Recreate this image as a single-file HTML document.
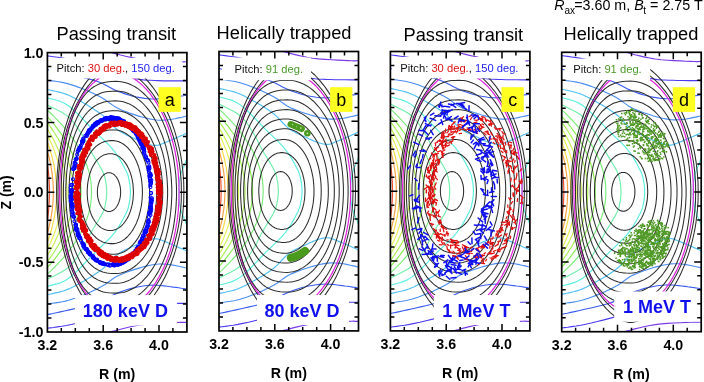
<!DOCTYPE html>
<html><head><meta charset="utf-8"><style>
html,body{margin:0;padding:0;background:#fff;width:704px;height:382px;overflow:hidden}
svg{display:block;font-family:"Liberation Sans",sans-serif;will-change:transform}
</style></head><body>
<svg width="704" height="382" viewBox="0 0 704 382">
<defs><g id="bg">
<g fill="none" stroke-width="1.15"><path d="M-0.7 171.7L-0.5 170.6L-0.3 169.6L-0.1 168.5L0.0 167.4L0.2 166.3L0.3 165.3L0.5 164.2L0.6 163.1L0.7 162.0L0.9 161.0L1.0 159.9L1.1 158.8L1.2 157.7L1.3 156.7L1.4 155.6L1.5 154.5L1.6 153.5L1.7 152.4L1.7 151.3L1.8 150.2L1.9 149.2L1.9 148.1L1.9 147.0L2.0 145.9L2.0 144.9L2.1 143.8L2.1 142.7L2.1 141.6L2.1 140.6L2.1 139.5L2.1 138.4L2.1 137.4L2.1 136.3L2.1 135.2L2.0 134.1L2.0 133.1L1.9 132.0L1.9 130.9L1.9 129.8L1.8 128.8L1.7 127.7L1.7 126.6L1.6 125.5L1.5 124.5L1.4 123.4L1.3 122.3L1.2 121.3L1.1 120.2L1.0 119.1L0.9 118.0L0.7 117.0L0.6 115.9L0.5 114.8L0.3 113.7L0.2 112.7L0.0 111.6L-0.1 110.5L-0.3 109.4L-0.5 108.4L-0.7 107.3" stroke="#f05030"/><path d="M-1.9 186.7L-1.4 185.1L-0.9 183.5L-0.4 181.9L0.0 180.4L0.5 178.8L0.9 177.2L1.3 175.6L1.7 174.1L2.1 172.5L2.4 170.9L2.8 169.4L3.1 167.8L3.4 166.2L3.7 164.6L3.9 163.1L4.2 161.5L4.4 159.9L4.7 158.4L4.9 156.8L5.0 155.2L5.2 153.6L5.3 152.1L5.5 150.5L5.6 148.9L5.7 147.4L5.8 145.8L5.8 144.2L5.9 142.6L5.9 141.1L5.9 139.5L5.9 137.9L5.9 136.4L5.8 134.8L5.8 133.2L5.7 131.6L5.6 130.1L5.5 128.5L5.3 126.9L5.2 125.4L5.0 123.8L4.9 122.2L4.7 120.6L4.4 119.1L4.2 117.5L3.9 115.9L3.7 114.4L3.4 112.8L3.1 111.2L2.8 109.6L2.4 108.1L2.1 106.5L1.7 104.9L1.3 103.4L0.9 101.8L0.5 100.2L0.0 98.6L-0.4 97.1L-0.9 95.5L-1.4 93.9L-1.9 92.3" stroke="#f5a040"/><path d="M-3.0 197.0L-2.2 195.1L-1.4 193.2L-0.7 191.2L0.1 189.3L0.8 187.4L1.4 185.5L2.0 183.6L2.7 181.7L3.2 179.8L3.8 177.8L4.3 175.9L4.8 174.0L5.3 172.1L5.7 170.2L6.2 168.2L6.6 166.3L6.9 164.4L7.3 162.5L7.6 160.6L7.8 158.7L8.1 156.8L8.3 154.8L8.5 152.9L8.7 151.0L8.9 149.1L9.0 147.2L9.1 145.2L9.1 143.3L9.2 141.4L9.2 139.5L9.2 137.6L9.1 135.7L9.1 133.8L9.0 131.8L8.9 129.9L8.7 128.0L8.5 126.1L8.3 124.2L8.1 122.2L7.8 120.3L7.6 118.4L7.3 116.5L6.9 114.6L6.6 112.7L6.2 110.8L5.7 108.8L5.3 106.9L4.8 105.0L4.3 103.1L3.8 101.2L3.2 99.2L2.7 97.3L2.0 95.4L1.4 93.5L0.8 91.6L0.1 89.7L-0.7 87.8L-1.4 85.8L-2.2 83.9L-3.0 82.0" stroke="#f5d840"/><path d="M-4.7 205.1L-3.4 202.9L-2.2 200.7L-1.0 198.5L0.1 196.3L1.2 194.1L2.2 191.9L3.3 189.8L4.2 187.6L5.1 185.4L6.0 183.2L6.9 181.0L7.6 178.8L8.4 176.6L9.1 174.5L9.8 172.3L10.4 170.1L11.0 167.9L11.5 165.7L12.0 163.5L12.5 161.3L12.9 159.2L13.2 157.0L13.5 154.8L13.8 152.6L14.1 150.4L14.3 148.2L14.4 146.1L14.5 143.9L14.6 141.7L14.6 139.5L14.6 137.3L14.5 135.1L14.4 132.9L14.3 130.8L14.1 128.6L13.8 126.4L13.5 124.2L13.2 122.0L12.9 119.8L12.5 117.7L12.0 115.5L11.5 113.3L11.0 111.1L10.4 108.9L9.8 106.7L9.1 104.5L8.4 102.4L7.6 100.2L6.9 98.0L6.0 95.8L5.1 93.6L4.2 91.4L3.3 89.2L2.2 87.1L1.2 84.9L0.1 82.7L-1.0 80.5L-2.2 78.3L-3.4 76.1L-4.7 74.0" stroke="#e8f050"/><path d="M-6.3 212.2L-4.6 209.8L-3.0 207.3L-1.4 204.9L0.1 202.5L1.6 200.1L3.0 197.6L4.4 195.2L5.7 192.8L6.9 190.4L8.1 188.0L9.2 185.5L10.3 183.1L11.3 180.7L12.2 178.3L13.1 175.8L14.0 173.4L14.7 171.0L15.5 168.6L16.1 166.1L16.7 163.7L17.3 161.3L17.8 158.9L18.2 156.5L18.6 154.0L18.9 151.6L19.1 149.2L19.3 146.8L19.5 144.3L19.6 141.9L19.6 139.5L19.6 137.1L19.5 134.7L19.3 132.2L19.1 129.8L18.9 127.4L18.6 125.0L18.2 122.5L17.8 120.1L17.3 117.7L16.7 115.3L16.1 112.9L15.5 110.4L14.7 108.0L14.0 105.6L13.1 103.2L12.2 100.7L11.3 98.3L10.3 95.9L9.2 93.5L8.1 91.0L6.9 88.6L5.7 86.2L4.4 83.8L3.0 81.4L1.6 78.9L0.1 76.5L-1.4 74.1L-3.0 71.7L-4.6 69.2L-6.3 66.8" stroke="#c8f050"/><path d="M-8.4 219.4L-6.2 216.8L-4.0 214.1L-1.9 211.4L0.2 208.8L2.1 206.1L4.0 203.4L5.8 200.8L7.5 198.1L9.2 195.4L10.8 192.8L12.3 190.1L13.7 187.5L15.0 184.8L16.3 182.1L17.5 179.5L18.6 176.8L19.6 174.1L20.6 171.5L21.5 168.8L22.3 166.1L23.0 163.5L23.6 160.8L24.2 158.1L24.7 155.5L25.1 152.8L25.5 150.2L25.8 147.5L25.9 144.8L26.1 142.2L26.1 139.5L26.1 136.8L25.9 134.2L25.8 131.5L25.5 128.8L25.1 126.2L24.7 123.5L24.2 120.9L23.6 118.2L23.0 115.5L22.3 112.9L21.5 110.2L20.6 107.5L19.6 104.9L18.6 102.2L17.5 99.5L16.3 96.9L15.0 94.2L13.7 91.5L12.3 88.9L10.8 86.2L9.2 83.6L7.5 80.9L5.8 78.2L4.0 75.6L2.1 72.9L0.2 70.2L-1.9 67.6L-4.0 64.9L-6.2 62.2L-8.4 59.6" stroke="#a8f050"/><path d="M-10.8 226.4L-7.9 223.5L-5.1 220.6L-2.4 217.7L0.2 214.8L2.7 211.9L5.2 209.1L7.5 206.2L9.7 203.3L11.8 200.4L13.9 197.5L15.8 194.6L17.6 191.7L19.3 188.8L21.0 185.9L22.5 183.0L23.9 180.1L25.3 177.2L26.5 174.3L27.6 171.4L28.7 168.5L29.6 165.6L30.4 162.7L31.2 159.8L31.8 156.9L32.4 154.0L32.8 151.1L33.2 148.2L33.4 145.3L33.6 142.4L33.6 139.5L33.6 136.6L33.4 133.7L33.2 130.8L32.8 127.9L32.4 125.0L31.8 122.1L31.2 119.2L30.4 116.3L29.6 113.4L28.7 110.5L27.6 107.6L26.5 104.7L25.3 101.8L23.9 98.9L22.5 96.0L21.0 93.1L19.3 90.2L17.6 87.3L15.8 84.4L13.9 81.5L11.8 78.6L9.7 75.7L7.5 72.8L5.2 69.9L2.7 67.1L0.2 64.2L-2.4 61.3L-5.1 58.4L-7.9 55.5L-10.8 52.6" stroke="#88ec50"/><path d="M-14.3 233.8L-10.4 230.7L-6.7 227.5L-3.1 224.4L0.3 221.2L3.6 218.1L6.8 214.9L9.8 211.8L12.8 208.7L15.6 205.5L18.2 202.4L20.8 199.2L23.2 196.1L25.4 192.9L27.6 189.8L29.6 186.7L31.5 183.5L33.2 180.4L34.8 177.2L36.3 174.1L37.7 170.9L38.9 167.8L40.0 164.6L41.0 161.5L41.9 158.4L42.6 155.2L43.2 152.1L43.6 148.9L43.9 145.8L44.1 142.6L44.2 139.5L44.1 136.4L43.9 133.2L43.6 130.1L43.2 126.9L42.6 123.8L41.9 120.6L41.0 117.5L40.0 114.4L38.9 111.2L37.7 108.1L36.3 104.9L34.8 101.8L33.2 98.6L31.5 95.5L29.6 92.3L27.6 89.2L25.4 86.1L23.2 82.9L20.8 79.8L18.2 76.6L15.6 73.5L12.8 70.3L9.8 67.2L6.8 64.1L3.6 60.9L0.3 57.8L-3.1 54.6L-6.7 51.5L-10.4 48.3L-14.3 45.2" stroke="#78ec78"/><path d="M-5.0 51.0L-4.6 51.0L-4.3 51.0L-3.8 51.0L-3.0 51.2L-1.8 51.6L0.0 52.5L2.7 53.8L6.1 55.4L10.0 57.4L14.0 59.5L17.8 61.8L21.0 64.2L23.7 66.7L26.1 69.5L28.3 72.3L30.3 75.3L32.2 78.3L34.1 81.2L35.8 84.0L37.4 86.8L38.8 89.7L40.2 92.5L41.7 95.5L43.3 98.5L45.2 101.8L47.4 105.3L49.6 108.9L51.7 112.4L53.6 115.7L55.1 118.5L56.2 120.9L56.9 122.9L57.4 124.6L57.8 126.2L58.0 127.8L58.4 129.5L58.7 131.2L58.9 132.9L59.1 134.6L59.2 136.2L59.3 137.8L59.3 139.5L59.3 141.2L59.2 142.8L59.1 144.4L58.9 146.1L58.7 147.8L58.4 149.5L58.0 151.2L57.8 152.8L57.4 154.4L56.9 156.1L56.2 158.1L55.1 160.5L53.6 163.3L51.7 166.6L49.6 170.1L47.4 173.7L45.2 177.2L43.3 180.5L41.7 183.5L40.2 186.5L38.8 189.3L37.4 192.2L35.8 195.0L34.1 197.8L32.2 200.7L30.3 203.7L28.3 206.7L26.1 209.5L23.7 212.3L21.0 214.8L17.8 217.2L14.0 219.5L10.0 221.6L6.1 223.6L2.7 225.2L0.0 226.5L-1.8 227.4L-3.0 227.8L-3.8 228.0L-4.3 228.0L-4.6 228.0L-5.0 228.0" stroke="#70eeaa"/><path d="M-5.0 43.5L-4.6 43.6L-4.3 43.7L-3.8 43.9L-3.0 44.1L-1.8 44.5L0.0 45.2L2.5 46.0L5.6 46.7L9.2 47.7L13.0 48.9L17.0 50.7L21.0 53.1L25.1 56.4L29.6 60.5L34.2 65.1L38.8 69.9L43.2 74.5L47.2 78.6L50.9 82.2L54.5 85.6L57.9 88.9L61.1 92.1L64.1 95.2L66.8 98.5L69.3 101.9L71.7 105.5L73.8 109.1L75.7 112.5L77.3 115.7L78.8 118.5L79.8 120.9L80.6 122.9L81.1 124.6L81.4 126.2L81.7 127.8L82.0 129.5L82.4 131.2L82.6 132.9L82.8 134.6L82.9 136.2L83.0 137.8L83.0 139.5L83.0 141.2L82.9 142.8L82.8 144.4L82.6 146.1L82.4 147.8L82.0 149.5L81.7 151.2L81.4 152.8L81.1 154.4L80.6 156.1L79.8 158.1L78.8 160.5L77.3 163.3L75.7 166.5L73.8 169.9L71.7 173.5L69.3 177.1L66.8 180.5L64.1 183.8L61.1 186.9L57.9 190.1L54.5 193.4L50.9 196.8L47.2 200.4L43.2 204.5L38.8 209.1L34.2 213.9L29.6 218.5L25.1 222.6L21.0 225.9L17.0 228.3L13.0 230.1L9.2 231.3L5.6 232.3L2.5 233.0L0.0 233.8L-1.8 234.5L-3.0 234.9L-3.8 235.1L-4.3 235.3L-4.6 235.4L-5.0 235.5" stroke="#58eee0"/><path d="M-5.0 36.0L-4.6 36.1L-4.2 36.1L-3.6 36.2L-2.8 36.3L-1.7 36.5L0.0 36.9L2.3 37.4L5.1 38.0L8.3 38.7L11.7 39.5L15.1 40.4L18.3 41.5L21.4 42.7L24.4 44.1L27.5 45.7L30.6 47.3L33.6 49.0L36.7 50.7L39.8 52.5L42.9 54.3L46.1 56.3L49.1 58.3L52.1 60.3L55.0 62.5L57.7 64.8L60.1 67.4L62.5 70.0L64.9 72.5L67.4 74.9L70.0 77.1L72.9 79.0L76.0 80.7L79.2 82.3L82.4 83.8L85.4 85.1L88.0 86.3L90.2 87.4L92.2 88.3L94.0 89.1L95.7 89.8L97.3 90.4L99.0 91.0L100.7 91.5L102.4 92.0L104.1 92.4L105.8 92.7L107.4 92.8L109.0 92.8L110.6 92.6L112.1 92.2L113.7 91.6L115.2 91.0L116.7 90.3L118.3 89.7L119.9 89.1L121.5 88.4L123.2 87.7L124.8 87.0L126.5 86.3L128.3 85.5L130.2 84.7L132.3 83.7L134.5 82.8L136.5 81.9L138.4 81.0L140.0 80.3L141.3 79.7L142.3 79.2L143.2 78.8L144.0 78.5L144.5 78.2L145.0 78.0" stroke="#50c0f4"/><path d="M-5.0 243.0L-4.6 242.9L-4.2 242.9L-3.6 242.8L-2.8 242.7L-1.7 242.5L0.0 242.1L2.3 241.6L5.1 241.0L8.3 240.3L11.7 239.5L15.1 238.6L18.3 237.5L21.4 236.3L24.4 234.9L27.5 233.3L30.6 231.7L33.6 230.0L36.7 228.3L39.8 226.5L42.9 224.7L46.1 222.7L49.1 220.7L52.1 218.7L55.0 216.5L57.7 214.2L60.1 211.6L62.5 209.0L64.9 206.5L67.4 204.1L70.0 201.9L72.9 200.0L76.0 198.3L79.2 196.7L82.4 195.2L85.4 193.9L88.0 192.7L90.2 191.6L92.2 190.7L94.0 189.9L95.7 189.2L97.3 188.6L99.0 188.0L100.7 187.5L102.4 187.0L104.1 186.6L105.8 186.3L107.4 186.2L109.0 186.2L110.6 186.4L112.1 186.8L113.7 187.4L115.2 188.0L116.7 188.7L118.3 189.3L119.9 189.9L121.5 190.6L123.2 191.3L124.8 192.0L126.5 192.7L128.3 193.5L130.2 194.3L132.3 195.3L134.5 196.2L136.5 197.1L138.4 198.0L140.0 198.7L141.3 199.3L142.3 199.8L143.2 200.2L144.0 200.5L144.5 200.8L145.0 201.0" stroke="#50c0f4"/><path d="M-5.0 27.0L-4.6 27.1L-4.2 27.1L-3.6 27.2L-2.8 27.3L-1.6 27.5L0.0 27.7L2.2 28.0L5.0 28.3L8.1 28.7L11.4 29.2L14.8 29.8L18.0 30.5L21.1 31.3L24.3 32.3L27.5 33.3L30.7 34.5L33.9 35.7L37.0 36.9L40.1 38.2L43.2 39.6L46.2 41.0L49.3 42.4L52.2 44.0L55.0 45.5L57.6 47.1L60.1 48.8L62.5 50.6L64.9 52.3L67.3 54.0L70.0 55.5L72.9 56.9L75.9 58.1L78.9 59.3L82.1 60.5L85.2 61.5L88.3 62.5L91.4 63.5L94.6 64.4L97.7 65.2L100.8 66.0L103.9 66.6L106.7 67.1L109.3 67.4L111.7 67.6L114.0 67.6L116.3 67.5L118.7 67.4L121.3 67.1L124.3 66.7L127.7 66.1L131.2 65.3L134.6 64.6L137.6 63.9L140.0 63.4L141.7 63.0L142.9 62.7L143.7 62.5L144.2 62.3L144.6 62.1L145.0 62.0" stroke="#4a8cf0"/><path d="M-5.0 252.0L-4.6 251.9L-4.2 251.9L-3.6 251.8L-2.8 251.7L-1.6 251.5L0.0 251.3L2.2 251.0L5.0 250.7L8.1 250.3L11.4 249.8L14.8 249.2L18.0 248.5L21.1 247.7L24.3 246.7L27.5 245.7L30.7 244.5L33.9 243.3L37.0 242.1L40.1 240.8L43.2 239.4L46.2 238.0L49.3 236.6L52.2 235.0L55.0 233.5L57.6 231.9L60.1 230.2L62.5 228.4L64.9 226.7L67.3 225.0L70.0 223.5L72.9 222.1L75.9 220.9L78.9 219.7L82.1 218.5L85.2 217.5L88.3 216.5L91.4 215.5L94.6 214.6L97.7 213.8L100.8 213.0L103.9 212.4L106.7 211.9L109.3 211.6L111.7 211.4L114.0 211.4L116.3 211.5L118.7 211.6L121.3 211.9L124.3 212.3L127.7 212.9L131.2 213.7L134.6 214.4L137.6 215.1L140.0 215.6L141.7 216.0L142.9 216.3L143.7 216.5L144.2 216.7L144.6 216.9L145.0 217.0" stroke="#4a8cf0"/><path d="M-5.0 16.0L-4.6 16.1L-4.3 16.1L-3.8 16.2L-3.0 16.4L-1.8 16.6L0.0 17.0L2.5 17.5L5.5 18.1L9.0 18.9L12.9 19.7L16.9 20.6L21.0 21.5L25.4 22.5L30.2 23.6L35.3 24.8L40.3 26.0L45.1 27.3L49.5 28.7L53.4 30.2L57.0 31.9L60.4 33.7L63.6 35.4L66.8 37.1L70.0 38.5L73.2 39.7L76.3 40.8L79.3 41.8L82.3 42.7L85.3 43.5L88.3 44.2L91.4 44.8L94.4 45.3L97.4 45.8L100.5 46.1L103.6 46.3L106.7 46.4L109.9 46.3L113.3 46.1L116.6 45.7L119.9 45.3L123.1 44.9L126.0 44.5L128.7 44.2L131.4 43.8L133.9 43.4L136.2 43.1L138.2 42.7L140.0 42.5L141.4 42.3L142.5 42.2L143.4 42.1L144.0 42.1L144.6 42.0L145.0 42.0" stroke="#3a5cf0"/><path d="M-5.0 263.0L-4.6 262.9L-4.3 262.9L-3.8 262.8L-3.0 262.6L-1.8 262.4L0.0 262.0L2.5 261.5L5.5 260.9L9.0 260.1L12.9 259.3L16.9 258.4L21.0 257.5L25.4 256.5L30.2 255.4L35.3 254.2L40.3 253.0L45.1 251.7L49.5 250.3L53.4 248.8L57.0 247.1L60.4 245.3L63.6 243.6L66.8 241.9L70.0 240.5L73.2 239.3L76.3 238.2L79.3 237.2L82.3 236.3L85.3 235.5L88.3 234.8L91.4 234.2L94.4 233.7L97.4 233.2L100.5 232.9L103.6 232.7L106.7 232.6L109.9 232.7L113.3 232.9L116.6 233.3L119.9 233.7L123.1 234.1L126.0 234.5L128.7 234.8L131.4 235.2L133.9 235.6L136.2 235.9L138.2 236.3L140.0 236.5L141.4 236.7L142.5 236.8L143.4 236.9L144.0 236.9L144.6 237.0L145.0 237.0" stroke="#3a5cf0"/><path d="M-5.0 2.5L-4.7 2.6L-4.4 2.6L-4.0 2.7L-3.3 2.8L-2.0 3.0L0.0 3.3L2.8 3.7L6.1 4.1L10.0 4.7L14.3 5.3L19.0 6.1L24.0 7.1L29.5 8.3L35.7 9.8L42.3 11.4L48.9 13.2L55.2 14.9L61.0 16.5L66.2 18.2L71.0 19.9L75.5 21.7L79.9 23.4L84.1 24.8L88.3 26.0L92.3 26.8L96.0 27.3L99.5 27.6L103.1 27.7L106.9 27.9L111.0 28.0L115.7 28.2L121.1 28.2L126.6 28.3L131.9 28.3L136.5 28.3L140.0 28.3L142.3 28.3L143.6 28.3L144.3 28.3L144.6 28.3L144.7 28.3L145.0 28.3" stroke="#4a3af0"/><path d="M-5.0 276.5L-4.7 276.4L-4.4 276.4L-4.0 276.3L-3.3 276.2L-2.0 276.0L0.0 275.7L2.8 275.3L6.1 274.9L10.0 274.3L14.3 273.7L19.0 272.9L24.0 271.9L29.5 270.7L35.7 269.2L42.3 267.6L48.9 265.8L55.2 264.1L61.0 262.5L66.2 260.8L71.0 259.1L75.5 257.3L79.9 255.6L84.1 254.2L88.3 253.0L92.3 252.2L96.0 251.7L99.5 251.4L103.1 251.3L106.9 251.1L111.0 251.0L115.7 250.8L121.1 250.8L126.6 250.7L131.9 250.7L136.5 250.7L140.0 250.7L142.3 250.7L143.6 250.7L144.3 250.7L144.6 250.7L144.7 250.7L145.0 250.7" stroke="#4a3af0"/><path d="M31.0 -9.5L34.5 -8.5L39.3 -7.0L45.1 -5.3L51.3 -3.5L57.4 -1.8L63.0 -0.3L68.1 1.0L73.1 2.4L78.1 3.6L83.1 4.8L88.2 5.8L93.6 6.7L99.5 7.4L105.9 7.9L112.5 8.3L118.8 8.6L124.4 8.9L129.0 9.1L132.4 9.2L134.8 9.3L136.6 9.3L137.9 9.2L139.1 9.1L140.3 9.1L141.5 9.1L142.5 9.1L143.4 9.1L144.0 9.1L144.6 9.1L145.0 9.1" stroke="#7a3ae8"/><path d="M31.0 288.5L34.5 287.5L39.3 286.0L45.1 284.3L51.3 282.5L57.4 280.8L63.0 279.3L68.1 278.0L73.1 276.6L78.1 275.4L83.1 274.2L88.2 273.2L93.6 272.3L99.5 271.6L105.9 271.1L112.5 270.7L118.8 270.4L124.4 270.1L129.0 269.9L132.4 269.8L134.8 269.7L136.6 269.8L137.9 269.8L139.1 269.9L140.3 269.9L141.5 269.9L142.5 269.9L143.4 269.9L144.0 269.9L144.6 269.9L145.0 269.9" stroke="#7a3ae8"/><path d="M143.0 98.5L142.5 99.7L141.7 101.4L140.8 103.4L139.9 105.6L138.9 107.7L138.1 109.7L137.3 111.5L136.5 113.4L135.8 115.2L135.0 117.0L134.4 118.7L133.8 120.5L133.3 122.2L132.9 124.0L132.6 125.7L132.3 127.3L132.1 129.0L131.9 130.6L131.7 132.2L131.6 133.7L131.6 135.1L131.5 136.6L131.5 138.0L131.5 139.5L131.5 141.0L131.5 142.4L131.6 143.9L131.6 145.3L131.7 146.8L131.9 148.4L132.1 150.0L132.3 151.7L132.6 153.3L132.9 155.0L133.3 156.8L133.8 158.5L134.4 160.3L135.0 162.0L135.8 163.8L136.5 165.6L137.3 167.5L138.1 169.3L138.9 171.3L139.9 173.4L140.8 175.6L141.7 177.6L142.5 179.3L143.0 180.5" stroke="#58eee0"/></g>
<g fill="none" stroke="#2c2c2c" stroke-width="1.05">
<path d="M134.0 139.5L133.9 134.6L133.8 129.7L133.5 124.9L133.0 120.0L132.5 115.2L131.9 110.4L131.1 105.7L130.2 101.0L129.2 96.4L128.1 91.9L126.9 87.4L125.6 83.0L124.2 78.7L122.7 74.4L121.1 70.3L119.4 66.3L117.6 62.4L115.8 58.6L113.9 55.0L111.9 51.5L109.8 48.1L107.7 44.8L105.6 41.7L103.4 38.8L101.1 36.0L98.8 33.3L96.5 30.9L94.2 28.6L91.9 26.4L89.5 24.5L87.2 22.7L84.9 21.1L82.6 19.7L80.3 18.4L78.1 17.4L76.0 16.5L74.0 15.9L72.1 15.4L70.3 15.1L69.0 15.0L67.4 15.1L65.6 15.4L63.7 15.9L61.7 16.5L59.6 17.4L57.6 18.4L55.4 19.7L53.3 21.1L51.2 22.7L49.1 24.5L47.0 26.4L44.9 28.6L42.8 30.9L40.8 33.3L38.8 36.0L36.8 38.8L34.9 41.7L33.0 44.8L31.2 48.1L29.4 51.5L27.7 55.0L26.0 58.6L24.4 62.4L22.9 66.3L21.5 70.3L20.1 74.4L18.9 78.7L17.7 83.0L16.6 87.4L15.6 91.9L14.6 96.4L13.8 101.0L13.1 105.7L12.4 110.4L11.9 115.2L11.4 120.0L11.1 124.9L10.8 129.7L10.7 134.6L10.6 139.5L10.7 144.4L10.8 149.3L11.1 154.1L11.4 159.0L11.9 163.8L12.4 168.6L13.1 173.3L13.8 178.0L14.6 182.6L15.6 187.1L16.6 191.6L17.7 196.0L18.9 200.3L20.1 204.6L21.5 208.7L22.9 212.7L24.4 216.6L26.0 220.4L27.7 224.0L29.4 227.5L31.2 230.9L33.0 234.2L34.9 237.3L36.8 240.2L38.8 243.0L40.8 245.7L42.8 248.1L44.9 250.4L47.0 252.6L49.1 254.5L51.2 256.3L53.3 257.9L55.4 259.3L57.6 260.6L59.6 261.6L61.7 262.5L63.7 263.1L65.6 263.6L67.4 263.9L69.0 264.0L70.3 263.9L72.1 263.6L74.0 263.1L76.0 262.5L78.1 261.6L80.3 260.6L82.6 259.3L84.9 257.9L87.2 256.3L89.5 254.5L91.9 252.6L94.2 250.4L96.5 248.1L98.8 245.7L101.1 243.0L103.4 240.2L105.6 237.3L107.7 234.2L109.8 230.9L111.9 227.5L113.9 224.0L115.8 220.4L117.6 216.6L119.4 212.7L121.1 208.7L122.7 204.6L124.2 200.3L125.6 196.0L126.9 191.6L128.1 187.1L129.2 182.6L130.2 178.0L131.1 173.3L131.9 168.6L132.5 163.8L133.0 159.0L133.5 154.1L133.8 149.3L133.9 144.4L134.0 139.5Z"/>
<path d="M136.5 139.5L136.4 134.4L136.3 129.2L135.9 124.1L135.5 119.1L134.9 114.0L134.3 109.0L133.5 104.0L132.6 99.1L131.5 94.3L130.4 89.5L129.1 84.8L127.8 80.2L126.3 75.6L124.7 71.2L123.1 66.9L121.3 62.7L119.5 58.6L117.6 54.6L115.6 50.8L113.5 47.1L111.4 43.5L109.2 40.1L107.0 36.9L104.7 33.8L102.3 30.8L100.0 28.1L97.6 25.5L95.2 23.0L92.7 20.8L90.3 18.7L87.9 16.9L85.5 15.2L83.1 13.7L80.8 12.4L78.5 11.3L76.3 10.4L74.2 9.7L72.2 9.2L70.4 8.9L69.0 8.8L67.4 8.9L65.5 9.2L63.6 9.7L61.5 10.4L59.4 11.3L57.3 12.4L55.1 13.7L52.9 15.2L50.8 16.9L48.6 18.7L46.4 20.8L44.3 23.0L42.2 25.5L40.1 28.1L38.0 30.8L36.0 33.8L34.0 36.9L32.1 40.1L30.3 43.5L28.4 47.1L26.7 50.8L25.0 54.6L23.4 58.6L21.8 62.7L20.4 66.9L19.0 71.2L17.7 75.6L16.5 80.2L15.3 84.8L14.3 89.5L13.3 94.3L12.5 99.1L11.7 104.0L11.0 109.0L10.5 114.0L10.0 119.1L9.7 124.1L9.4 129.2L9.3 134.4L9.2 139.5L9.3 144.6L9.4 149.8L9.7 154.9L10.0 159.9L10.5 165.0L11.0 170.0L11.7 175.0L12.5 179.9L13.3 184.7L14.3 189.5L15.3 194.2L16.5 198.8L17.7 203.4L19.0 207.8L20.4 212.1L21.8 216.3L23.4 220.4L25.0 224.4L26.7 228.2L28.4 231.9L30.3 235.5L32.1 238.9L34.0 242.1L36.0 245.2L38.0 248.2L40.1 250.9L42.2 253.5L44.3 256.0L46.4 258.2L48.6 260.3L50.8 262.1L52.9 263.8L55.1 265.3L57.3 266.6L59.4 267.7L61.5 268.6L63.6 269.3L65.5 269.8L67.4 270.1L69.0 270.2L70.4 270.1L72.2 269.8L74.2 269.3L76.3 268.6L78.5 267.7L80.8 266.6L83.1 265.3L85.5 263.8L87.9 262.1L90.3 260.3L92.7 258.2L95.2 256.0L97.6 253.5L100.0 250.9L102.3 248.2L104.7 245.2L107.0 242.1L109.2 238.9L111.4 235.5L113.5 231.9L115.6 228.2L117.6 224.4L119.5 220.4L121.3 216.3L123.1 212.1L124.7 207.8L126.3 203.4L127.8 198.8L129.1 194.2L130.4 189.5L131.5 184.7L132.6 179.9L133.5 175.0L134.3 170.0L134.9 165.0L135.5 159.9L135.9 154.9L136.3 149.8L136.4 144.6L136.5 139.5Z"/>
</g>
<path d="M131.7 139.5L131.6 134.8L131.5 130.1L131.2 125.5L130.9 120.8L130.4 116.2L129.8 111.6L129.1 107.1L128.3 102.6L127.5 98.1L126.5 93.8L125.4 89.5L124.2 85.2L123.0 81.1L121.6 77.1L120.2 73.1L118.7 69.3L117.1 65.5L115.4 61.9L113.6 58.4L111.8 55.0L109.9 51.7L108.0 48.6L106.0 45.7L103.9 42.8L101.8 40.1L99.7 37.6L97.5 35.2L95.3 33.0L93.1 31.0L90.8 29.1L88.5 27.4L86.2 25.8L83.9 24.5L81.7 23.3L79.4 22.3L77.1 21.5L74.9 20.8L72.8 20.4L70.8 20.1L69.0 20.0L66.8 20.1L64.5 20.4L62.3 20.8L60.1 21.5L57.9 22.3L55.7 23.3L53.6 24.5L51.4 25.8L49.3 27.4L47.3 29.1L45.2 31.0L43.2 33.0L41.2 35.2L39.3 37.6L37.4 40.1L35.6 42.8L33.8 45.7L32.1 48.6L30.4 51.7L28.8 55.0L27.3 58.4L25.8 61.9L24.4 65.5L23.0 69.3L21.8 73.1L20.6 77.1L19.4 81.1L18.4 85.2L17.4 89.5L16.5 93.8L15.7 98.1L15.0 102.6L14.3 107.1L13.8 111.6L13.3 116.2L12.9 120.8L12.6 125.5L12.4 130.1L12.2 134.8L12.2 139.5L12.2 144.2L12.4 148.9L12.6 153.5L12.9 158.2L13.3 162.8L13.8 167.4L14.3 171.9L15.0 176.4L15.7 180.9L16.5 185.2L17.4 189.5L18.4 193.8L19.4 197.9L20.6 201.9L21.8 205.9L23.0 209.7L24.4 213.5L25.8 217.1L27.3 220.6L28.8 224.0L30.4 227.3L32.1 230.4L33.8 233.3L35.6 236.2L37.4 238.9L39.3 241.4L41.2 243.8L43.2 246.0L45.2 248.0L47.3 249.9L49.3 251.6L51.4 253.2L53.6 254.5L55.7 255.7L57.9 256.7L60.1 257.5L62.3 258.2L64.5 258.6L66.8 258.9L69.0 259.0L70.8 258.9L72.8 258.6L74.9 258.2L77.1 257.5L79.4 256.7L81.7 255.7L83.9 254.5L86.2 253.2L88.5 251.6L90.8 249.9L93.1 248.0L95.3 246.0L97.5 243.8L99.7 241.4L101.8 238.9L103.9 236.2L106.0 233.3L108.0 230.4L109.9 227.3L111.8 224.0L113.6 220.6L115.4 217.1L117.1 213.5L118.7 209.7L120.2 205.9L121.6 201.9L123.0 197.9L124.2 193.8L125.4 189.5L126.5 185.2L127.5 180.9L128.3 176.4L129.1 171.9L129.8 167.4L130.4 162.8L130.9 158.2L131.2 153.5L131.5 148.9L131.6 144.2L131.7 139.5Z" fill="none" stroke="#e020e0" stroke-width="1.2"/>
<g fill="none" stroke="#2c2c2c" stroke-width="1.05">
<path d="M73.2 139.5L73.2 138.7L73.2 138.0L73.1 137.2L73.1 136.5L73.0 135.7L72.9 135.0L72.8 134.2L72.6 133.5L72.5 132.8L72.3 132.1L72.1 131.4L71.9 130.7L71.7 130.0L71.5 129.4L71.2 128.7L71.0 128.1L70.7 127.5L70.4 126.9L70.1 126.3L69.8 125.8L69.5 125.3L69.1 124.7L68.8 124.3L68.4 123.8L68.0 123.4L67.7 123.0L67.3 122.6L66.9 122.2L66.5 121.9L66.0 121.6L65.6 121.3L65.2 121.0L64.7 120.8L64.3 120.6L63.9 120.5L63.4 120.3L63.0 120.2L62.5 120.2L62.1 120.1L61.6 120.1L61.1 120.1L60.7 120.2L60.2 120.2L59.8 120.3L59.3 120.5L58.9 120.6L58.5 120.8L58.0 121.0L57.6 121.3L57.2 121.6L56.7 121.9L56.3 122.2L55.9 122.6L55.5 123.0L55.2 123.4L54.8 123.8L54.4 124.3L54.1 124.7L53.7 125.3L53.4 125.8L53.1 126.3L52.8 126.9L52.5 127.5L52.2 128.1L52.0 128.7L51.7 129.4L51.5 130.0L51.3 130.7L51.1 131.4L50.9 132.1L50.7 132.8L50.6 133.5L50.4 134.2L50.3 135.0L50.2 135.7L50.1 136.5L50.1 137.2L50.0 138.0L50.0 138.7L50.0 139.5L50.0 140.3L50.0 141.0L50.1 141.8L50.1 142.5L50.2 143.3L50.3 144.0L50.4 144.8L50.6 145.5L50.7 146.2L50.9 146.9L51.1 147.6L51.3 148.3L51.5 149.0L51.7 149.6L52.0 150.3L52.2 150.9L52.5 151.5L52.8 152.1L53.1 152.7L53.4 153.2L53.7 153.7L54.1 154.3L54.4 154.7L54.8 155.2L55.2 155.6L55.5 156.0L55.9 156.4L56.3 156.8L56.7 157.1L57.2 157.4L57.6 157.7L58.0 158.0L58.5 158.2L58.9 158.4L59.3 158.5L59.8 158.7L60.2 158.8L60.7 158.8L61.1 158.9L61.6 158.9L62.1 158.9L62.5 158.8L63.0 158.8L63.4 158.7L63.9 158.5L64.3 158.4L64.7 158.2L65.2 158.0L65.6 157.7L66.0 157.4L66.5 157.1L66.9 156.8L67.3 156.4L67.7 156.0L68.0 155.6L68.4 155.2L68.8 154.7L69.1 154.3L69.5 153.7L69.8 153.2L70.1 152.7L70.4 152.1L70.7 151.5L71.0 150.9L71.2 150.3L71.5 149.6L71.7 149.0L71.9 148.3L72.1 147.6L72.3 146.9L72.5 146.2L72.6 145.5L72.8 144.8L72.9 144.0L73.0 143.3L73.1 142.5L73.1 141.8L73.2 141.0L73.2 140.3L73.2 139.5Z"/>
<path d="M86.0 139.5L86.0 138.0L85.9 136.5L85.8 135.0L85.7 133.5L85.6 132.0L85.4 130.5L85.1 129.1L84.9 127.6L84.6 126.2L84.2 124.8L83.9 123.4L83.5 122.1L83.1 120.7L82.6 119.4L82.1 118.2L81.6 116.9L81.1 115.7L80.5 114.6L79.9 113.4L79.3 112.3L78.6 111.3L77.9 110.3L77.2 109.3L76.5 108.4L75.8 107.6L75.0 106.8L74.2 106.0L73.4 105.3L72.6 104.6L71.8 104.0L71.0 103.5L70.1 103.0L69.2 102.5L68.4 102.2L67.5 101.8L66.6 101.6L65.7 101.4L64.8 101.2L63.9 101.1L63.0 101.1L61.9 101.1L60.9 101.2L59.9 101.4L58.9 101.6L58.0 101.8L57.1 102.2L56.2 102.5L55.3 103.0L54.4 103.5L53.6 104.0L52.8 104.6L52.0 105.3L51.2 106.0L50.4 106.8L49.6 107.6L48.9 108.4L48.2 109.3L47.5 110.3L46.9 111.3L46.3 112.3L45.6 113.4L45.1 114.6L44.5 115.7L44.0 116.9L43.5 118.2L43.0 119.4L42.6 120.7L42.2 122.1L41.8 123.4L41.5 124.8L41.2 126.2L40.9 127.6L40.6 129.1L40.4 130.5L40.2 132.0L40.1 133.5L40.0 135.0L39.9 136.5L39.8 138.0L39.8 139.5L39.8 141.0L39.9 142.5L40.0 144.0L40.1 145.5L40.2 147.0L40.4 148.5L40.6 149.9L40.9 151.4L41.2 152.8L41.5 154.2L41.8 155.6L42.2 156.9L42.6 158.3L43.0 159.6L43.5 160.8L44.0 162.1L44.5 163.3L45.1 164.4L45.6 165.6L46.3 166.7L46.9 167.7L47.5 168.7L48.2 169.7L48.9 170.6L49.6 171.4L50.4 172.2L51.2 173.0L52.0 173.7L52.8 174.4L53.6 175.0L54.4 175.5L55.3 176.0L56.2 176.5L57.1 176.8L58.0 177.2L58.9 177.4L59.9 177.6L60.9 177.8L61.9 177.9L63.0 177.9L63.9 177.9L64.8 177.8L65.7 177.6L66.6 177.4L67.5 177.2L68.4 176.8L69.2 176.5L70.1 176.0L71.0 175.5L71.8 175.0L72.6 174.4L73.4 173.7L74.2 173.0L75.0 172.2L75.8 171.4L76.5 170.6L77.2 169.7L77.9 168.7L78.6 167.7L79.3 166.7L79.9 165.6L80.5 164.4L81.1 163.3L81.6 162.1L82.1 160.8L82.6 159.6L83.1 158.3L83.5 156.9L83.9 155.6L84.2 154.2L84.6 152.8L84.9 151.4L85.1 149.9L85.4 148.5L85.6 147.0L85.7 145.5L85.8 144.0L85.9 142.5L86.0 141.0L86.0 139.5Z"/>
<path d="M95.0 139.5L95.0 137.5L94.9 135.5L94.8 133.4L94.6 131.4L94.4 129.5L94.2 127.5L93.9 125.5L93.5 123.6L93.1 121.7L92.7 119.8L92.2 117.9L91.7 116.1L91.2 114.3L90.6 112.6L89.9 110.9L89.3 109.2L88.6 107.6L87.8 106.1L87.0 104.5L86.2 103.1L85.4 101.7L84.5 100.3L83.6 99.1L82.6 97.8L81.7 96.7L80.7 95.6L79.7 94.6L78.6 93.6L77.6 92.7L76.5 91.9L75.4 91.2L74.3 90.5L73.1 89.9L72.0 89.4L70.9 89.0L69.7 88.6L68.5 88.4L67.4 88.2L66.2 88.0L65.0 88.0L63.1 88.0L61.6 88.2L60.1 88.4L58.7 88.6L57.4 89.0L56.0 89.4L54.8 89.9L53.5 90.5L52.3 91.2L51.2 91.9L50.0 92.7L48.9 93.6L47.9 94.6L46.8 95.6L45.8 96.7L44.8 97.8L43.9 99.1L43.0 100.3L42.1 101.7L41.3 103.1L40.5 104.5L39.7 106.1L39.0 107.6L38.3 109.2L37.6 110.9L37.0 112.6L36.4 114.3L35.9 116.1L35.4 117.9L35.0 119.8L34.6 121.7L34.2 123.6L33.9 125.5L33.6 127.5L33.3 129.5L33.1 131.4L33.0 133.4L32.9 135.5L32.8 137.5L32.8 139.5L32.8 141.5L32.9 143.5L33.0 145.6L33.1 147.6L33.3 149.5L33.6 151.5L33.9 153.5L34.2 155.4L34.6 157.3L35.0 159.2L35.4 161.1L35.9 162.9L36.4 164.7L37.0 166.4L37.6 168.1L38.3 169.8L39.0 171.4L39.7 172.9L40.5 174.5L41.3 175.9L42.1 177.3L43.0 178.7L43.9 179.9L44.8 181.2L45.8 182.3L46.8 183.4L47.9 184.4L48.9 185.4L50.0 186.3L51.2 187.1L52.3 187.8L53.5 188.5L54.8 189.1L56.0 189.6L57.4 190.0L58.7 190.4L60.1 190.6L61.6 190.8L63.1 191.0L65.0 191.0L66.2 191.0L67.4 190.8L68.5 190.6L69.7 190.4L70.9 190.0L72.0 189.6L73.1 189.1L74.3 188.5L75.4 187.8L76.5 187.1L77.6 186.3L78.6 185.4L79.7 184.4L80.7 183.4L81.7 182.3L82.6 181.2L83.6 179.9L84.5 178.7L85.4 177.3L86.2 175.9L87.0 174.5L87.8 172.9L88.6 171.4L89.3 169.8L89.9 168.1L90.6 166.4L91.2 164.7L91.7 162.9L92.2 161.1L92.7 159.2L93.1 157.3L93.5 155.4L93.9 153.5L94.2 151.5L94.4 149.5L94.6 147.6L94.8 145.6L94.9 143.5L95.0 141.5L95.0 139.5Z"/>
<path d="M102.2 139.5L102.2 137.1L102.1 134.6L102.0 132.2L101.8 129.8L101.5 127.4L101.2 125.0L100.9 122.6L100.5 120.3L100.0 118.0L99.5 115.7L98.9 113.5L98.3 111.3L97.6 109.1L96.9 107.0L96.2 104.9L95.4 102.9L94.5 101.0L93.6 99.1L92.7 97.3L91.7 95.5L90.7 93.8L89.7 92.2L88.6 90.7L87.5 89.2L86.3 87.8L85.2 86.5L83.9 85.2L82.7 84.1L81.4 83.0L80.2 82.0L78.9 81.1L77.5 80.3L76.2 79.6L74.8 79.0L73.5 78.5L72.1 78.1L70.7 77.7L69.3 77.5L67.9 77.3L66.5 77.3L64.0 77.3L62.0 77.5L60.2 77.7L58.5 78.1L56.9 78.5L55.3 79.0L53.8 79.6L52.4 80.3L51.0 81.1L49.6 82.0L48.3 83.0L47.0 84.1L45.7 85.2L44.5 86.5L43.4 87.8L42.2 89.2L41.2 90.7L40.1 92.2L39.1 93.8L38.2 95.5L37.3 97.3L36.4 99.1L35.6 101.0L34.8 102.9L34.0 104.9L33.4 107.0L32.7 109.1L32.1 111.3L31.5 113.5L31.0 115.7L30.6 118.0L30.2 120.3L29.8 122.6L29.5 125.0L29.2 127.4L29.0 129.8L28.8 132.2L28.7 134.6L28.6 137.1L28.6 139.5L28.6 141.9L28.7 144.4L28.8 146.8L29.0 149.2L29.2 151.6L29.5 154.0L29.8 156.4L30.2 158.7L30.6 161.0L31.0 163.3L31.5 165.5L32.1 167.7L32.7 169.9L33.4 172.0L34.0 174.1L34.8 176.1L35.6 178.0L36.4 179.9L37.3 181.7L38.2 183.5L39.1 185.2L40.1 186.8L41.2 188.3L42.2 189.8L43.4 191.2L44.5 192.5L45.7 193.8L47.0 194.9L48.3 196.0L49.6 197.0L51.0 197.9L52.4 198.7L53.8 199.4L55.3 200.0L56.9 200.5L58.5 200.9L60.2 201.3L62.0 201.5L64.0 201.7L66.5 201.7L67.9 201.7L69.3 201.5L70.7 201.3L72.1 200.9L73.5 200.5L74.8 200.0L76.2 199.4L77.5 198.7L78.9 197.9L80.2 197.0L81.4 196.0L82.7 194.9L83.9 193.8L85.2 192.5L86.3 191.2L87.5 189.8L88.6 188.3L89.7 186.8L90.7 185.2L91.7 183.5L92.7 181.7L93.6 179.9L94.5 178.0L95.4 176.1L96.2 174.1L96.9 172.0L97.6 169.9L98.3 167.7L98.9 165.5L99.5 163.3L100.0 161.0L100.5 158.7L100.9 156.4L101.2 154.0L101.5 151.6L101.8 149.2L102.0 146.8L102.1 144.4L102.2 141.9L102.2 139.5Z"/>
<path d="M109.3 139.5L109.3 136.7L109.2 133.9L109.0 131.0L108.8 128.2L108.5 125.5L108.1 122.7L107.7 120.0L107.3 117.3L106.7 114.6L106.1 111.9L105.5 109.4L104.7 106.8L104.0 104.3L103.1 101.9L102.3 99.5L101.3 97.2L100.3 94.9L99.3 92.7L98.2 90.6L97.1 88.6L95.9 86.6L94.6 84.8L93.4 83.0L92.1 81.3L90.7 79.6L89.3 78.1L87.9 76.7L86.5 75.3L85.0 74.1L83.5 73.0L82.0 72.0L80.4 71.0L78.8 70.2L77.3 69.5L75.7 68.9L74.0 68.4L72.4 68.0L70.8 67.7L69.1 67.6L67.5 67.5L64.3 67.6L61.9 67.7L59.8 68.0L57.8 68.4L55.9 68.9L54.1 69.5L52.4 70.2L50.8 71.0L49.2 72.0L47.7 73.0L46.2 74.1L44.7 75.3L43.4 76.7L42.0 78.1L40.8 79.6L39.5 81.3L38.3 83.0L37.2 84.8L36.1 86.6L35.1 88.6L34.1 90.6L33.1 92.7L32.2 94.9L31.4 97.2L30.6 99.5L29.8 101.9L29.1 104.3L28.5 106.8L27.9 109.4L27.3 111.9L26.8 114.6L26.4 117.3L26.0 120.0L25.6 122.7L25.4 125.5L25.1 128.2L24.9 131.0L24.8 133.9L24.7 136.7L24.7 139.5L24.7 142.3L24.8 145.1L24.9 148.0L25.1 150.8L25.4 153.5L25.6 156.3L26.0 159.0L26.4 161.7L26.8 164.4L27.3 167.1L27.9 169.6L28.5 172.2L29.1 174.7L29.8 177.1L30.6 179.5L31.4 181.8L32.2 184.1L33.1 186.3L34.1 188.4L35.1 190.4L36.1 192.4L37.2 194.2L38.3 196.0L39.5 197.7L40.8 199.4L42.0 200.9L43.4 202.3L44.7 203.7L46.2 204.9L47.7 206.0L49.2 207.0L50.8 208.0L52.4 208.8L54.1 209.5L55.9 210.1L57.8 210.6L59.8 211.0L61.9 211.3L64.3 211.4L67.5 211.5L69.1 211.4L70.8 211.3L72.4 211.0L74.0 210.6L75.7 210.1L77.3 209.5L78.8 208.8L80.4 208.0L82.0 207.0L83.5 206.0L85.0 204.9L86.5 203.7L87.9 202.3L89.3 200.9L90.7 199.4L92.1 197.7L93.4 196.0L94.6 194.2L95.9 192.4L97.1 190.4L98.2 188.4L99.3 186.3L100.3 184.1L101.3 181.8L102.3 179.5L103.1 177.1L104.0 174.7L104.7 172.2L105.5 169.6L106.1 167.1L106.7 164.4L107.3 161.7L107.7 159.0L108.1 156.3L108.5 153.5L108.8 150.8L109.0 148.0L109.2 145.1L109.3 142.3L109.3 139.5Z"/>
<path d="M115.3 139.5L115.3 136.3L115.2 133.1L115.0 129.9L114.7 126.8L114.4 123.6L114.0 120.5L113.5 117.4L113.0 114.3L112.4 111.3L111.7 108.3L111.0 105.4L110.1 102.5L109.3 99.7L108.3 97.0L107.3 94.3L106.3 91.7L105.1 89.1L104.0 86.6L102.7 84.2L101.4 81.9L100.1 79.7L98.7 77.6L97.3 75.6L95.8 73.6L94.3 71.8L92.7 70.1L91.1 68.5L89.5 67.0L87.8 65.6L86.1 64.3L84.4 63.1L82.6 62.1L80.8 61.2L79.0 60.3L77.2 59.7L75.4 59.1L73.6 58.7L71.7 58.4L69.9 58.2L68.0 58.1L64.5 58.2L61.9 58.4L59.6 58.7L57.5 59.1L55.4 59.7L53.5 60.3L51.7 61.2L49.9 62.1L48.1 63.1L46.5 64.3L44.9 65.6L43.3 67.0L41.8 68.5L40.4 70.1L39.0 71.8L37.7 73.6L36.4 75.6L35.1 77.6L34.0 79.7L32.8 81.9L31.8 84.2L30.7 86.6L29.8 89.1L28.8 91.7L28.0 94.3L27.2 97.0L26.4 99.7L25.7 102.5L25.0 105.4L24.4 108.3L23.9 111.3L23.4 114.3L23.0 117.4L22.6 120.5L22.3 123.6L22.1 126.8L21.9 129.9L21.7 133.1L21.6 136.3L21.6 139.5L21.6 142.7L21.7 145.9L21.9 149.1L22.1 152.2L22.3 155.4L22.6 158.5L23.0 161.6L23.4 164.7L23.9 167.7L24.4 170.7L25.0 173.6L25.7 176.5L26.4 179.3L27.2 182.0L28.0 184.7L28.8 187.3L29.8 189.9L30.7 192.4L31.8 194.8L32.8 197.1L34.0 199.3L35.1 201.4L36.4 203.4L37.7 205.4L39.0 207.2L40.4 208.9L41.8 210.5L43.3 212.0L44.9 213.4L46.5 214.7L48.1 215.9L49.9 216.9L51.7 217.8L53.5 218.7L55.4 219.3L57.5 219.9L59.6 220.3L61.9 220.6L64.5 220.8L68.0 220.9L69.9 220.8L71.7 220.6L73.6 220.3L75.4 219.9L77.2 219.3L79.0 218.7L80.8 217.8L82.6 216.9L84.4 215.9L86.1 214.7L87.8 213.4L89.5 212.0L91.1 210.5L92.7 208.9L94.3 207.2L95.8 205.4L97.3 203.4L98.7 201.4L100.1 199.3L101.4 197.1L102.7 194.8L104.0 192.4L105.1 189.9L106.3 187.3L107.3 184.7L108.3 182.0L109.3 179.3L110.1 176.5L111.0 173.6L111.7 170.7L112.4 167.7L113.0 164.7L113.5 161.6L114.0 158.5L114.4 155.4L114.7 152.2L115.0 149.1L115.2 145.9L115.3 142.7L115.3 139.5Z"/>
<path d="M120.2 139.5L120.2 135.9L120.0 132.3L119.8 128.8L119.6 125.2L119.2 121.7L118.8 118.2L118.3 114.7L117.7 111.3L117.0 107.9L116.3 104.6L115.5 101.3L114.6 98.1L113.6 94.9L112.6 91.8L111.5 88.8L110.3 85.9L109.1 83.0L107.8 80.3L106.5 77.6L105.1 75.0L103.6 72.5L102.1 70.2L100.5 67.9L98.9 65.7L97.2 63.7L95.5 61.7L93.8 59.9L92.0 58.2L90.1 56.7L88.3 55.2L86.4 53.9L84.5 52.8L82.5 51.7L80.6 50.8L78.6 50.1L76.6 49.4L74.6 48.9L72.6 48.6L70.5 48.4L68.5 48.3L64.5 48.4L61.6 48.6L59.1 48.9L56.7 49.4L54.5 50.1L52.4 50.8L50.4 51.7L48.5 52.8L46.6 53.9L44.8 55.2L43.1 56.7L41.4 58.2L39.8 59.9L38.3 61.7L36.8 63.7L35.4 65.7L34.0 67.9L32.7 70.2L31.5 72.5L30.3 75.0L29.1 77.6L28.0 80.3L27.0 83.0L26.0 85.9L25.1 88.8L24.3 91.8L23.5 94.9L22.7 98.1L22.0 101.3L21.4 104.6L20.8 107.9L20.3 111.3L19.9 114.7L19.5 118.2L19.2 121.7L18.9 125.2L18.7 128.8L18.5 132.3L18.4 135.9L18.4 139.5L18.4 143.1L18.5 146.7L18.7 150.2L18.9 153.8L19.2 157.3L19.5 160.8L19.9 164.3L20.3 167.7L20.8 171.1L21.4 174.4L22.0 177.7L22.7 180.9L23.5 184.1L24.3 187.2L25.1 190.2L26.0 193.1L27.0 196.0L28.0 198.7L29.1 201.4L30.3 204.0L31.5 206.5L32.7 208.8L34.0 211.1L35.4 213.3L36.8 215.3L38.3 217.3L39.8 219.1L41.4 220.8L43.1 222.3L44.8 223.8L46.6 225.1L48.5 226.2L50.4 227.3L52.4 228.2L54.5 228.9L56.7 229.6L59.1 230.1L61.6 230.4L64.5 230.6L68.5 230.7L70.5 230.6L72.6 230.4L74.6 230.1L76.6 229.6L78.6 228.9L80.6 228.2L82.5 227.3L84.5 226.2L86.4 225.1L88.3 223.8L90.1 222.3L92.0 220.8L93.8 219.1L95.5 217.3L97.2 215.3L98.9 213.3L100.5 211.1L102.1 208.8L103.6 206.5L105.1 204.0L106.5 201.4L107.8 198.7L109.1 196.0L110.3 193.1L111.5 190.2L112.6 187.2L113.6 184.1L114.6 180.9L115.5 177.7L116.3 174.4L117.0 171.1L117.7 167.7L118.3 164.3L118.8 160.8L119.2 157.3L119.6 153.8L119.8 150.2L120.0 146.7L120.2 143.1L120.2 139.5Z"/>
<path d="M124.4 139.5L124.4 135.5L124.2 131.6L124.0 127.6L123.7 123.7L123.3 119.8L122.9 115.9L122.3 112.1L121.7 108.3L121.0 104.5L120.2 100.8L119.3 97.2L118.4 93.6L117.3 90.1L116.2 86.7L115.1 83.4L113.8 80.1L112.5 77.0L111.1 73.9L109.7 70.9L108.2 68.1L106.6 65.3L105.0 62.7L103.3 60.2L101.6 57.8L99.8 55.5L97.9 53.4L96.1 51.4L94.2 49.5L92.2 47.8L90.2 46.2L88.2 44.7L86.1 43.4L84.0 42.3L81.9 41.3L79.8 40.4L77.7 39.7L75.5 39.2L73.3 38.8L71.2 38.6L69.0 38.5L64.5 38.6L61.3 38.8L58.6 39.2L56.1 39.7L53.7 40.4L51.5 41.3L49.3 42.3L47.3 43.4L45.3 44.7L43.5 46.2L41.7 47.8L39.9 49.5L38.2 51.4L36.6 53.4L35.1 55.5L33.6 57.8L32.2 60.2L30.8 62.7L29.5 65.3L28.3 68.1L27.1 70.9L26.0 73.9L24.9 77.0L23.9 80.1L22.9 83.4L22.0 86.7L21.2 90.1L20.5 93.6L19.7 97.2L19.1 100.8L18.5 104.5L18.0 108.3L17.5 112.1L17.1 115.9L16.8 119.8L16.5 123.7L16.3 127.6L16.1 131.6L16.0 135.5L16.0 139.5L16.0 143.5L16.1 147.4L16.3 151.4L16.5 155.3L16.8 159.2L17.1 163.1L17.5 166.9L18.0 170.7L18.5 174.5L19.1 178.2L19.7 181.8L20.5 185.4L21.2 188.9L22.0 192.3L22.9 195.6L23.9 198.9L24.9 202.0L26.0 205.1L27.1 208.1L28.3 210.9L29.5 213.7L30.8 216.3L32.2 218.8L33.6 221.2L35.1 223.5L36.6 225.6L38.2 227.6L39.9 229.5L41.7 231.2L43.5 232.8L45.3 234.3L47.3 235.6L49.3 236.7L51.5 237.7L53.7 238.6L56.1 239.3L58.6 239.8L61.3 240.2L64.5 240.4L69.0 240.5L71.2 240.4L73.3 240.2L75.5 239.8L77.7 239.3L79.8 238.6L81.9 237.7L84.0 236.7L86.1 235.6L88.2 234.3L90.2 232.8L92.2 231.2L94.2 229.5L96.1 227.6L97.9 225.6L99.8 223.5L101.6 221.2L103.3 218.8L105.0 216.3L106.6 213.7L108.2 210.9L109.7 208.1L111.1 205.1L112.5 202.0L113.8 198.9L115.1 195.6L116.2 192.3L117.3 188.9L118.4 185.4L119.3 181.8L120.2 178.2L121.0 174.5L121.7 170.7L122.3 166.9L122.9 163.1L123.3 159.2L123.7 155.3L124.0 151.4L124.2 147.4L124.4 143.5L124.4 139.5Z"/>
<path d="M129.1 139.5L129.1 135.2L128.9 130.8L128.7 126.5L128.4 122.2L127.9 117.9L127.4 113.7L126.8 109.5L126.2 105.3L125.4 101.2L124.5 97.1L123.6 93.2L122.5 89.2L121.4 85.4L120.2 81.7L119.0 78.0L117.6 74.4L116.2 71.0L114.7 67.6L113.1 64.4L111.5 61.2L109.8 58.2L108.0 55.3L106.2 52.6L104.3 49.9L102.4 47.5L100.4 45.1L98.4 42.9L96.3 40.9L94.2 39.0L92.0 37.2L89.8 35.6L87.6 34.2L85.3 33.0L83.0 31.9L80.7 30.9L78.4 30.2L76.1 29.6L73.7 29.1L71.4 28.9L69.0 28.8L64.3 28.9L61.0 29.1L58.2 29.6L55.5 30.2L53.1 30.9L50.7 31.9L48.5 33.0L46.4 34.2L44.4 35.6L42.4 37.2L40.5 39.0L38.7 40.9L37.0 42.9L35.3 45.1L33.7 47.5L32.1 49.9L30.7 52.6L29.2 55.3L27.9 58.2L26.6 61.2L25.3 64.4L24.2 67.6L23.1 71.0L22.0 74.4L21.0 78.0L20.1 81.7L19.2 85.4L18.4 89.2L17.7 93.2L17.0 97.1L16.4 101.2L15.9 105.3L15.4 109.5L15.0 113.7L14.6 117.9L14.3 122.2L14.1 126.5L13.9 130.8L13.8 135.2L13.8 139.5L13.8 143.8L13.9 148.2L14.1 152.5L14.3 156.8L14.6 161.1L15.0 165.3L15.4 169.5L15.9 173.7L16.4 177.8L17.0 181.9L17.7 185.8L18.4 189.8L19.2 193.6L20.1 197.3L21.0 201.0L22.0 204.6L23.1 208.0L24.2 211.4L25.3 214.6L26.6 217.8L27.9 220.8L29.2 223.7L30.7 226.4L32.1 229.1L33.7 231.5L35.3 233.9L37.0 236.1L38.7 238.1L40.5 240.0L42.4 241.8L44.4 243.4L46.4 244.8L48.5 246.0L50.7 247.1L53.1 248.1L55.5 248.8L58.2 249.4L61.0 249.9L64.3 250.1L69.0 250.2L71.4 250.1L73.7 249.9L76.1 249.4L78.4 248.8L80.7 248.1L83.0 247.1L85.3 246.0L87.6 244.8L89.8 243.4L92.0 241.8L94.2 240.0L96.3 238.1L98.4 236.1L100.4 233.9L102.4 231.5L104.3 229.1L106.2 226.4L108.0 223.7L109.8 220.8L111.5 217.8L113.1 214.6L114.7 211.4L116.2 208.0L117.6 204.6L119.0 201.0L120.2 197.3L121.4 193.6L122.5 189.8L123.6 185.8L124.5 181.9L125.4 177.8L126.2 173.7L126.8 169.5L127.4 165.3L127.9 161.1L128.4 156.8L128.7 152.5L128.9 148.2L129.1 143.8L129.1 139.5Z"/>
</g>
</g></defs>
<rect width="704" height="382" fill="#fff"/>
<g transform="translate(47.4,52.6)">
<clipPath id="cpa"><rect x="0" y="0" width="139.5" height="279.4"/></clipPath>
<g clip-path="url(#cpa)">
<use href="#bg"/>
<g fill="none" stroke="#0000ff" stroke-width="1.1"><circle cx="91.1" cy="84.6" r="1.55"/><circle cx="67.4" cy="211.8" r="1.55"/><circle cx="24.1" cy="140.2" r="1.55"/><circle cx="40.5" cy="199.7" r="1.55"/><circle cx="96.5" cy="99.8" r="1.55"/><circle cx="84.4" cy="202.4" r="1.55"/><circle cx="67.0" cy="211.4" r="1.55"/><circle cx="26.0" cy="116.4" r="1.55"/><circle cx="69.5" cy="65.4" r="1.55"/><circle cx="95.9" cy="182.8" r="1.55"/><circle cx="103.6" cy="130.1" r="1.55"/><circle cx="100.9" cy="168.5" r="1.55"/><circle cx="72.3" cy="67.2" r="1.55"/><circle cx="102.9" cy="128.5" r="1.55"/><circle cx="27.0" cy="113.1" r="1.55"/><circle cx="68.2" cy="66.3" r="1.55"/><circle cx="71.8" cy="66.9" r="1.55"/><circle cx="54.4" cy="68.5" r="1.55"/><circle cx="85.0" cy="202.1" r="1.55"/><circle cx="39.4" cy="196.7" r="1.55"/><circle cx="104.5" cy="145.7" r="1.55"/><circle cx="92.8" cy="89.5" r="1.55"/><circle cx="56.8" cy="211.6" r="1.55"/><circle cx="100.7" cy="169.6" r="1.55"/><circle cx="83.5" cy="203.9" r="1.55"/><circle cx="50.8" cy="69.6" r="1.55"/><circle cx="94.1" cy="189.8" r="1.55"/><circle cx="23.9" cy="144.7" r="1.55"/><circle cx="102.7" cy="125.9" r="1.55"/><circle cx="75.7" cy="209.2" r="1.55"/><circle cx="82.7" cy="74.2" r="1.55"/><circle cx="52.2" cy="209.6" r="1.55"/><circle cx="35.9" cy="87.9" r="1.55"/><circle cx="23.6" cy="146.1" r="1.55"/><circle cx="24.5" cy="151.6" r="1.55"/><circle cx="24.8" cy="137.4" r="1.55"/><circle cx="102.8" cy="121.6" r="1.55"/><circle cx="103.9" cy="149.8" r="1.55"/><circle cx="33.1" cy="94.9" r="1.55"/><circle cx="23.2" cy="143.4" r="1.55"/><circle cx="69.2" cy="211.9" r="1.55"/><circle cx="89.2" cy="196.0" r="1.55"/><circle cx="23.4" cy="148.5" r="1.55"/><circle cx="28.7" cy="175.3" r="1.55"/><circle cx="59.1" cy="65.9" r="1.55"/><circle cx="101.8" cy="160.9" r="1.55"/><circle cx="72.6" cy="211.3" r="1.55"/><circle cx="94.5" cy="188.5" r="1.55"/><circle cx="78.5" cy="207.6" r="1.55"/><circle cx="27.1" cy="168.7" r="1.55"/><circle cx="102.1" cy="115.7" r="1.55"/><circle cx="28.3" cy="172.1" r="1.55"/><circle cx="24.0" cy="144.5" r="1.55"/><circle cx="39.3" cy="82.2" r="1.55"/><circle cx="25.0" cy="159.2" r="1.55"/><circle cx="33.6" cy="187.8" r="1.55"/><circle cx="103.0" cy="129.0" r="1.55"/><circle cx="81.8" cy="73.2" r="1.55"/><circle cx="90.1" cy="196.3" r="1.55"/><circle cx="75.9" cy="209.8" r="1.55"/><circle cx="62.6" cy="64.9" r="1.55"/><circle cx="45.9" cy="203.9" r="1.55"/><circle cx="103.0" cy="134.4" r="1.55"/><circle cx="65.4" cy="212.0" r="1.55"/><circle cx="95.1" cy="93.4" r="1.55"/><circle cx="42.2" cy="79.0" r="1.55"/><circle cx="85.5" cy="77.5" r="1.55"/><circle cx="83.4" cy="75.6" r="1.55"/><circle cx="54.5" cy="210.3" r="1.55"/><circle cx="46.5" cy="73.2" r="1.55"/><circle cx="103.4" cy="131.0" r="1.55"/><circle cx="29.3" cy="105.8" r="1.55"/><circle cx="95.6" cy="93.5" r="1.55"/><circle cx="24.5" cy="146.8" r="1.55"/><circle cx="32.0" cy="185.7" r="1.55"/><circle cx="102.9" cy="132.4" r="1.55"/><circle cx="88.5" cy="80.9" r="1.55"/><circle cx="85.6" cy="77.1" r="1.55"/><circle cx="46.5" cy="205.4" r="1.55"/><circle cx="71.6" cy="66.0" r="1.55"/><circle cx="75.8" cy="209.3" r="1.55"/><circle cx="70.8" cy="66.3" r="1.55"/><circle cx="32.3" cy="95.1" r="1.55"/><circle cx="46.5" cy="72.8" r="1.55"/><circle cx="101.0" cy="114.7" r="1.55"/><circle cx="103.8" cy="156.5" r="1.55"/><circle cx="49.8" cy="69.7" r="1.55"/><circle cx="48.8" cy="70.3" r="1.55"/><circle cx="62.5" cy="212.2" r="1.55"/><circle cx="63.4" cy="66.2" r="1.55"/><circle cx="92.3" cy="190.4" r="1.55"/><circle cx="81.4" cy="206.4" r="1.55"/><circle cx="28.3" cy="172.2" r="1.55"/><circle cx="91.6" cy="194.5" r="1.55"/><circle cx="52.6" cy="209.5" r="1.55"/><circle cx="35.4" cy="89.1" r="1.55"/><circle cx="75.1" cy="68.1" r="1.55"/><circle cx="28.0" cy="111.0" r="1.55"/><circle cx="95.9" cy="95.3" r="1.55"/><circle cx="52.6" cy="68.6" r="1.55"/><circle cx="45.3" cy="73.4" r="1.55"/><circle cx="95.6" cy="183.4" r="1.55"/><circle cx="76.0" cy="69.3" r="1.55"/><circle cx="104.3" cy="148.1" r="1.55"/><circle cx="43.1" cy="77.4" r="1.55"/><circle cx="45.4" cy="205.1" r="1.55"/><circle cx="100.2" cy="171.3" r="1.55"/><circle cx="93.8" cy="189.7" r="1.55"/><circle cx="23.4" cy="134.9" r="1.55"/><circle cx="67.9" cy="65.4" r="1.55"/><circle cx="98.0" cy="103.5" r="1.55"/><circle cx="97.5" cy="179.4" r="1.55"/><circle cx="66.3" cy="212.4" r="1.55"/><circle cx="85.5" cy="201.1" r="1.55"/><circle cx="42.8" cy="77.7" r="1.55"/><circle cx="91.0" cy="194.3" r="1.55"/><circle cx="103.0" cy="162.3" r="1.55"/><circle cx="90.5" cy="84.5" r="1.55"/><circle cx="95.0" cy="95.8" r="1.55"/><circle cx="100.4" cy="108.1" r="1.55"/><circle cx="73.7" cy="210.9" r="1.55"/><circle cx="42.2" cy="77.5" r="1.55"/><circle cx="71.9" cy="210.8" r="1.55"/><circle cx="28.3" cy="172.4" r="1.55"/><circle cx="98.5" cy="104.7" r="1.55"/><circle cx="95.0" cy="186.8" r="1.55"/><circle cx="99.6" cy="174.1" r="1.55"/><circle cx="57.1" cy="66.1" r="1.55"/><circle cx="82.2" cy="203.6" r="1.55"/><circle cx="45.3" cy="203.4" r="1.55"/><circle cx="94.5" cy="91.2" r="1.55"/><circle cx="102.3" cy="123.3" r="1.55"/><circle cx="103.8" cy="147.6" r="1.55"/><circle cx="93.4" cy="91.5" r="1.55"/><circle cx="66.2" cy="65.1" r="1.55"/><circle cx="96.5" cy="95.8" r="1.55"/><circle cx="34.5" cy="88.7" r="1.55"/><circle cx="97.4" cy="180.1" r="1.55"/><circle cx="63.1" cy="65.5" r="1.55"/><circle cx="96.6" cy="97.0" r="1.55"/><circle cx="102.0" cy="123.5" r="1.55"/><circle cx="103.4" cy="150.0" r="1.55"/><circle cx="31.2" cy="182.3" r="1.55"/><circle cx="49.0" cy="72.0" r="1.55"/><circle cx="98.9" cy="178.9" r="1.55"/><circle cx="102.7" cy="155.5" r="1.55"/><circle cx="72.8" cy="67.1" r="1.55"/><circle cx="103.8" cy="151.2" r="1.55"/><circle cx="48.7" cy="207.4" r="1.55"/><circle cx="61.7" cy="65.5" r="1.55"/><circle cx="50.1" cy="70.7" r="1.55"/><circle cx="98.5" cy="104.8" r="1.55"/><circle cx="103.7" cy="149.7" r="1.55"/><circle cx="40.7" cy="199.7" r="1.55"/><circle cx="101.1" cy="167.8" r="1.55"/><circle cx="50.2" cy="70.5" r="1.55"/><circle cx="47.4" cy="71.6" r="1.55"/><circle cx="95.1" cy="185.7" r="1.55"/><circle cx="43.7" cy="75.9" r="1.55"/><circle cx="28.7" cy="175.8" r="1.55"/><circle cx="65.2" cy="66.2" r="1.55"/><circle cx="65.5" cy="66.1" r="1.55"/><circle cx="26.7" cy="164.4" r="1.55"/><circle cx="99.8" cy="107.3" r="1.55"/><circle cx="53.6" cy="67.5" r="1.55"/><circle cx="23.5" cy="139.1" r="1.55"/><circle cx="86.7" cy="78.9" r="1.55"/><circle cx="74.8" cy="209.0" r="1.55"/><circle cx="101.5" cy="164.3" r="1.55"/><circle cx="70.8" cy="212.2" r="1.55"/><circle cx="81.2" cy="205.2" r="1.55"/><circle cx="95.3" cy="94.5" r="1.55"/><circle cx="98.7" cy="176.3" r="1.55"/><circle cx="94.9" cy="185.5" r="1.55"/><circle cx="97.1" cy="179.5" r="1.55"/><circle cx="47.5" cy="71.4" r="1.55"/><circle cx="77.6" cy="209.0" r="1.55"/><circle cx="85.9" cy="201.6" r="1.55"/><circle cx="49.5" cy="207.0" r="1.55"/><circle cx="28.1" cy="110.9" r="1.55"/><circle cx="55.1" cy="210.9" r="1.55"/><circle cx="63.4" cy="66.1" r="1.55"/><circle cx="103.4" cy="158.4" r="1.55"/><circle cx="25.8" cy="163.7" r="1.55"/><circle cx="87.7" cy="198.6" r="1.55"/><circle cx="32.5" cy="95.6" r="1.55"/><circle cx="62.1" cy="66.3" r="1.55"/><circle cx="39.9" cy="198.0" r="1.55"/><circle cx="28.5" cy="172.3" r="1.55"/><circle cx="40.0" cy="81.9" r="1.55"/><circle cx="91.9" cy="88.1" r="1.55"/><circle cx="82.9" cy="203.8" r="1.55"/><circle cx="31.3" cy="97.5" r="1.55"/><circle cx="68.0" cy="66.6" r="1.55"/><circle cx="24.6" cy="155.0" r="1.55"/><circle cx="40.3" cy="198.7" r="1.55"/><circle cx="48.2" cy="207.2" r="1.55"/><circle cx="66.9" cy="65.6" r="1.55"/><circle cx="24.8" cy="132.2" r="1.55"/><circle cx="29.8" cy="102.0" r="1.55"/><circle cx="98.0" cy="181.3" r="1.55"/><circle cx="57.6" cy="66.1" r="1.55"/><circle cx="101.5" cy="119.5" r="1.55"/><circle cx="23.5" cy="147.6" r="1.55"/><circle cx="85.9" cy="77.3" r="1.55"/><circle cx="93.4" cy="189.2" r="1.55"/><circle cx="49.6" cy="208.4" r="1.55"/><circle cx="36.0" cy="86.7" r="1.55"/><circle cx="60.6" cy="212.3" r="1.55"/><circle cx="89.3" cy="197.7" r="1.55"/><circle cx="102.9" cy="159.8" r="1.55"/><circle cx="81.6" cy="73.8" r="1.55"/><circle cx="72.1" cy="66.9" r="1.55"/><circle cx="65.9" cy="211.6" r="1.55"/><circle cx="47.1" cy="206.3" r="1.55"/><circle cx="40.9" cy="79.5" r="1.55"/><circle cx="84.7" cy="75.9" r="1.55"/><circle cx="103.5" cy="122.8" r="1.55"/><circle cx="78.4" cy="208.0" r="1.55"/><circle cx="59.5" cy="65.2" r="1.55"/><circle cx="102.1" cy="160.0" r="1.55"/><circle cx="70.6" cy="212.0" r="1.55"/><circle cx="42.3" cy="201.7" r="1.55"/><circle cx="25.7" cy="116.2" r="1.55"/><circle cx="103.2" cy="155.0" r="1.55"/><circle cx="77.0" cy="208.5" r="1.55"/><circle cx="84.2" cy="76.4" r="1.55"/><circle cx="92.6" cy="87.2" r="1.55"/><circle cx="102.1" cy="160.0" r="1.55"/><circle cx="31.9" cy="183.7" r="1.55"/><circle cx="93.2" cy="90.5" r="1.55"/><circle cx="64.5" cy="65.0" r="1.55"/><circle cx="103.5" cy="140.5" r="1.55"/><circle cx="27.7" cy="113.7" r="1.55"/><circle cx="36.0" cy="192.8" r="1.55"/><circle cx="84.1" cy="202.3" r="1.55"/><circle cx="55.3" cy="67.2" r="1.55"/><circle cx="58.1" cy="66.1" r="1.55"/><circle cx="63.8" cy="65.1" r="1.55"/><circle cx="74.4" cy="210.5" r="1.55"/><circle cx="103.5" cy="154.0" r="1.55"/><circle cx="23.5" cy="137.9" r="1.55"/><circle cx="68.8" cy="212.0" r="1.55"/><circle cx="34.6" cy="91.0" r="1.55"/><circle cx="95.6" cy="93.8" r="1.55"/><circle cx="93.8" cy="90.2" r="1.55"/><circle cx="24.9" cy="162.2" r="1.55"/><circle cx="66.9" cy="213.0" r="1.55"/><circle cx="90.2" cy="84.1" r="1.55"/><circle cx="28.4" cy="173.1" r="1.55"/><circle cx="24.2" cy="143.7" r="1.55"/><circle cx="25.4" cy="154.7" r="1.55"/><circle cx="26.7" cy="115.1" r="1.55"/><circle cx="50.6" cy="70.1" r="1.55"/><circle cx="72.4" cy="211.2" r="1.55"/><circle cx="23.8" cy="138.7" r="1.55"/><circle cx="35.7" cy="89.0" r="1.55"/><circle cx="103.6" cy="140.5" r="1.55"/><circle cx="30.8" cy="183.1" r="1.55"/><circle cx="83.2" cy="203.9" r="1.55"/><circle cx="103.8" cy="148.1" r="1.55"/><circle cx="84.2" cy="202.6" r="1.55"/><circle cx="62.6" cy="213.1" r="1.55"/><circle cx="50.7" cy="70.4" r="1.55"/><circle cx="34.8" cy="190.4" r="1.55"/><circle cx="39.3" cy="83.3" r="1.55"/><circle cx="33.4" cy="93.1" r="1.55"/><circle cx="30.3" cy="99.0" r="1.55"/><circle cx="29.1" cy="177.9" r="1.55"/><circle cx="96.4" cy="184.4" r="1.55"/><circle cx="23.6" cy="138.9" r="1.55"/><circle cx="38.4" cy="196.6" r="1.55"/><circle cx="36.7" cy="193.3" r="1.55"/><circle cx="36.3" cy="193.3" r="1.55"/><circle cx="101.4" cy="169.4" r="1.55"/><circle cx="87.1" cy="200.3" r="1.55"/><circle cx="80.1" cy="206.7" r="1.55"/><circle cx="40.9" cy="80.2" r="1.55"/><circle cx="53.3" cy="210.5" r="1.55"/><circle cx="26.1" cy="161.5" r="1.55"/><circle cx="83.9" cy="203.1" r="1.55"/><circle cx="25.6" cy="126.7" r="1.55"/><circle cx="23.7" cy="146.9" r="1.55"/><circle cx="28.9" cy="106.5" r="1.55"/><circle cx="42.5" cy="200.2" r="1.55"/><circle cx="23.3" cy="145.6" r="1.55"/><circle cx="49.5" cy="207.4" r="1.55"/><circle cx="48.9" cy="207.4" r="1.55"/><circle cx="74.0" cy="68.4" r="1.55"/><circle cx="93.8" cy="188.2" r="1.55"/><circle cx="100.2" cy="107.4" r="1.55"/><circle cx="24.6" cy="152.5" r="1.55"/><circle cx="23.7" cy="147.5" r="1.55"/><circle cx="83.8" cy="75.1" r="1.55"/><circle cx="54.7" cy="211.0" r="1.55"/><circle cx="59.0" cy="65.8" r="1.55"/><circle cx="68.5" cy="65.8" r="1.55"/><circle cx="83.1" cy="74.1" r="1.55"/><circle cx="90.5" cy="194.3" r="1.55"/><circle cx="71.2" cy="65.9" r="1.55"/><circle cx="53.0" cy="210.3" r="1.55"/><circle cx="103.9" cy="127.7" r="1.55"/><circle cx="35.5" cy="191.0" r="1.55"/><circle cx="27.2" cy="110.3" r="1.55"/><circle cx="72.6" cy="210.2" r="1.55"/><circle cx="36.3" cy="191.9" r="1.55"/><circle cx="103.3" cy="154.2" r="1.55"/><circle cx="98.5" cy="178.9" r="1.55"/><circle cx="32.9" cy="185.6" r="1.55"/><circle cx="25.1" cy="154.0" r="1.55"/><circle cx="90.2" cy="83.5" r="1.55"/><circle cx="38.0" cy="83.2" r="1.55"/><circle cx="66.4" cy="65.2" r="1.55"/><circle cx="56.2" cy="210.7" r="1.55"/><circle cx="95.2" cy="94.7" r="1.55"/><circle cx="24.7" cy="138.7" r="1.55"/><circle cx="79.0" cy="72.0" r="1.55"/><circle cx="30.7" cy="182.9" r="1.55"/><circle cx="72.1" cy="67.8" r="1.55"/><circle cx="52.3" cy="209.9" r="1.55"/><circle cx="103.2" cy="158.1" r="1.55"/><circle cx="41.6" cy="77.7" r="1.55"/><circle cx="93.8" cy="90.2" r="1.55"/><circle cx="96.9" cy="99.1" r="1.55"/><circle cx="24.2" cy="140.0" r="1.55"/><circle cx="83.3" cy="75.5" r="1.55"/><circle cx="81.0" cy="205.7" r="1.55"/><circle cx="29.4" cy="176.0" r="1.55"/><circle cx="55.4" cy="210.5" r="1.55"/><circle cx="30.1" cy="181.5" r="1.55"/><circle cx="103.2" cy="144.9" r="1.55"/><circle cx="76.0" cy="209.8" r="1.55"/><circle cx="47.2" cy="72.8" r="1.55"/><circle cx="28.3" cy="176.4" r="1.55"/><circle cx="31.1" cy="96.9" r="1.55"/><circle cx="66.1" cy="211.7" r="1.55"/><circle cx="97.5" cy="178.3" r="1.55"/><circle cx="88.7" cy="81.4" r="1.55"/><circle cx="101.3" cy="115.4" r="1.55"/><circle cx="91.3" cy="86.3" r="1.55"/><circle cx="85.9" cy="201.9" r="1.55"/><circle cx="102.3" cy="125.5" r="1.55"/><circle cx="85.0" cy="200.9" r="1.55"/><circle cx="58.3" cy="66.8" r="1.55"/><circle cx="96.9" cy="101.0" r="1.55"/><circle cx="37.7" cy="195.8" r="1.55"/><circle cx="48.2" cy="207.4" r="1.55"/><circle cx="43.3" cy="202.1" r="1.55"/><circle cx="36.2" cy="194.1" r="1.55"/><circle cx="39.2" cy="196.5" r="1.55"/><circle cx="101.9" cy="113.8" r="1.55"/><circle cx="30.5" cy="180.0" r="1.55"/><circle cx="32.4" cy="185.5" r="1.55"/><circle cx="25.1" cy="152.1" r="1.55"/><circle cx="40.0" cy="81.1" r="1.55"/><circle cx="76.8" cy="68.8" r="1.55"/><circle cx="28.2" cy="107.0" r="1.55"/><circle cx="54.8" cy="210.9" r="1.55"/><circle cx="56.7" cy="211.6" r="1.55"/><circle cx="63.6" cy="64.6" r="1.55"/><circle cx="87.8" cy="79.4" r="1.55"/><circle cx="88.9" cy="198.2" r="1.55"/><circle cx="101.2" cy="117.4" r="1.55"/><circle cx="79.4" cy="206.9" r="1.55"/><circle cx="35.9" cy="86.0" r="1.55"/><circle cx="102.8" cy="123.2" r="1.55"/><circle cx="27.1" cy="115.7" r="1.55"/><circle cx="32.1" cy="95.2" r="1.55"/><circle cx="92.9" cy="189.2" r="1.55"/><circle cx="25.1" cy="153.1" r="1.55"/><circle cx="76.1" cy="208.3" r="1.55"/><circle cx="102.9" cy="126.0" r="1.55"/><circle cx="59.7" cy="211.7" r="1.55"/><circle cx="91.8" cy="86.0" r="1.55"/><circle cx="78.3" cy="208.4" r="1.55"/><circle cx="50.8" cy="69.8" r="1.55"/><circle cx="65.2" cy="65.3" r="1.55"/><circle cx="44.9" cy="75.1" r="1.55"/><circle cx="72.6" cy="211.5" r="1.55"/><circle cx="30.1" cy="177.5" r="1.55"/><circle cx="41.1" cy="199.6" r="1.55"/><circle cx="104.2" cy="147.7" r="1.55"/><circle cx="84.5" cy="202.9" r="1.55"/><circle cx="24.4" cy="158.0" r="1.55"/><circle cx="83.4" cy="203.2" r="1.55"/><circle cx="85.9" cy="78.3" r="1.55"/><circle cx="25.0" cy="151.6" r="1.55"/><circle cx="41.3" cy="78.7" r="1.55"/><circle cx="103.0" cy="121.5" r="1.55"/><circle cx="40.9" cy="199.1" r="1.55"/><circle cx="52.2" cy="69.1" r="1.55"/><circle cx="45.5" cy="73.6" r="1.55"/><circle cx="24.0" cy="142.9" r="1.55"/><circle cx="88.3" cy="80.1" r="1.55"/><circle cx="45.9" cy="74.1" r="1.55"/><circle cx="101.1" cy="109.9" r="1.55"/><circle cx="23.7" cy="132.6" r="1.55"/><circle cx="100.7" cy="173.4" r="1.55"/><circle cx="80.4" cy="207.1" r="1.55"/><circle cx="99.8" cy="175.4" r="1.55"/></g>
<g fill="#dd0000"><circle cx="112.4" cy="158.9" r="1.7"/><circle cx="107.8" cy="116.5" r="1.7"/><circle cx="92.7" cy="198.2" r="1.7"/><circle cx="51.5" cy="198.0" r="1.7"/><circle cx="38.1" cy="181.7" r="1.7"/><circle cx="36.3" cy="172.4" r="1.7"/><circle cx="34.0" cy="111.1" r="1.7"/><circle cx="63.4" cy="207.9" r="1.7"/><circle cx="110.2" cy="161.2" r="1.7"/><circle cx="33.1" cy="116.9" r="1.7"/><circle cx="109.1" cy="125.0" r="1.7"/><circle cx="31.5" cy="125.2" r="1.7"/><circle cx="39.4" cy="91.8" r="1.7"/><circle cx="30.0" cy="151.1" r="1.7"/><circle cx="74.2" cy="72.8" r="1.7"/><circle cx="53.2" cy="79.4" r="1.7"/><circle cx="27.7" cy="144.8" r="1.7"/><circle cx="52.9" cy="198.5" r="1.7"/><circle cx="104.3" cy="182.2" r="1.7"/><circle cx="66.6" cy="208.3" r="1.7"/><circle cx="74.4" cy="207.9" r="1.7"/><circle cx="44.3" cy="83.7" r="1.7"/><circle cx="109.5" cy="156.0" r="1.7"/><circle cx="72.0" cy="207.8" r="1.7"/><circle cx="30.8" cy="123.6" r="1.7"/><circle cx="28.0" cy="136.0" r="1.7"/><circle cx="28.3" cy="140.8" r="1.7"/><circle cx="44.6" cy="84.0" r="1.7"/><circle cx="104.0" cy="179.5" r="1.7"/><circle cx="31.7" cy="168.3" r="1.7"/><circle cx="64.2" cy="205.9" r="1.7"/><circle cx="77.9" cy="72.4" r="1.7"/><circle cx="58.7" cy="202.4" r="1.7"/><circle cx="104.5" cy="176.4" r="1.7"/><circle cx="105.1" cy="175.3" r="1.7"/><circle cx="111.5" cy="158.1" r="1.7"/><circle cx="29.6" cy="142.2" r="1.7"/><circle cx="46.7" cy="194.8" r="1.7"/><circle cx="56.0" cy="76.8" r="1.7"/><circle cx="28.0" cy="145.4" r="1.7"/><circle cx="43.0" cy="186.0" r="1.7"/><circle cx="89.1" cy="201.3" r="1.7"/><circle cx="104.2" cy="176.4" r="1.7"/><circle cx="69.6" cy="205.0" r="1.7"/><circle cx="48.0" cy="194.3" r="1.7"/><circle cx="77.3" cy="69.8" r="1.7"/><circle cx="103.3" cy="97.1" r="1.7"/><circle cx="95.1" cy="192.5" r="1.7"/><circle cx="81.7" cy="71.3" r="1.7"/><circle cx="33.6" cy="107.6" r="1.7"/><circle cx="110.7" cy="126.6" r="1.7"/><circle cx="90.8" cy="78.3" r="1.7"/><circle cx="108.4" cy="105.1" r="1.7"/><circle cx="112.5" cy="129.2" r="1.7"/><circle cx="110.7" cy="131.2" r="1.7"/><circle cx="86.1" cy="200.5" r="1.7"/><circle cx="88.0" cy="75.9" r="1.7"/><circle cx="41.6" cy="95.3" r="1.7"/><circle cx="110.6" cy="144.5" r="1.7"/><circle cx="110.4" cy="124.7" r="1.7"/><circle cx="39.1" cy="184.9" r="1.7"/><circle cx="101.5" cy="95.2" r="1.7"/><circle cx="111.1" cy="127.0" r="1.7"/><circle cx="75.2" cy="207.6" r="1.7"/><circle cx="105.5" cy="179.2" r="1.7"/><circle cx="98.3" cy="191.5" r="1.7"/><circle cx="31.4" cy="128.6" r="1.7"/><circle cx="49.6" cy="196.2" r="1.7"/><circle cx="103.7" cy="98.7" r="1.7"/><circle cx="98.7" cy="186.7" r="1.7"/><circle cx="35.9" cy="174.1" r="1.7"/><circle cx="31.4" cy="146.5" r="1.7"/><circle cx="109.8" cy="156.9" r="1.7"/><circle cx="38.8" cy="181.4" r="1.7"/><circle cx="112.1" cy="132.5" r="1.7"/><circle cx="95.5" cy="87.5" r="1.7"/><circle cx="109.8" cy="126.0" r="1.7"/><circle cx="105.4" cy="100.6" r="1.7"/><circle cx="27.7" cy="143.9" r="1.7"/><circle cx="110.6" cy="167.7" r="1.7"/><circle cx="75.4" cy="71.3" r="1.7"/><circle cx="70.7" cy="70.2" r="1.7"/><circle cx="40.5" cy="187.8" r="1.7"/><circle cx="60.9" cy="203.8" r="1.7"/><circle cx="34.3" cy="107.9" r="1.7"/><circle cx="110.1" cy="138.3" r="1.7"/><circle cx="37.8" cy="103.1" r="1.7"/><circle cx="64.4" cy="204.9" r="1.7"/><circle cx="103.0" cy="100.0" r="1.7"/><circle cx="75.4" cy="72.2" r="1.7"/><circle cx="30.2" cy="149.0" r="1.7"/><circle cx="55.5" cy="75.0" r="1.7"/><circle cx="81.2" cy="71.0" r="1.7"/><circle cx="112.0" cy="155.8" r="1.7"/><circle cx="33.2" cy="112.2" r="1.7"/><circle cx="36.7" cy="172.2" r="1.7"/><circle cx="34.9" cy="106.0" r="1.7"/><circle cx="87.1" cy="78.4" r="1.7"/><circle cx="84.0" cy="202.8" r="1.7"/><circle cx="28.2" cy="148.5" r="1.7"/><circle cx="40.0" cy="182.5" r="1.7"/><circle cx="111.3" cy="147.2" r="1.7"/><circle cx="112.6" cy="132.0" r="1.7"/><circle cx="103.3" cy="99.3" r="1.7"/><circle cx="93.6" cy="196.9" r="1.7"/><circle cx="111.7" cy="133.5" r="1.7"/><circle cx="36.1" cy="103.3" r="1.7"/><circle cx="81.7" cy="72.6" r="1.7"/><circle cx="106.9" cy="109.4" r="1.7"/><circle cx="40.6" cy="89.5" r="1.7"/><circle cx="108.4" cy="107.8" r="1.7"/><circle cx="85.7" cy="74.9" r="1.7"/><circle cx="39.0" cy="96.6" r="1.7"/><circle cx="71.8" cy="206.4" r="1.7"/><circle cx="99.2" cy="92.9" r="1.7"/><circle cx="108.3" cy="106.1" r="1.7"/><circle cx="43.3" cy="193.1" r="1.7"/><circle cx="57.4" cy="200.9" r="1.7"/><circle cx="47.8" cy="197.2" r="1.7"/><circle cx="64.1" cy="206.0" r="1.7"/><circle cx="45.3" cy="86.1" r="1.7"/><circle cx="82.9" cy="202.9" r="1.7"/><circle cx="30.4" cy="151.3" r="1.7"/><circle cx="111.7" cy="159.3" r="1.7"/><circle cx="109.8" cy="168.3" r="1.7"/><circle cx="59.5" cy="74.6" r="1.7"/><circle cx="30.8" cy="135.5" r="1.7"/><circle cx="33.2" cy="109.5" r="1.7"/><circle cx="107.2" cy="173.1" r="1.7"/><circle cx="86.9" cy="199.6" r="1.7"/><circle cx="43.8" cy="84.3" r="1.7"/><circle cx="95.6" cy="85.1" r="1.7"/><circle cx="106.8" cy="112.4" r="1.7"/><circle cx="105.4" cy="181.9" r="1.7"/><circle cx="47.5" cy="192.7" r="1.7"/><circle cx="59.6" cy="74.5" r="1.7"/><circle cx="50.7" cy="199.4" r="1.7"/><circle cx="32.6" cy="114.2" r="1.7"/><circle cx="102.5" cy="95.1" r="1.7"/><circle cx="111.1" cy="161.2" r="1.7"/><circle cx="104.9" cy="100.7" r="1.7"/><circle cx="62.3" cy="204.4" r="1.7"/><circle cx="103.3" cy="181.1" r="1.7"/><circle cx="59.1" cy="203.7" r="1.7"/><circle cx="113.3" cy="142.5" r="1.7"/><circle cx="35.4" cy="169.6" r="1.7"/><circle cx="34.4" cy="115.6" r="1.7"/><circle cx="35.4" cy="178.5" r="1.7"/><circle cx="88.4" cy="77.1" r="1.7"/><circle cx="30.3" cy="132.7" r="1.7"/><circle cx="60.1" cy="206.6" r="1.7"/><circle cx="59.6" cy="204.2" r="1.7"/><circle cx="110.2" cy="156.0" r="1.7"/><circle cx="69.7" cy="207.5" r="1.7"/><circle cx="74.1" cy="208.2" r="1.7"/><circle cx="77.5" cy="71.0" r="1.7"/><circle cx="36.5" cy="100.1" r="1.7"/><circle cx="112.2" cy="149.9" r="1.7"/><circle cx="111.8" cy="135.3" r="1.7"/><circle cx="60.5" cy="206.5" r="1.7"/><circle cx="45.7" cy="195.1" r="1.7"/><circle cx="113.7" cy="132.8" r="1.7"/><circle cx="65.5" cy="206.8" r="1.7"/><circle cx="106.5" cy="178.3" r="1.7"/><circle cx="105.4" cy="98.7" r="1.7"/><circle cx="75.1" cy="205.3" r="1.7"/><circle cx="69.4" cy="207.2" r="1.7"/><circle cx="86.4" cy="74.2" r="1.7"/><circle cx="98.0" cy="86.9" r="1.7"/><circle cx="34.2" cy="112.7" r="1.7"/><circle cx="33.3" cy="167.2" r="1.7"/><circle cx="83.3" cy="71.6" r="1.7"/><circle cx="105.9" cy="110.1" r="1.7"/><circle cx="28.5" cy="133.9" r="1.7"/><circle cx="47.7" cy="196.9" r="1.7"/><circle cx="29.1" cy="133.8" r="1.7"/><circle cx="50.6" cy="81.0" r="1.7"/><circle cx="31.7" cy="141.6" r="1.7"/><circle cx="108.0" cy="106.5" r="1.7"/><circle cx="90.6" cy="77.7" r="1.7"/><circle cx="79.6" cy="205.0" r="1.7"/><circle cx="51.4" cy="200.6" r="1.7"/><circle cx="96.7" cy="189.7" r="1.7"/><circle cx="92.1" cy="81.2" r="1.7"/><circle cx="31.6" cy="125.1" r="1.7"/><circle cx="112.3" cy="135.8" r="1.7"/><circle cx="110.7" cy="154.1" r="1.7"/><circle cx="31.4" cy="156.1" r="1.7"/><circle cx="30.8" cy="115.5" r="1.7"/><circle cx="55.8" cy="74.7" r="1.7"/><circle cx="29.8" cy="133.3" r="1.7"/><circle cx="104.7" cy="173.7" r="1.7"/><circle cx="88.9" cy="199.1" r="1.7"/><circle cx="45.0" cy="194.1" r="1.7"/><circle cx="47.7" cy="194.7" r="1.7"/><circle cx="91.9" cy="195.2" r="1.7"/><circle cx="43.7" cy="189.6" r="1.7"/><circle cx="29.0" cy="153.2" r="1.7"/><circle cx="83.3" cy="204.4" r="1.7"/><circle cx="56.8" cy="76.1" r="1.7"/><circle cx="32.3" cy="122.2" r="1.7"/><circle cx="63.3" cy="69.8" r="1.7"/><circle cx="103.5" cy="94.6" r="1.7"/><circle cx="41.5" cy="92.6" r="1.7"/><circle cx="54.8" cy="78.3" r="1.7"/><circle cx="32.6" cy="122.2" r="1.7"/><circle cx="33.3" cy="115.7" r="1.7"/><circle cx="105.0" cy="182.1" r="1.7"/><circle cx="31.8" cy="115.4" r="1.7"/><circle cx="107.4" cy="168.6" r="1.7"/><circle cx="103.3" cy="100.0" r="1.7"/><circle cx="86.6" cy="75.0" r="1.7"/><circle cx="42.5" cy="91.0" r="1.7"/><circle cx="81.9" cy="203.2" r="1.7"/><circle cx="86.0" cy="202.9" r="1.7"/><circle cx="36.3" cy="98.9" r="1.7"/><circle cx="47.2" cy="80.9" r="1.7"/><circle cx="107.7" cy="170.2" r="1.7"/><circle cx="54.7" cy="203.8" r="1.7"/><circle cx="68.9" cy="207.9" r="1.7"/><circle cx="100.5" cy="190.1" r="1.7"/><circle cx="71.9" cy="208.9" r="1.7"/><circle cx="60.0" cy="72.5" r="1.7"/><circle cx="51.6" cy="198.4" r="1.7"/><circle cx="39.6" cy="98.2" r="1.7"/><circle cx="110.0" cy="157.8" r="1.7"/><circle cx="28.5" cy="130.0" r="1.7"/><circle cx="88.0" cy="74.5" r="1.7"/><circle cx="98.0" cy="91.4" r="1.7"/><circle cx="47.0" cy="84.5" r="1.7"/><circle cx="108.2" cy="173.8" r="1.7"/><circle cx="73.9" cy="206.5" r="1.7"/><circle cx="32.3" cy="157.8" r="1.7"/><circle cx="91.2" cy="197.6" r="1.7"/><circle cx="61.8" cy="71.7" r="1.7"/><circle cx="94.4" cy="84.3" r="1.7"/><circle cx="106.1" cy="169.6" r="1.7"/><circle cx="95.7" cy="86.7" r="1.7"/><circle cx="70.6" cy="70.9" r="1.7"/><circle cx="70.9" cy="71.3" r="1.7"/><circle cx="71.8" cy="71.7" r="1.7"/><circle cx="39.9" cy="182.7" r="1.7"/><circle cx="41.2" cy="89.8" r="1.7"/><circle cx="107.6" cy="114.4" r="1.7"/><circle cx="95.1" cy="193.8" r="1.7"/><circle cx="77.9" cy="204.3" r="1.7"/><circle cx="28.7" cy="150.1" r="1.7"/><circle cx="48.4" cy="80.2" r="1.7"/><circle cx="39.6" cy="182.7" r="1.7"/><circle cx="111.6" cy="141.5" r="1.7"/><circle cx="29.8" cy="128.9" r="1.7"/><circle cx="53.2" cy="75.5" r="1.7"/><circle cx="36.9" cy="178.8" r="1.7"/><circle cx="28.9" cy="156.7" r="1.7"/><circle cx="113.4" cy="145.1" r="1.7"/><circle cx="31.7" cy="120.8" r="1.7"/><circle cx="32.1" cy="150.5" r="1.7"/><circle cx="104.8" cy="95.6" r="1.7"/><circle cx="101.0" cy="89.1" r="1.7"/><circle cx="52.2" cy="201.9" r="1.7"/><circle cx="106.6" cy="108.0" r="1.7"/><circle cx="82.2" cy="202.1" r="1.7"/><circle cx="102.7" cy="97.6" r="1.7"/><circle cx="89.0" cy="79.7" r="1.7"/><circle cx="52.1" cy="197.3" r="1.7"/><circle cx="112.1" cy="152.3" r="1.7"/><circle cx="111.7" cy="118.6" r="1.7"/><circle cx="73.1" cy="70.8" r="1.7"/><circle cx="34.0" cy="164.0" r="1.7"/><circle cx="31.6" cy="141.3" r="1.7"/><circle cx="84.6" cy="72.5" r="1.7"/><circle cx="89.0" cy="200.3" r="1.7"/><circle cx="52.9" cy="202.2" r="1.7"/><circle cx="97.1" cy="86.6" r="1.7"/><circle cx="97.4" cy="89.9" r="1.7"/><circle cx="101.8" cy="97.0" r="1.7"/><circle cx="108.7" cy="117.8" r="1.7"/><circle cx="40.6" cy="92.1" r="1.7"/><circle cx="98.2" cy="193.0" r="1.7"/><circle cx="62.6" cy="205.6" r="1.7"/><circle cx="105.3" cy="173.1" r="1.7"/><circle cx="104.6" cy="96.9" r="1.7"/><circle cx="43.2" cy="187.4" r="1.7"/><circle cx="42.1" cy="92.2" r="1.7"/><circle cx="33.8" cy="111.1" r="1.7"/><circle cx="36.7" cy="98.2" r="1.7"/><circle cx="86.6" cy="202.2" r="1.7"/><circle cx="31.2" cy="128.6" r="1.7"/><circle cx="75.2" cy="208.6" r="1.7"/><circle cx="76.5" cy="70.4" r="1.7"/><circle cx="57.6" cy="204.1" r="1.7"/><circle cx="111.6" cy="127.0" r="1.7"/><circle cx="82.5" cy="74.9" r="1.7"/><circle cx="34.2" cy="172.6" r="1.7"/><circle cx="41.0" cy="188.1" r="1.7"/><circle cx="58.9" cy="203.9" r="1.7"/><circle cx="111.4" cy="119.5" r="1.7"/><circle cx="90.0" cy="201.1" r="1.7"/><circle cx="39.1" cy="178.1" r="1.7"/><circle cx="83.8" cy="76.0" r="1.7"/><circle cx="43.7" cy="190.6" r="1.7"/><circle cx="88.0" cy="74.5" r="1.7"/><circle cx="113.4" cy="149.7" r="1.7"/><circle cx="31.6" cy="124.8" r="1.7"/><circle cx="82.0" cy="71.7" r="1.7"/><circle cx="58.8" cy="202.9" r="1.7"/><circle cx="104.9" cy="178.8" r="1.7"/><circle cx="36.1" cy="104.1" r="1.7"/><circle cx="63.4" cy="205.6" r="1.7"/><circle cx="49.8" cy="195.3" r="1.7"/><circle cx="59.2" cy="203.1" r="1.7"/><circle cx="104.6" cy="175.4" r="1.7"/><circle cx="50.2" cy="79.8" r="1.7"/><circle cx="38.7" cy="96.7" r="1.7"/><circle cx="106.3" cy="170.6" r="1.7"/><circle cx="76.8" cy="207.0" r="1.7"/><circle cx="80.1" cy="205.0" r="1.7"/><circle cx="32.0" cy="120.8" r="1.7"/><circle cx="31.3" cy="128.8" r="1.7"/><circle cx="85.8" cy="75.4" r="1.7"/><circle cx="85.5" cy="75.3" r="1.7"/><circle cx="34.8" cy="169.7" r="1.7"/><circle cx="91.0" cy="78.8" r="1.7"/><circle cx="96.3" cy="190.9" r="1.7"/><circle cx="39.5" cy="184.9" r="1.7"/><circle cx="102.4" cy="184.8" r="1.7"/><circle cx="56.9" cy="76.2" r="1.7"/><circle cx="91.7" cy="196.6" r="1.7"/><circle cx="113.5" cy="134.8" r="1.7"/><circle cx="83.8" cy="75.0" r="1.7"/><circle cx="54.2" cy="77.9" r="1.7"/><circle cx="64.4" cy="205.4" r="1.7"/><circle cx="32.9" cy="115.0" r="1.7"/><circle cx="90.2" cy="196.5" r="1.7"/><circle cx="36.2" cy="171.9" r="1.7"/><circle cx="95.4" cy="83.5" r="1.7"/><circle cx="43.2" cy="92.2" r="1.7"/><circle cx="34.2" cy="176.0" r="1.7"/><circle cx="45.7" cy="193.0" r="1.7"/><circle cx="84.6" cy="205.1" r="1.7"/><circle cx="94.2" cy="84.1" r="1.7"/><circle cx="112.9" cy="155.2" r="1.7"/><circle cx="83.3" cy="72.9" r="1.7"/><circle cx="100.2" cy="187.8" r="1.7"/><circle cx="58.7" cy="204.0" r="1.7"/><circle cx="74.7" cy="72.1" r="1.7"/><circle cx="109.7" cy="113.8" r="1.7"/><circle cx="97.9" cy="86.8" r="1.7"/><circle cx="39.2" cy="96.4" r="1.7"/><circle cx="110.9" cy="152.6" r="1.7"/><circle cx="30.7" cy="129.4" r="1.7"/><circle cx="79.4" cy="73.4" r="1.7"/><circle cx="29.2" cy="154.1" r="1.7"/><circle cx="107.4" cy="102.2" r="1.7"/><circle cx="53.3" cy="198.1" r="1.7"/><circle cx="60.1" cy="204.1" r="1.7"/><circle cx="31.5" cy="146.4" r="1.7"/><circle cx="29.7" cy="144.7" r="1.7"/><circle cx="79.4" cy="205.8" r="1.7"/><circle cx="58.9" cy="205.1" r="1.7"/><circle cx="77.7" cy="73.7" r="1.7"/><circle cx="31.6" cy="131.1" r="1.7"/><circle cx="96.2" cy="86.6" r="1.7"/><circle cx="30.4" cy="156.1" r="1.7"/><circle cx="44.5" cy="194.5" r="1.7"/><circle cx="104.1" cy="98.5" r="1.7"/><circle cx="106.8" cy="104.0" r="1.7"/><circle cx="34.3" cy="114.0" r="1.7"/><circle cx="55.2" cy="75.0" r="1.7"/><circle cx="28.4" cy="128.5" r="1.7"/><circle cx="46.1" cy="85.7" r="1.7"/><circle cx="107.7" cy="171.6" r="1.7"/><circle cx="104.2" cy="96.4" r="1.7"/><circle cx="42.4" cy="86.5" r="1.7"/><circle cx="42.8" cy="191.3" r="1.7"/><circle cx="103.6" cy="180.9" r="1.7"/><circle cx="109.3" cy="153.7" r="1.7"/><circle cx="47.7" cy="80.6" r="1.7"/><circle cx="112.8" cy="136.8" r="1.7"/><circle cx="113.0" cy="140.7" r="1.7"/><circle cx="96.2" cy="190.0" r="1.7"/><circle cx="30.6" cy="157.1" r="1.7"/><circle cx="33.4" cy="113.0" r="1.7"/><circle cx="80.7" cy="203.4" r="1.7"/><circle cx="110.9" cy="120.9" r="1.7"/><circle cx="112.6" cy="154.5" r="1.7"/><circle cx="52.3" cy="198.6" r="1.7"/><circle cx="103.1" cy="177.2" r="1.7"/><circle cx="71.8" cy="69.4" r="1.7"/><circle cx="103.0" cy="181.1" r="1.7"/><circle cx="104.1" cy="175.7" r="1.7"/><circle cx="38.8" cy="177.7" r="1.7"/><circle cx="75.0" cy="72.3" r="1.7"/><circle cx="111.7" cy="137.7" r="1.7"/><circle cx="30.6" cy="140.5" r="1.7"/><circle cx="48.4" cy="193.4" r="1.7"/><circle cx="29.8" cy="147.7" r="1.7"/><circle cx="35.5" cy="99.8" r="1.7"/><circle cx="99.5" cy="90.7" r="1.7"/><circle cx="31.5" cy="123.0" r="1.7"/><circle cx="111.8" cy="151.4" r="1.7"/><circle cx="30.2" cy="147.2" r="1.7"/><circle cx="31.0" cy="113.2" r="1.7"/><circle cx="83.7" cy="204.3" r="1.7"/><circle cx="92.7" cy="80.6" r="1.7"/><circle cx="99.0" cy="90.5" r="1.7"/><circle cx="112.5" cy="130.3" r="1.7"/><circle cx="112.3" cy="149.8" r="1.7"/><circle cx="34.6" cy="168.3" r="1.7"/><circle cx="32.5" cy="115.7" r="1.7"/><circle cx="35.4" cy="108.2" r="1.7"/><circle cx="79.1" cy="70.9" r="1.7"/><circle cx="111.6" cy="160.2" r="1.7"/><circle cx="42.8" cy="185.4" r="1.7"/><circle cx="56.9" cy="73.1" r="1.7"/><circle cx="111.7" cy="151.8" r="1.7"/><circle cx="32.8" cy="168.5" r="1.7"/><circle cx="71.7" cy="69.7" r="1.7"/><circle cx="42.4" cy="87.2" r="1.7"/><circle cx="30.2" cy="123.7" r="1.7"/><circle cx="32.1" cy="163.4" r="1.7"/><circle cx="29.1" cy="123.1" r="1.7"/><circle cx="72.1" cy="206.5" r="1.7"/><circle cx="28.1" cy="142.7" r="1.7"/><circle cx="70.1" cy="207.5" r="1.7"/><circle cx="109.1" cy="157.1" r="1.7"/><circle cx="36.8" cy="179.0" r="1.7"/><circle cx="29.4" cy="120.4" r="1.7"/><circle cx="110.8" cy="153.8" r="1.7"/><circle cx="39.2" cy="185.3" r="1.7"/><circle cx="57.5" cy="202.6" r="1.7"/><circle cx="82.9" cy="203.3" r="1.7"/><circle cx="96.3" cy="84.3" r="1.7"/><circle cx="46.8" cy="193.8" r="1.7"/><circle cx="27.7" cy="139.9" r="1.7"/><circle cx="85.4" cy="202.2" r="1.7"/><circle cx="106.2" cy="175.5" r="1.7"/><circle cx="36.3" cy="100.9" r="1.7"/><circle cx="80.1" cy="207.0" r="1.7"/><circle cx="50.7" cy="199.3" r="1.7"/><circle cx="39.2" cy="100.4" r="1.7"/><circle cx="33.0" cy="121.1" r="1.7"/><circle cx="108.9" cy="163.9" r="1.7"/><circle cx="37.5" cy="181.6" r="1.7"/><circle cx="89.6" cy="76.4" r="1.7"/><circle cx="53.2" cy="79.7" r="1.7"/><circle cx="37.9" cy="179.2" r="1.7"/><circle cx="106.7" cy="172.7" r="1.7"/><circle cx="103.2" cy="102.1" r="1.7"/><circle cx="111.3" cy="127.2" r="1.7"/><circle cx="62.4" cy="203.5" r="1.7"/><circle cx="51.2" cy="79.3" r="1.7"/><circle cx="105.7" cy="181.1" r="1.7"/><circle cx="100.5" cy="187.7" r="1.7"/><circle cx="35.3" cy="170.3" r="1.7"/><circle cx="40.8" cy="182.9" r="1.7"/><circle cx="56.7" cy="73.3" r="1.7"/><circle cx="32.5" cy="168.3" r="1.7"/><circle cx="31.6" cy="125.5" r="1.7"/><circle cx="29.4" cy="141.9" r="1.7"/><circle cx="73.2" cy="69.2" r="1.7"/><circle cx="110.5" cy="148.2" r="1.7"/><circle cx="73.0" cy="69.4" r="1.7"/><circle cx="64.0" cy="204.8" r="1.7"/><circle cx="36.6" cy="174.2" r="1.7"/><circle cx="98.0" cy="191.1" r="1.7"/><circle cx="31.2" cy="144.9" r="1.7"/><circle cx="36.8" cy="101.5" r="1.7"/><circle cx="45.4" cy="87.9" r="1.7"/><circle cx="84.5" cy="73.5" r="1.7"/><circle cx="109.0" cy="171.0" r="1.7"/><circle cx="39.0" cy="185.0" r="1.7"/><circle cx="97.4" cy="89.1" r="1.7"/><circle cx="60.0" cy="202.2" r="1.7"/><circle cx="107.6" cy="104.9" r="1.7"/><circle cx="83.7" cy="75.6" r="1.7"/><circle cx="37.0" cy="97.2" r="1.7"/><circle cx="113.6" cy="135.8" r="1.7"/><circle cx="56.8" cy="74.4" r="1.7"/><circle cx="31.9" cy="128.6" r="1.7"/><circle cx="109.4" cy="157.4" r="1.7"/><circle cx="85.6" cy="204.4" r="1.7"/><circle cx="29.5" cy="120.1" r="1.7"/><circle cx="107.5" cy="113.9" r="1.7"/><circle cx="31.7" cy="133.4" r="1.7"/><circle cx="85.6" cy="202.7" r="1.7"/><circle cx="82.9" cy="203.0" r="1.7"/><circle cx="113.1" cy="128.4" r="1.7"/><circle cx="81.4" cy="73.3" r="1.7"/><circle cx="100.2" cy="90.7" r="1.7"/><circle cx="32.0" cy="124.9" r="1.7"/><circle cx="110.2" cy="123.5" r="1.7"/><circle cx="79.0" cy="204.1" r="1.7"/><circle cx="76.6" cy="70.8" r="1.7"/><circle cx="42.6" cy="191.0" r="1.7"/><circle cx="44.5" cy="193.9" r="1.7"/><circle cx="95.3" cy="81.4" r="1.7"/><circle cx="109.8" cy="128.0" r="1.7"/><circle cx="104.7" cy="97.6" r="1.7"/><circle cx="27.9" cy="142.4" r="1.7"/><circle cx="113.5" cy="151.0" r="1.7"/><circle cx="40.4" cy="183.8" r="1.7"/><circle cx="111.6" cy="158.3" r="1.7"/><circle cx="84.7" cy="74.4" r="1.7"/><circle cx="109.7" cy="131.7" r="1.7"/><circle cx="43.7" cy="191.9" r="1.7"/><circle cx="98.2" cy="192.0" r="1.7"/><circle cx="98.6" cy="86.9" r="1.7"/><circle cx="112.6" cy="148.3" r="1.7"/><circle cx="30.9" cy="132.0" r="1.7"/><circle cx="109.4" cy="113.1" r="1.7"/><circle cx="109.3" cy="156.0" r="1.7"/><circle cx="89.7" cy="201.7" r="1.7"/><circle cx="45.1" cy="83.6" r="1.7"/><circle cx="93.3" cy="83.0" r="1.7"/><circle cx="31.7" cy="167.8" r="1.7"/><circle cx="32.4" cy="155.0" r="1.7"/><circle cx="108.5" cy="168.8" r="1.7"/><circle cx="78.0" cy="204.7" r="1.7"/><circle cx="51.2" cy="81.5" r="1.7"/><circle cx="86.7" cy="76.3" r="1.7"/><circle cx="35.4" cy="103.2" r="1.7"/><circle cx="91.1" cy="197.4" r="1.7"/><circle cx="108.3" cy="170.6" r="1.7"/><circle cx="48.8" cy="83.5" r="1.7"/><circle cx="111.2" cy="158.7" r="1.7"/><circle cx="111.4" cy="121.7" r="1.7"/><circle cx="41.5" cy="92.1" r="1.7"/><circle cx="74.7" cy="205.4" r="1.7"/><circle cx="66.1" cy="70.9" r="1.7"/><circle cx="103.3" cy="177.2" r="1.7"/><circle cx="92.3" cy="198.5" r="1.7"/><circle cx="89.5" cy="77.2" r="1.7"/><circle cx="40.3" cy="186.7" r="1.7"/><circle cx="31.6" cy="155.7" r="1.7"/><circle cx="30.8" cy="141.5" r="1.7"/><circle cx="31.7" cy="121.1" r="1.7"/><circle cx="102.2" cy="97.5" r="1.7"/><circle cx="48.2" cy="82.8" r="1.7"/><circle cx="31.9" cy="166.4" r="1.7"/><circle cx="68.5" cy="70.5" r="1.7"/><circle cx="50.1" cy="81.8" r="1.7"/><circle cx="98.8" cy="85.5" r="1.7"/><circle cx="109.8" cy="168.2" r="1.7"/><circle cx="89.4" cy="80.0" r="1.7"/><circle cx="102.8" cy="98.2" r="1.7"/><circle cx="36.0" cy="109.8" r="1.7"/><circle cx="33.8" cy="107.4" r="1.7"/><circle cx="90.7" cy="196.9" r="1.7"/><circle cx="113.3" cy="139.6" r="1.7"/><circle cx="41.5" cy="93.1" r="1.7"/><circle cx="93.4" cy="83.4" r="1.7"/><circle cx="66.9" cy="72.0" r="1.7"/><circle cx="75.4" cy="70.9" r="1.7"/><circle cx="86.4" cy="201.1" r="1.7"/><circle cx="35.3" cy="105.4" r="1.7"/><circle cx="94.3" cy="196.8" r="1.7"/><circle cx="110.6" cy="146.4" r="1.7"/><circle cx="84.5" cy="202.2" r="1.7"/><circle cx="34.3" cy="171.2" r="1.7"/><circle cx="34.9" cy="170.3" r="1.7"/><circle cx="106.0" cy="110.5" r="1.7"/><circle cx="109.4" cy="170.1" r="1.7"/><circle cx="32.7" cy="123.3" r="1.7"/><circle cx="92.6" cy="197.0" r="1.7"/><circle cx="29.8" cy="127.4" r="1.7"/><circle cx="92.6" cy="82.8" r="1.7"/><circle cx="87.8" cy="202.3" r="1.7"/><circle cx="111.6" cy="147.2" r="1.7"/><circle cx="113.1" cy="152.3" r="1.7"/><circle cx="28.1" cy="143.6" r="1.7"/><circle cx="91.1" cy="82.1" r="1.7"/><circle cx="86.2" cy="200.3" r="1.7"/><circle cx="28.9" cy="146.9" r="1.7"/><circle cx="53.9" cy="199.5" r="1.7"/><circle cx="79.7" cy="203.3" r="1.7"/><circle cx="31.2" cy="166.1" r="1.7"/><circle cx="32.3" cy="159.4" r="1.7"/><circle cx="113.0" cy="141.6" r="1.7"/><circle cx="82.2" cy="206.2" r="1.7"/><circle cx="109.0" cy="166.9" r="1.7"/><circle cx="89.5" cy="199.8" r="1.7"/><circle cx="69.6" cy="71.6" r="1.7"/><circle cx="68.1" cy="72.8" r="1.7"/><circle cx="41.2" cy="185.7" r="1.7"/><circle cx="104.0" cy="175.2" r="1.7"/><circle cx="79.0" cy="204.3" r="1.7"/><circle cx="53.0" cy="78.7" r="1.7"/><circle cx="111.2" cy="158.1" r="1.7"/><circle cx="31.9" cy="126.4" r="1.7"/><circle cx="109.7" cy="119.9" r="1.7"/><circle cx="111.3" cy="151.2" r="1.7"/><circle cx="51.3" cy="201.0" r="1.7"/><circle cx="109.5" cy="120.0" r="1.7"/><circle cx="36.2" cy="106.3" r="1.7"/><circle cx="39.7" cy="93.2" r="1.7"/><circle cx="98.9" cy="87.7" r="1.7"/><circle cx="58.7" cy="73.0" r="1.7"/><circle cx="90.7" cy="77.6" r="1.7"/><circle cx="33.6" cy="106.0" r="1.7"/><circle cx="111.6" cy="153.9" r="1.7"/><circle cx="111.2" cy="131.2" r="1.7"/><circle cx="112.3" cy="150.5" r="1.7"/><circle cx="73.1" cy="206.7" r="1.7"/><circle cx="110.9" cy="165.1" r="1.7"/><circle cx="39.3" cy="183.8" r="1.7"/><circle cx="101.9" cy="99.1" r="1.7"/><circle cx="82.7" cy="72.5" r="1.7"/><circle cx="95.4" cy="195.6" r="1.7"/><circle cx="100.4" cy="182.8" r="1.7"/><circle cx="110.4" cy="128.0" r="1.7"/><circle cx="112.2" cy="132.5" r="1.7"/><circle cx="109.8" cy="169.3" r="1.7"/><circle cx="103.9" cy="96.9" r="1.7"/><circle cx="50.9" cy="199.4" r="1.7"/><circle cx="36.9" cy="104.0" r="1.7"/><circle cx="103.5" cy="184.8" r="1.7"/><circle cx="62.2" cy="205.6" r="1.7"/><circle cx="110.3" cy="126.2" r="1.7"/><circle cx="73.5" cy="71.8" r="1.7"/><circle cx="79.9" cy="71.5" r="1.7"/><circle cx="54.2" cy="199.5" r="1.7"/><circle cx="102.6" cy="178.0" r="1.7"/><circle cx="110.9" cy="158.8" r="1.7"/><circle cx="46.4" cy="192.4" r="1.7"/><circle cx="55.2" cy="203.8" r="1.7"/><circle cx="81.6" cy="74.7" r="1.7"/><circle cx="80.2" cy="204.0" r="1.7"/><circle cx="103.3" cy="97.4" r="1.7"/><circle cx="86.1" cy="77.0" r="1.7"/><circle cx="62.8" cy="73.8" r="1.7"/><circle cx="88.4" cy="201.0" r="1.7"/><circle cx="48.0" cy="194.4" r="1.7"/><circle cx="77.9" cy="207.9" r="1.7"/><circle cx="110.2" cy="140.6" r="1.7"/><circle cx="56.6" cy="77.0" r="1.7"/><circle cx="29.6" cy="129.3" r="1.7"/><circle cx="39.4" cy="181.9" r="1.7"/><circle cx="111.5" cy="155.6" r="1.7"/><circle cx="111.8" cy="141.8" r="1.7"/><circle cx="46.9" cy="191.8" r="1.7"/><circle cx="30.1" cy="155.3" r="1.7"/><circle cx="75.4" cy="70.5" r="1.7"/><circle cx="98.5" cy="88.9" r="1.7"/><circle cx="38.8" cy="181.8" r="1.7"/><circle cx="93.8" cy="84.4" r="1.7"/><circle cx="41.2" cy="90.7" r="1.7"/><circle cx="34.5" cy="112.2" r="1.7"/><circle cx="49.9" cy="81.5" r="1.7"/><circle cx="97.9" cy="87.1" r="1.7"/><circle cx="31.1" cy="127.8" r="1.7"/><circle cx="113.8" cy="139.7" r="1.7"/><circle cx="108.8" cy="121.1" r="1.7"/><circle cx="59.2" cy="72.1" r="1.7"/><circle cx="109.9" cy="166.5" r="1.7"/><circle cx="82.7" cy="71.9" r="1.7"/><circle cx="109.6" cy="126.5" r="1.7"/><circle cx="102.6" cy="95.2" r="1.7"/><circle cx="36.1" cy="177.5" r="1.7"/><circle cx="111.0" cy="161.9" r="1.7"/><circle cx="69.4" cy="205.5" r="1.7"/><circle cx="107.4" cy="176.5" r="1.7"/><circle cx="89.2" cy="197.7" r="1.7"/><circle cx="61.6" cy="205.3" r="1.7"/><circle cx="31.8" cy="155.6" r="1.7"/><circle cx="77.1" cy="207.5" r="1.7"/><circle cx="75.8" cy="205.6" r="1.7"/><circle cx="67.6" cy="204.9" r="1.7"/><circle cx="54.7" cy="199.1" r="1.7"/><circle cx="110.4" cy="137.7" r="1.7"/><circle cx="45.7" cy="196.2" r="1.7"/><circle cx="29.9" cy="126.2" r="1.7"/><circle cx="34.3" cy="175.2" r="1.7"/><circle cx="112.7" cy="153.2" r="1.7"/><circle cx="51.9" cy="80.9" r="1.7"/><circle cx="102.3" cy="181.3" r="1.7"/><circle cx="73.3" cy="208.3" r="1.7"/><circle cx="90.3" cy="80.6" r="1.7"/><circle cx="33.1" cy="107.3" r="1.7"/><circle cx="97.1" cy="195.0" r="1.7"/><circle cx="64.8" cy="70.8" r="1.7"/><circle cx="99.2" cy="187.7" r="1.7"/><circle cx="36.8" cy="174.6" r="1.7"/><circle cx="96.3" cy="192.4" r="1.7"/><circle cx="29.2" cy="134.3" r="1.7"/><circle cx="52.8" cy="76.0" r="1.7"/><circle cx="31.3" cy="122.8" r="1.7"/><circle cx="64.5" cy="206.8" r="1.7"/><circle cx="60.0" cy="206.2" r="1.7"/><circle cx="85.6" cy="202.0" r="1.7"/><circle cx="44.2" cy="193.6" r="1.7"/><circle cx="110.3" cy="116.3" r="1.7"/><circle cx="30.7" cy="151.8" r="1.7"/><circle cx="100.3" cy="93.4" r="1.7"/><circle cx="70.9" cy="208.5" r="1.7"/><circle cx="113.0" cy="146.0" r="1.7"/><circle cx="102.1" cy="186.6" r="1.7"/><circle cx="92.5" cy="79.8" r="1.7"/><circle cx="99.8" cy="189.7" r="1.7"/><circle cx="63.8" cy="70.8" r="1.7"/><circle cx="39.4" cy="96.0" r="1.7"/><circle cx="65.8" cy="207.1" r="1.7"/><circle cx="98.4" cy="87.4" r="1.7"/><circle cx="108.0" cy="115.1" r="1.7"/><circle cx="90.7" cy="201.0" r="1.7"/><circle cx="69.8" cy="69.5" r="1.7"/><circle cx="87.9" cy="76.8" r="1.7"/><circle cx="48.4" cy="84.6" r="1.7"/><circle cx="33.1" cy="111.9" r="1.7"/><circle cx="94.1" cy="192.8" r="1.7"/><circle cx="62.0" cy="74.5" r="1.7"/><circle cx="81.1" cy="73.8" r="1.7"/><circle cx="89.6" cy="202.0" r="1.7"/><circle cx="79.9" cy="72.3" r="1.7"/><circle cx="30.2" cy="150.3" r="1.7"/><circle cx="112.6" cy="157.5" r="1.7"/><circle cx="110.5" cy="123.7" r="1.7"/><circle cx="29.7" cy="152.2" r="1.7"/><circle cx="29.1" cy="153.2" r="1.7"/><circle cx="104.3" cy="99.9" r="1.7"/><circle cx="89.9" cy="197.6" r="1.7"/><circle cx="90.2" cy="78.1" r="1.7"/><circle cx="96.3" cy="85.1" r="1.7"/><circle cx="99.0" cy="91.9" r="1.7"/><circle cx="49.3" cy="79.3" r="1.7"/><circle cx="38.9" cy="183.4" r="1.7"/><circle cx="42.6" cy="188.0" r="1.7"/><circle cx="112.0" cy="150.4" r="1.7"/><circle cx="44.0" cy="187.5" r="1.7"/><circle cx="71.0" cy="70.2" r="1.7"/><circle cx="111.4" cy="158.8" r="1.7"/><circle cx="111.0" cy="116.8" r="1.7"/><circle cx="80.7" cy="72.2" r="1.7"/><circle cx="84.8" cy="76.9" r="1.7"/><circle cx="76.7" cy="206.2" r="1.7"/><circle cx="37.6" cy="181.5" r="1.7"/><circle cx="37.0" cy="177.3" r="1.7"/><circle cx="52.8" cy="77.5" r="1.7"/><circle cx="71.9" cy="71.6" r="1.7"/><circle cx="85.9" cy="201.5" r="1.7"/><circle cx="63.2" cy="206.5" r="1.7"/><circle cx="29.5" cy="125.2" r="1.7"/><circle cx="52.4" cy="80.8" r="1.7"/><circle cx="95.6" cy="195.3" r="1.7"/><circle cx="67.7" cy="208.5" r="1.7"/><circle cx="36.7" cy="102.4" r="1.7"/><circle cx="38.2" cy="184.4" r="1.7"/><circle cx="62.6" cy="70.9" r="1.7"/><circle cx="109.6" cy="157.9" r="1.7"/><circle cx="110.4" cy="132.9" r="1.7"/><circle cx="46.6" cy="192.3" r="1.7"/><circle cx="108.3" cy="161.3" r="1.7"/><circle cx="102.9" cy="181.0" r="1.7"/><circle cx="106.4" cy="172.2" r="1.7"/><circle cx="103.1" cy="95.2" r="1.7"/><circle cx="57.5" cy="72.3" r="1.7"/><circle cx="88.4" cy="199.3" r="1.7"/><circle cx="29.6" cy="136.1" r="1.7"/><circle cx="76.6" cy="205.2" r="1.7"/><circle cx="33.1" cy="167.3" r="1.7"/><circle cx="35.6" cy="175.4" r="1.7"/><circle cx="33.8" cy="111.7" r="1.7"/><circle cx="36.4" cy="96.8" r="1.7"/><circle cx="31.7" cy="149.5" r="1.7"/><circle cx="37.5" cy="96.7" r="1.7"/><circle cx="54.9" cy="199.5" r="1.7"/><circle cx="35.9" cy="104.3" r="1.7"/><circle cx="93.4" cy="194.7" r="1.7"/><circle cx="107.8" cy="174.3" r="1.7"/><circle cx="111.8" cy="131.8" r="1.7"/><circle cx="30.0" cy="154.0" r="1.7"/><circle cx="101.1" cy="183.0" r="1.7"/><circle cx="89.0" cy="197.4" r="1.7"/><circle cx="90.8" cy="197.3" r="1.7"/><circle cx="112.9" cy="128.8" r="1.7"/><circle cx="112.1" cy="152.5" r="1.7"/><circle cx="78.0" cy="205.4" r="1.7"/><circle cx="71.5" cy="69.9" r="1.7"/><circle cx="85.2" cy="201.6" r="1.7"/><circle cx="42.5" cy="91.7" r="1.7"/><circle cx="66.8" cy="69.4" r="1.7"/><circle cx="110.1" cy="137.4" r="1.7"/><circle cx="88.2" cy="75.6" r="1.7"/><circle cx="32.6" cy="169.0" r="1.7"/><circle cx="56.3" cy="204.5" r="1.7"/><circle cx="37.5" cy="174.2" r="1.7"/><circle cx="103.5" cy="98.7" r="1.7"/><circle cx="100.5" cy="93.5" r="1.7"/><circle cx="64.0" cy="69.5" r="1.7"/><circle cx="111.8" cy="155.2" r="1.7"/><circle cx="35.0" cy="107.3" r="1.7"/><circle cx="107.9" cy="110.6" r="1.7"/><circle cx="96.6" cy="85.6" r="1.7"/><circle cx="87.3" cy="200.9" r="1.7"/><circle cx="59.2" cy="205.6" r="1.7"/><circle cx="106.0" cy="174.2" r="1.7"/><circle cx="74.5" cy="69.2" r="1.7"/><circle cx="30.7" cy="140.0" r="1.7"/><circle cx="53.3" cy="202.4" r="1.7"/><circle cx="111.4" cy="147.3" r="1.7"/><circle cx="67.2" cy="71.9" r="1.7"/><circle cx="59.1" cy="74.8" r="1.7"/><circle cx="107.5" cy="172.8" r="1.7"/><circle cx="108.4" cy="119.1" r="1.7"/><circle cx="88.4" cy="74.7" r="1.7"/><circle cx="47.4" cy="81.1" r="1.7"/><circle cx="77.1" cy="72.7" r="1.7"/><circle cx="107.7" cy="163.6" r="1.7"/><circle cx="29.6" cy="140.7" r="1.7"/><circle cx="48.6" cy="80.2" r="1.7"/><circle cx="95.1" cy="192.4" r="1.7"/><circle cx="57.8" cy="74.3" r="1.7"/><circle cx="29.5" cy="131.5" r="1.7"/><circle cx="77.0" cy="205.5" r="1.7"/><circle cx="109.1" cy="164.6" r="1.7"/><circle cx="111.1" cy="128.0" r="1.7"/><circle cx="31.7" cy="152.6" r="1.7"/><circle cx="101.2" cy="186.2" r="1.7"/><circle cx="30.9" cy="148.7" r="1.7"/><circle cx="97.7" cy="89.1" r="1.7"/><circle cx="44.3" cy="192.5" r="1.7"/><circle cx="55.3" cy="199.6" r="1.7"/><circle cx="78.3" cy="206.7" r="1.7"/><circle cx="53.8" cy="201.0" r="1.7"/><circle cx="97.4" cy="194.5" r="1.7"/><circle cx="35.5" cy="173.6" r="1.7"/><circle cx="29.8" cy="157.7" r="1.7"/><circle cx="51.9" cy="200.9" r="1.7"/><circle cx="55.7" cy="75.0" r="1.7"/><circle cx="74.6" cy="70.6" r="1.7"/><circle cx="112.1" cy="133.8" r="1.7"/><circle cx="64.7" cy="207.9" r="1.7"/><circle cx="28.3" cy="133.8" r="1.7"/><circle cx="82.6" cy="75.8" r="1.7"/><circle cx="32.6" cy="162.0" r="1.7"/><circle cx="37.9" cy="97.6" r="1.7"/><circle cx="72.5" cy="208.4" r="1.7"/><circle cx="52.3" cy="77.7" r="1.7"/><circle cx="42.0" cy="189.3" r="1.7"/><circle cx="35.4" cy="173.8" r="1.7"/><circle cx="84.8" cy="200.6" r="1.7"/><circle cx="79.7" cy="203.9" r="1.7"/><circle cx="88.4" cy="76.3" r="1.7"/><circle cx="32.0" cy="120.9" r="1.7"/><circle cx="105.4" cy="108.0" r="1.7"/><circle cx="66.6" cy="72.7" r="1.7"/><circle cx="57.9" cy="202.1" r="1.7"/><circle cx="41.0" cy="93.0" r="1.7"/><circle cx="58.8" cy="205.4" r="1.7"/><circle cx="44.0" cy="188.7" r="1.7"/><circle cx="97.9" cy="87.2" r="1.7"/><circle cx="42.6" cy="87.9" r="1.7"/><circle cx="79.9" cy="71.4" r="1.7"/><circle cx="45.7" cy="86.7" r="1.7"/><circle cx="88.9" cy="76.3" r="1.7"/><circle cx="29.5" cy="142.1" r="1.7"/><circle cx="89.9" cy="196.7" r="1.7"/><circle cx="32.1" cy="158.9" r="1.7"/><circle cx="72.6" cy="69.3" r="1.7"/><circle cx="72.7" cy="71.0" r="1.7"/><circle cx="34.7" cy="112.6" r="1.7"/><circle cx="56.9" cy="77.2" r="1.7"/><circle cx="29.2" cy="140.5" r="1.7"/><circle cx="114.0" cy="140.5" r="1.7"/><circle cx="49.3" cy="78.3" r="1.7"/><circle cx="102.2" cy="98.5" r="1.7"/><circle cx="29.7" cy="152.9" r="1.7"/><circle cx="38.5" cy="176.6" r="1.7"/><circle cx="36.4" cy="102.2" r="1.7"/><circle cx="38.8" cy="94.2" r="1.7"/><circle cx="69.5" cy="205.1" r="1.7"/><circle cx="29.9" cy="125.2" r="1.7"/><circle cx="81.0" cy="205.6" r="1.7"/><circle cx="112.7" cy="149.9" r="1.7"/><circle cx="37.3" cy="96.5" r="1.7"/><circle cx="39.2" cy="183.7" r="1.7"/><circle cx="35.6" cy="177.7" r="1.7"/><circle cx="60.4" cy="204.5" r="1.7"/><circle cx="80.4" cy="204.8" r="1.7"/><circle cx="68.4" cy="208.5" r="1.7"/><circle cx="31.9" cy="152.6" r="1.7"/><circle cx="104.0" cy="177.0" r="1.7"/><circle cx="80.2" cy="74.4" r="1.7"/><circle cx="35.3" cy="106.7" r="1.7"/><circle cx="87.2" cy="199.8" r="1.7"/><circle cx="40.4" cy="91.2" r="1.7"/><circle cx="111.3" cy="130.0" r="1.7"/><circle cx="96.3" cy="83.6" r="1.7"/><circle cx="59.1" cy="75.2" r="1.7"/><circle cx="101.2" cy="95.8" r="1.7"/><circle cx="59.6" cy="202.6" r="1.7"/><circle cx="109.7" cy="123.3" r="1.7"/><circle cx="111.6" cy="122.0" r="1.7"/><circle cx="73.1" cy="206.9" r="1.7"/><circle cx="51.5" cy="81.5" r="1.7"/><circle cx="62.3" cy="204.3" r="1.7"/><circle cx="29.6" cy="161.0" r="1.7"/><circle cx="73.6" cy="70.0" r="1.7"/><circle cx="32.7" cy="113.8" r="1.7"/><circle cx="36.1" cy="100.7" r="1.7"/><circle cx="32.0" cy="148.8" r="1.7"/><circle cx="87.7" cy="199.7" r="1.7"/><circle cx="46.6" cy="84.2" r="1.7"/><circle cx="35.7" cy="177.9" r="1.7"/><circle cx="100.7" cy="93.3" r="1.7"/><circle cx="41.2" cy="186.2" r="1.7"/><circle cx="72.7" cy="69.4" r="1.7"/><circle cx="111.6" cy="155.6" r="1.7"/><circle cx="32.1" cy="154.6" r="1.7"/><circle cx="28.9" cy="131.0" r="1.7"/><circle cx="54.5" cy="76.7" r="1.7"/><circle cx="32.7" cy="118.1" r="1.7"/><circle cx="41.0" cy="184.4" r="1.7"/><circle cx="108.6" cy="172.3" r="1.7"/><circle cx="57.3" cy="76.7" r="1.7"/><circle cx="113.0" cy="130.2" r="1.7"/><circle cx="35.9" cy="108.5" r="1.7"/><circle cx="111.4" cy="119.6" r="1.7"/><circle cx="82.9" cy="71.6" r="1.7"/><circle cx="44.8" cy="85.5" r="1.7"/><circle cx="46.9" cy="82.7" r="1.7"/><circle cx="96.2" cy="86.9" r="1.7"/><circle cx="98.9" cy="92.8" r="1.7"/><circle cx="30.9" cy="166.5" r="1.7"/><circle cx="113.7" cy="137.5" r="1.7"/><circle cx="61.9" cy="73.8" r="1.7"/><circle cx="110.7" cy="126.8" r="1.7"/><circle cx="106.2" cy="104.4" r="1.7"/><circle cx="32.5" cy="122.7" r="1.7"/><circle cx="101.9" cy="184.9" r="1.7"/><circle cx="73.2" cy="205.7" r="1.7"/><circle cx="63.4" cy="206.6" r="1.7"/><circle cx="76.8" cy="204.8" r="1.7"/><circle cx="109.9" cy="161.1" r="1.7"/><circle cx="108.6" cy="106.1" r="1.7"/><circle cx="55.9" cy="73.4" r="1.7"/><circle cx="81.0" cy="74.7" r="1.7"/><circle cx="29.6" cy="146.0" r="1.7"/><circle cx="51.6" cy="199.9" r="1.7"/><circle cx="43.4" cy="86.5" r="1.7"/><circle cx="31.4" cy="146.6" r="1.7"/><circle cx="35.9" cy="173.7" r="1.7"/><circle cx="32.8" cy="158.8" r="1.7"/><circle cx="70.3" cy="71.6" r="1.7"/><circle cx="51.0" cy="195.9" r="1.7"/><circle cx="35.7" cy="105.5" r="1.7"/><circle cx="98.5" cy="187.0" r="1.7"/><circle cx="28.6" cy="146.6" r="1.7"/><circle cx="34.6" cy="101.6" r="1.7"/><circle cx="69.8" cy="70.6" r="1.7"/><circle cx="57.3" cy="75.6" r="1.7"/><circle cx="109.3" cy="110.2" r="1.7"/><circle cx="46.5" cy="196.1" r="1.7"/><circle cx="31.5" cy="130.4" r="1.7"/><circle cx="47.6" cy="197.9" r="1.7"/><circle cx="33.3" cy="163.5" r="1.7"/><circle cx="28.6" cy="150.0" r="1.7"/><circle cx="88.6" cy="201.1" r="1.7"/><circle cx="68.9" cy="204.8" r="1.7"/><circle cx="96.0" cy="88.6" r="1.7"/><circle cx="31.7" cy="119.0" r="1.7"/><circle cx="113.2" cy="132.7" r="1.7"/><circle cx="30.5" cy="160.0" r="1.7"/><circle cx="112.3" cy="154.6" r="1.7"/><circle cx="70.1" cy="207.5" r="1.7"/><circle cx="29.1" cy="150.9" r="1.7"/><circle cx="79.0" cy="204.7" r="1.7"/><circle cx="84.1" cy="201.7" r="1.7"/><circle cx="28.8" cy="154.0" r="1.7"/><circle cx="79.6" cy="70.4" r="1.7"/><circle cx="28.9" cy="133.4" r="1.7"/><circle cx="93.4" cy="84.8" r="1.7"/><circle cx="70.6" cy="70.2" r="1.7"/><circle cx="103.3" cy="182.1" r="1.7"/><circle cx="30.6" cy="149.6" r="1.7"/><circle cx="28.8" cy="140.8" r="1.7"/><circle cx="98.0" cy="189.4" r="1.7"/><circle cx="52.4" cy="198.9" r="1.7"/><circle cx="70.1" cy="72.5" r="1.7"/><circle cx="36.4" cy="100.9" r="1.7"/><circle cx="30.0" cy="144.2" r="1.7"/><circle cx="76.0" cy="206.2" r="1.7"/><circle cx="55.9" cy="202.6" r="1.7"/><circle cx="109.4" cy="160.9" r="1.7"/><circle cx="31.3" cy="115.3" r="1.7"/><circle cx="58.6" cy="72.4" r="1.7"/><circle cx="53.3" cy="79.2" r="1.7"/><circle cx="31.2" cy="159.4" r="1.7"/><circle cx="57.3" cy="75.6" r="1.7"/><circle cx="112.1" cy="141.4" r="1.7"/><circle cx="60.8" cy="204.5" r="1.7"/><circle cx="32.6" cy="160.8" r="1.7"/><circle cx="91.9" cy="78.4" r="1.7"/><circle cx="54.2" cy="200.2" r="1.7"/><circle cx="36.4" cy="101.5" r="1.7"/><circle cx="109.2" cy="112.6" r="1.7"/><circle cx="112.9" cy="142.5" r="1.7"/><circle cx="32.2" cy="125.8" r="1.7"/><circle cx="30.6" cy="156.6" r="1.7"/><circle cx="56.8" cy="204.7" r="1.7"/><circle cx="66.3" cy="72.7" r="1.7"/><circle cx="111.5" cy="153.2" r="1.7"/><circle cx="102.6" cy="183.8" r="1.7"/><circle cx="104.8" cy="179.2" r="1.7"/><circle cx="64.6" cy="206.7" r="1.7"/><circle cx="111.3" cy="160.0" r="1.7"/><circle cx="111.2" cy="151.2" r="1.7"/><circle cx="81.6" cy="74.4" r="1.7"/><circle cx="31.0" cy="121.4" r="1.7"/><circle cx="55.6" cy="202.0" r="1.7"/><circle cx="110.7" cy="155.0" r="1.7"/><circle cx="112.2" cy="136.7" r="1.7"/><circle cx="49.1" cy="195.3" r="1.7"/><circle cx="69.0" cy="205.5" r="1.7"/><circle cx="104.6" cy="178.0" r="1.7"/><circle cx="110.7" cy="160.1" r="1.7"/><circle cx="64.5" cy="204.8" r="1.7"/><circle cx="102.9" cy="186.6" r="1.7"/><circle cx="95.4" cy="83.8" r="1.7"/><circle cx="94.1" cy="80.3" r="1.7"/><circle cx="99.5" cy="191.4" r="1.7"/><circle cx="75.5" cy="206.0" r="1.7"/><circle cx="44.6" cy="188.3" r="1.7"/><circle cx="103.5" cy="97.2" r="1.7"/><circle cx="68.6" cy="205.9" r="1.7"/><circle cx="110.0" cy="134.6" r="1.7"/><circle cx="51.4" cy="79.6" r="1.7"/><circle cx="105.9" cy="177.6" r="1.7"/><circle cx="102.2" cy="185.8" r="1.7"/><circle cx="57.8" cy="204.7" r="1.7"/><circle cx="78.5" cy="70.7" r="1.7"/><circle cx="34.3" cy="172.9" r="1.7"/><circle cx="29.9" cy="138.6" r="1.7"/><circle cx="94.7" cy="196.5" r="1.7"/><circle cx="86.2" cy="73.8" r="1.7"/><circle cx="32.8" cy="156.6" r="1.7"/><circle cx="81.7" cy="206.3" r="1.7"/><circle cx="33.5" cy="112.4" r="1.7"/><circle cx="65.9" cy="72.4" r="1.7"/><circle cx="30.9" cy="154.7" r="1.7"/><circle cx="46.9" cy="195.5" r="1.7"/><circle cx="85.7" cy="73.9" r="1.7"/><circle cx="32.0" cy="119.3" r="1.7"/><circle cx="87.6" cy="76.0" r="1.7"/><circle cx="52.6" cy="201.5" r="1.7"/><circle cx="88.2" cy="199.9" r="1.7"/><circle cx="31.0" cy="159.6" r="1.7"/><circle cx="41.2" cy="96.5" r="1.7"/><circle cx="65.1" cy="208.0" r="1.7"/><circle cx="28.5" cy="128.8" r="1.7"/><circle cx="110.3" cy="118.0" r="1.7"/><circle cx="37.6" cy="97.9" r="1.7"/><circle cx="43.8" cy="86.2" r="1.7"/><circle cx="82.5" cy="74.4" r="1.7"/><circle cx="36.2" cy="103.8" r="1.7"/><circle cx="33.5" cy="104.8" r="1.7"/><circle cx="29.6" cy="146.2" r="1.7"/><circle cx="99.5" cy="90.0" r="1.7"/><circle cx="73.8" cy="207.6" r="1.7"/><circle cx="111.0" cy="158.2" r="1.7"/><circle cx="41.1" cy="89.1" r="1.7"/><circle cx="113.7" cy="149.2" r="1.7"/><circle cx="102.5" cy="94.0" r="1.7"/><circle cx="92.6" cy="82.5" r="1.7"/><circle cx="78.1" cy="207.5" r="1.7"/><circle cx="37.1" cy="176.4" r="1.7"/><circle cx="30.7" cy="134.2" r="1.7"/><circle cx="67.1" cy="72.1" r="1.7"/><circle cx="111.8" cy="161.6" r="1.7"/><circle cx="88.1" cy="75.2" r="1.7"/><circle cx="70.5" cy="207.8" r="1.7"/><circle cx="69.6" cy="70.5" r="1.7"/><circle cx="87.8" cy="202.1" r="1.7"/><circle cx="106.8" cy="166.9" r="1.7"/><circle cx="51.2" cy="79.8" r="1.7"/><circle cx="33.5" cy="104.2" r="1.7"/><circle cx="112.7" cy="153.8" r="1.7"/><circle cx="47.3" cy="196.7" r="1.7"/><circle cx="93.9" cy="193.7" r="1.7"/><circle cx="40.4" cy="189.0" r="1.7"/><circle cx="91.4" cy="80.2" r="1.7"/><circle cx="41.8" cy="88.1" r="1.7"/><circle cx="32.3" cy="124.6" r="1.7"/><circle cx="41.3" cy="90.6" r="1.7"/><circle cx="33.3" cy="158.6" r="1.7"/><circle cx="86.8" cy="200.6" r="1.7"/><circle cx="111.6" cy="124.9" r="1.7"/><circle cx="50.9" cy="199.1" r="1.7"/><circle cx="103.5" cy="103.0" r="1.7"/><circle cx="64.2" cy="206.1" r="1.7"/><circle cx="112.3" cy="135.6" r="1.7"/><circle cx="106.4" cy="105.4" r="1.7"/><circle cx="61.0" cy="203.7" r="1.7"/><circle cx="35.8" cy="101.3" r="1.7"/><circle cx="64.1" cy="71.0" r="1.7"/><circle cx="110.4" cy="116.1" r="1.7"/><circle cx="74.4" cy="71.1" r="1.7"/><circle cx="113.2" cy="142.9" r="1.7"/><circle cx="88.1" cy="75.4" r="1.7"/><circle cx="37.9" cy="98.6" r="1.7"/></g>
<rect x="1.5" y="5.3" width="133.5" height="20.6" fill="#fff"/><text x="9.2" y="19.1" font-size="11.2"><tspan fill="#111">Pitch: </tspan><tspan fill="#dd1111">30 deg.</tspan><tspan fill="#111">, </tspan><tspan fill="#2222ee">150 deg.</tspan></text>
<rect x="111.1" y="34.6" width="22.3" height="24.7" fill="#ffff22"/><text x="122.3" y="53.4" font-size="18" text-anchor="middle" fill="#000">a</text>
<rect x="27.5" y="242.5" width="102" height="30.5" fill="#fff"/><text x="120.5" y="264.2" font-size="18" font-weight="bold" text-anchor="end" fill="#1010ee">180 keV D</text>
</g>
<rect x="0" y="0" width="139.5" height="279.4" fill="none" stroke="#000" stroke-width="1.7"/>
<path d="M13.9 0v4M13.9 279.4v-4M27.9 0v4M27.9 279.4v-4M41.9 0v4M41.9 279.4v-4M55.8 0v7M55.8 279.4v-7M69.8 0v4M69.8 279.4v-4M83.7 0v4M83.7 279.4v-4M97.7 0v4M97.7 279.4v-4M111.6 0v7M111.6 279.4v-7M125.5 0v4M125.5 279.4v-4M0 14.0h4M139.5 14.0h-4M0 27.9h4M139.5 27.9h-4M0 41.9h4M139.5 41.9h-4M0 55.9h4M139.5 55.9h-4M0 69.8h7M139.5 69.8h-7M0 83.8h4M139.5 83.8h-4M0 97.8h4M139.5 97.8h-4M0 111.8h4M139.5 111.8h-4M0 125.7h4M139.5 125.7h-4M0 139.7h7M139.5 139.7h-7M0 153.7h4M139.5 153.7h-4M0 167.6h4M139.5 167.6h-4M0 181.6h4M139.5 181.6h-4M0 195.6h4M139.5 195.6h-4M0 209.6h7M139.5 209.6h-7M0 223.5h4M139.5 223.5h-4M0 237.5h4M139.5 237.5h-4M0 251.5h4M139.5 251.5h-4M0 265.4h4M139.5 265.4h-4" stroke="#000" stroke-width="1.5" fill="none"/>
<text x="9.1" y="-12.9" font-size="18.25">Passing transit</text>
<text x="0.0" y="297.3" font-size="14.2" font-weight="bold" text-anchor="middle">3.2</text>
<text x="55.8" y="297.3" font-size="14.2" font-weight="bold" text-anchor="middle">3.6</text>
<text x="111.6" y="297.3" font-size="14.2" font-weight="bold" text-anchor="middle">4.0</text>
<text x="69.8" y="326.8" font-size="14.2" font-weight="bold" text-anchor="middle">R (m)</text>
</g>
<g transform="translate(219.0,51.5)">
<clipPath id="cpb"><rect x="0" y="0" width="139.5" height="279.4"/></clipPath>
<g clip-path="url(#cpb)">
<use href="#bg"/>
<path d="M71.8 72.8 L82.6 77.3" stroke="#4a9a1e" stroke-width="6.6" stroke-linecap="round" fill="none"/>
<circle cx="88.4" cy="81.8" r="3.3" fill="#4a9a1e"/>
<circle cx="73.6" cy="73.1" r="0.7" fill="#c8e0b8"/>
<circle cx="81.8" cy="76.5" r="0.85" fill="#c8e0b8"/>
<circle cx="88.4" cy="81.8" r="0.9" fill="#c8e0b8"/>
<circle cx="77.5" cy="75.3" r="0.5" fill="#c8e0b8"/>
<path d="M72.0 206.3 Q78.5 205.0 86.0 199.5" stroke="#4a9a1e" stroke-width="8.2" stroke-linecap="round" fill="none"/>
<rect x="3.0" y="6.0" width="89.0" height="22.7" fill="#fff"/><text x="15.6" y="21.6" font-size="11.2"><tspan fill="#111">Pitch: </tspan><tspan fill="#4a9a2a">91 deg.</tspan></text>
<rect x="111.1" y="35.7" width="22.3" height="24.7" fill="#ffff22"/><text x="122.3" y="54.5" font-size="18" text-anchor="middle" fill="#000">b</text>
<rect x="38" y="243.5" width="92" height="30" fill="#fff"/><text x="120.5" y="265.3" font-size="18" font-weight="bold" text-anchor="end" fill="#1010ee">80 keV D</text>
</g>
<rect x="0" y="0" width="139.5" height="279.4" fill="none" stroke="#000" stroke-width="1.7"/>
<path d="M13.9 0v4M13.9 279.4v-4M27.9 0v4M27.9 279.4v-4M41.9 0v4M41.9 279.4v-4M55.8 0v7M55.8 279.4v-7M69.8 0v4M69.8 279.4v-4M83.7 0v4M83.7 279.4v-4M97.7 0v4M97.7 279.4v-4M111.6 0v7M111.6 279.4v-7M125.5 0v4M125.5 279.4v-4M0 14.0h4M139.5 14.0h-4M0 27.9h4M139.5 27.9h-4M0 41.9h4M139.5 41.9h-4M0 55.9h4M139.5 55.9h-4M0 69.8h7M139.5 69.8h-7M0 83.8h4M139.5 83.8h-4M0 97.8h4M139.5 97.8h-4M0 111.8h4M139.5 111.8h-4M0 125.7h4M139.5 125.7h-4M0 139.7h7M139.5 139.7h-7M0 153.7h4M139.5 153.7h-4M0 167.6h4M139.5 167.6h-4M0 181.6h4M139.5 181.6h-4M0 195.6h4M139.5 195.6h-4M0 209.6h7M139.5 209.6h-7M0 223.5h4M139.5 223.5h-4M0 237.5h4M139.5 237.5h-4M0 251.5h4M139.5 251.5h-4M0 265.4h4M139.5 265.4h-4" stroke="#000" stroke-width="1.5" fill="none"/>
<text x="-2.4" y="-12.6" font-size="18.25">Helically trapped</text>
<text x="0.0" y="297.3" font-size="14.2" font-weight="bold" text-anchor="middle">3.2</text>
<text x="55.8" y="297.3" font-size="14.2" font-weight="bold" text-anchor="middle">3.6</text>
<text x="111.6" y="297.3" font-size="14.2" font-weight="bold" text-anchor="middle">4.0</text>
<text x="69.8" y="326.8" font-size="14.2" font-weight="bold" text-anchor="middle">R (m)</text>
</g>
<g transform="translate(390.4,51.5)">
<clipPath id="cpc"><rect x="0" y="0" width="139.5" height="279.4"/></clipPath>
<g clip-path="url(#cpc)">
<use href="#bg"/>
<path d="M87.0 201.6L85.7 203.0M45.3 181.0L45.5 178.8M45.4 125.2L44.1 123.4M100.1 202.4L96.8 202.5M114.9 90.6L115.4 93.3M100.4 191.5L97.1 190.8M37.2 118.7L38.3 115.5M106.1 84.4L107.5 86.7M107.9 198.3L108.1 200.2M52.0 91.9L53.2 89.8M123.5 136.0L125.2 138.4M77.1 207.8L74.3 208.1M111.6 104.0L114.2 105.8M52.4 97.6L52.0 95.0M132.6 146.1L131.1 148.2M97.6 82.3L99.4 83.3M65.6 189.0L62.4 188.8M57.3 184.2L58.1 181.8M92.6 193.1L91.2 195.8M108.4 189.8L107.6 193.4M117.1 186.1L115.8 189.4M42.6 148.0L40.4 146.6M99.0 87.1L101.2 87.6M96.2 207.7L95.3 209.4M126.7 104.6L128.4 107.6M56.6 81.3L57.9 79.9M60.1 200.9L58.4 198.1M39.3 128.0L38.2 124.7M131.4 117.4L129.4 119.7M61.9 86.4L64.4 85.1M93.4 209.0L92.4 212.2M44.7 120.1L46.0 118.1M47.1 149.1L44.7 147.6M39.9 144.1L38.2 142.3M85.1 79.4L87.2 81.9M119.1 170.2L117.2 171.6M89.1 211.6L87.9 213.2M51.1 94.2L52.5 91.1M90.2 67.4L92.4 66.6M105.6 77.4L109.0 77.7M102.7 196.3L101.1 198.6M126.2 139.2L126.2 142.3M42.4 145.3L43.8 143.3M51.8 91.5L52.5 88.2M42.2 152.4L44.0 149.8M52.2 99.7L54.4 98.4M62.4 89.5L62.7 86.3M54.6 184.9L53.9 183.1M66.8 188.9L63.4 189.8M107.5 192.7L104.7 194.8M61.9 77.7L64.2 77.7M123.3 107.4L121.8 110.1M69.0 198.3L66.5 195.7M116.4 99.0L115.9 101.2M49.9 171.6L49.0 168.7M46.5 90.7L47.9 89.2M52.4 103.3L52.3 101.1M87.6 77.7L91.1 77.3M62.5 72.8L63.7 70.4M102.8 185.6L102.0 187.5M40.4 114.0L41.3 111.5M43.2 145.0L44.7 143.2M47.6 185.1L45.8 183.4M43.1 172.8L39.7 171.9M111.5 197.4L109.4 197.8M40.9 117.0L39.6 113.9M49.6 188.9L48.9 187.0M68.0 207.8L66.5 206.6M50.5 86.0L52.4 84.6M68.2 74.6L70.3 75.8M39.6 140.2L38.5 138.3M98.7 85.6L99.3 88.5M50.8 91.0L49.9 88.6M114.2 195.5L111.1 196.7M71.0 202.7L68.8 203.8M112.4 84.3L112.6 87.3M47.3 161.7L49.1 158.7M45.1 179.3L43.1 177.2M81.8 195.5L79.7 196.5M121.1 101.8L124.4 103.1M103.6 191.2L100.6 190.8M110.6 99.4L112.5 101.2M122.5 133.6L121.3 135.2M126.2 124.7L125.5 128.1M98.3 189.8L97.0 191.8M107.9 204.2L104.9 203.6M131.3 127.4L130.3 130.3M102.6 87.2L105.3 87.4M42.3 121.3L44.4 118.7M83.4 78.6L85.4 77.6M43.4 109.1L43.4 106.7M101.8 207.1L100.9 208.8M41.7 140.4L42.8 138.1M110.3 187.5L109.4 189.9M114.8 191.6L112.5 192.7M116.9 182.4L114.3 183.1M120.8 126.7L120.4 129.6M51.8 105.8L52.8 102.7M107.7 183.2L107.1 185.7M68.6 194.1L65.7 193.3M37.5 119.6L36.8 117.3M41.9 124.0L43.5 122.6M36.5 153.5L36.8 149.9M44.1 98.0L45.9 97.3M51.5 101.5L50.4 99.1M109.7 88.6L112.4 90.1M75.0 194.6L72.0 193.2M105.0 84.6L107.5 84.5M124.4 99.7L122.7 102.5M122.7 141.1L122.5 143.6M60.4 81.6L62.9 79.8M116.6 160.3L118.2 163.0M65.2 194.5L63.9 193.0M52.9 83.0L52.9 79.8M44.0 122.2L43.7 119.0M43.0 129.6L43.7 127.6M39.7 147.1L40.0 144.3M63.0 71.8L64.9 70.3M70.2 197.4L68.1 197.1M41.4 145.8L42.1 143.5M105.4 204.6L105.4 206.4M112.5 86.5L113.6 88.4M49.8 179.9L49.8 177.5M113.5 170.5L110.9 170.9M78.6 65.2L80.8 64.1M64.3 80.3L67.1 80.1M40.4 143.6L41.4 141.3M115.3 168.8L116.6 170.7M116.8 187.8L113.8 189.3M65.4 205.6L62.2 204.3M40.0 168.9L39.7 166.0M117.2 108.7L120.4 109.8M55.4 94.7L55.3 92.1M111.5 91.9L113.8 94.3M86.1 68.8L88.1 68.2M55.0 193.6L53.5 191.1M57.0 197.8L56.4 194.4M106.4 204.9L104.1 204.7M88.7 66.6L90.5 68.8M78.2 196.2L75.1 195.8M53.6 85.6L53.0 82.8M101.4 192.1L99.2 192.3M123.6 142.5L123.0 145.2M63.2 188.9L61.3 188.4M112.7 84.1L112.4 86.6M95.0 201.3L93.5 202.4M69.0 69.6L70.9 70.4M110.1 189.6L107.4 190.0M108.3 84.8L111.1 85.9M79.1 202.7L75.9 201.6M100.5 71.2L101.0 74.6M66.1 76.3L68.9 75.6M44.4 123.4L42.7 121.3M117.1 172.1L114.3 173.7M42.5 103.6L41.1 101.5M47.0 100.4L49.3 99.6M70.2 66.4L72.0 67.4M84.1 80.9L86.9 79.6M46.0 151.9L44.2 150.2M41.3 134.4L40.3 131.1M94.6 80.3L97.5 79.6M120.6 105.5L119.5 107.2M52.3 187.4L51.6 185.5M42.1 135.9L40.8 134.0M54.6 96.2L56.1 93.6M70.1 200.7L68.9 199.3M60.8 75.8L61.7 72.6M122.3 150.1L120.3 152.5M115.6 187.5L114.6 189.7M58.5 193.9L56.8 192.8M37.4 152.8L38.4 149.5M41.0 163.6L38.3 162.0M44.4 134.5L45.7 131.4M123.8 127.9L124.1 131.4M115.5 109.2L117.0 112.1M94.4 66.1L96.2 69.0M51.3 86.9L54.4 85.3M102.5 192.8L101.6 195.1M48.5 165.2L48.2 163.2M112.7 82.4L115.2 82.7M89.7 73.2L90.8 75.0M105.3 87.4L107.3 88.6M52.6 90.3L55.3 88.2M67.1 73.3L70.5 73.0M49.4 185.6L47.6 184.0M49.0 90.0L49.5 87.9M44.6 91.5L47.1 91.0M42.3 160.6L42.2 158.1M119.4 90.5L121.2 91.4M42.6 141.2L43.0 139.1M46.2 183.2L43.5 182.5M43.1 152.0L42.1 149.8M43.0 116.8L43.3 113.9M39.0 146.7L38.2 143.4M111.0 183.4L108.4 185.5M54.8 81.1L55.4 77.5M47.9 160.8L46.0 160.1M39.3 120.8L37.8 118.2M108.6 86.1L110.9 87.3M94.5 194.4L91.2 194.3M115.3 170.6L113.4 171.0M47.3 111.4L48.8 109.5M56.8 91.7L59.4 91.4M131.9 129.4L131.5 131.3M58.9 77.7L60.5 75.1M55.5 85.0L58.3 85.0M91.0 74.9L93.6 75.9M106.7 81.9L108.7 84.2M46.3 108.8L48.4 107.6M71.5 67.2L73.1 65.2M76.7 76.5L79.2 77.3M104.1 201.3L101.0 202.3M116.7 165.0L115.7 167.0M88.1 198.4L86.2 197.6M80.8 209.7L77.7 208.8M118.8 170.4L119.0 173.8M124.1 166.8L122.1 168.5M114.7 100.1L116.6 101.2M43.7 144.7L43.5 142.1M128.7 129.4L130.6 132.2M127.2 147.2L126.8 149.9M50.4 91.9L51.4 89.2M71.3 69.2L74.7 70.3M117.4 160.0L118.5 162.4M90.4 67.0L92.4 69.9M84.0 68.5L86.2 69.0M94.9 67.9L95.9 70.2M109.8 198.1L109.3 200.3M52.8 177.0L51.4 175.7M53.1 83.8L52.5 81.6M51.2 84.7L51.5 81.2M120.0 114.1L121.2 117.0M90.3 67.5L92.6 68.3M91.8 203.2L90.4 204.9M124.7 170.5L125.1 172.7M80.2 68.0L81.2 66.2M93.1 195.6L90.7 195.0M42.0 114.2L43.5 110.9M94.2 212.2L91.3 211.9M43.4 151.0L44.4 149.0M52.2 102.0L51.4 100.3M71.4 74.2L74.5 73.5M109.1 197.4L106.7 198.6M52.5 83.4L53.9 81.9M63.4 76.8L64.3 74.5M48.8 189.7L47.2 188.7M51.4 193.4L49.0 193.2M40.3 150.1L39.4 146.7M33.9 137.8L36.7 135.8M62.8 81.9L65.1 79.2M60.5 80.1L60.6 77.5M65.2 76.7L67.9 77.3M70.4 75.7L72.5 76.0M128.5 135.5L125.8 137.3M108.3 93.3L108.2 95.3M71.2 69.2L73.9 69.0M35.0 150.1L35.1 146.5M111.0 177.7L110.3 181.2M116.3 189.5L115.9 191.8M94.3 203.8L92.1 204.3M41.5 113.5L41.0 111.4M83.6 71.2L86.6 70.7M123.7 119.2L123.1 121.8M52.8 192.9L50.9 190.2M98.2 72.8L100.9 71.6M73.1 198.1L72.0 195.4M90.4 73.0L91.7 76.3M113.9 96.6L113.7 99.6M45.3 181.0L46.1 178.4M100.7 200.0L98.1 201.8M76.5 195.0L73.8 194.8M119.1 116.8L117.4 119.8M36.0 141.1L35.8 138.5M46.6 164.5L45.6 162.8M38.2 155.9L36.3 154.4M65.8 204.7L62.9 204.1M118.2 108.9L118.5 110.8M40.2 137.1L41.6 134.5M49.2 110.0L48.5 107.8M46.0 186.7L46.2 183.4M65.9 81.4L67.2 79.0M44.8 114.7L46.8 114.0M91.7 72.3L93.3 73.3M48.1 110.1L46.8 107.6M81.2 200.0L78.7 199.4M53.6 180.3L52.9 177.9M36.7 118.2L37.3 116.2M36.3 149.0L37.2 147.2M41.1 138.0L39.4 136.0M42.4 111.4L43.1 109.7M38.9 138.1L37.7 134.8M47.1 128.2L44.9 125.8M124.3 114.5L124.4 117.3M62.8 193.6L60.7 193.8M105.4 204.8L102.9 207.3M83.2 197.3L81.3 198.9M89.7 195.2L87.4 196.8M127.5 138.0L128.4 139.6M98.7 73.9L101.9 72.7M43.2 149.7L44.5 147.5M46.3 117.8L46.0 115.6M88.4 74.5L89.6 76.9M42.4 105.8L42.9 103.7M42.7 149.3L41.7 146.9M59.3 200.4L57.6 198.5M54.5 94.1L55.3 91.5M109.1 87.9L110.5 90.7M66.2 195.7L64.4 196.4M120.3 155.8L119.2 158.7M45.4 158.3L43.0 156.1M43.3 117.0L44.9 116.0M111.6 80.1L112.8 81.7M77.1 206.6L74.9 204.2M92.9 206.8L90.9 209.4M86.7 204.3L83.3 204.4M116.2 194.3L113.5 196.4M89.9 205.8L87.4 204.9M125.2 170.2L123.5 171.1M47.9 183.5L47.4 181.5M40.1 141.7L40.1 139.7M96.3 81.1L98.0 82.8M109.1 179.3L106.4 179.7M44.1 105.3L42.9 103.3M38.8 108.0L40.5 106.8M39.9 118.9L40.1 116.0M120.1 163.9L121.8 166.4M126.4 121.7L126.4 124.3M93.1 81.1L95.6 83.4M55.4 183.5L56.6 180.1M116.3 111.3L115.8 114.0M61.2 190.9L60.8 188.3M41.3 126.5L43.2 124.1M131.7 150.2L130.0 151.9M124.7 109.0L124.2 110.8M82.0 212.5L79.8 213.9M120.6 93.1L120.5 96.4M62.8 188.9L59.8 187.7M112.0 175.9L109.4 177.2M59.0 90.4L62.0 89.9M50.2 186.3L47.4 184.8M46.6 106.6L46.4 103.9M113.3 93.9L113.8 97.4M103.6 204.7L101.6 205.8M48.4 113.3L48.2 110.5M45.8 162.7L45.6 159.5M52.4 188.7L50.0 186.6M126.0 138.5L127.3 139.9M49.0 92.6L51.2 91.8M118.2 119.8L117.5 121.8M68.8 82.1L71.0 81.9M42.2 140.8L41.3 137.6M101.6 201.9L98.7 201.9M39.6 136.9L38.3 134.7M44.6 166.2L44.7 164.4M123.7 96.4L122.5 99.0M92.3 196.2L90.4 196.7M49.3 183.1L46.9 180.8M104.0 75.5L105.0 77.6M100.4 80.9L102.0 83.7M127.3 113.6L125.1 116.3M62.6 201.9L61.2 200.6M114.1 104.9L115.3 106.3M114.0 107.3L112.7 109.3M52.0 94.2L55.0 93.7M41.8 174.2L40.8 171.9M51.9 94.9L50.8 91.5M99.6 194.5L99.4 196.7M50.7 170.6L49.9 168.3M120.9 157.7L118.1 159.7M40.1 149.1L38.0 146.3M92.3 203.9L90.8 206.6M39.6 148.2L40.5 146.4M120.7 175.6L121.5 178.0M68.6 79.2L71.6 77.8M41.8 131.3L39.6 128.7M43.1 165.1L42.4 163.4M70.8 199.3L67.4 198.8M117.4 153.4L117.5 155.8M65.4 196.5L64.6 193.2M42.7 128.3L44.2 127.3M38.9 137.0L41.1 135.1M115.2 182.5L116.2 184.7M91.2 65.1L93.6 65.6M119.2 171.6L117.1 173.5M109.9 91.0L113.0 91.6M64.2 201.1L62.6 199.6M58.2 74.5L61.6 75.5M39.2 147.3L40.2 145.3M56.3 91.0L55.7 88.0M60.3 196.6L60.1 193.5M109.4 77.0L109.5 79.2M118.3 90.8L117.7 93.3M89.3 199.9L86.5 198.4M102.5 71.5L103.8 72.9M51.4 175.8L50.9 173.3M124.8 116.4L123.8 117.9M81.9 202.0L78.6 201.5M60.9 86.0L63.2 85.2M105.0 199.0L103.0 199.9M122.0 176.0L122.3 177.8M100.3 68.7L100.7 71.7M76.5 78.0L79.8 77.8M121.3 99.0L121.2 101.3M43.2 113.1L45.5 111.9M38.2 143.1L38.1 140.6M36.6 125.4L36.0 123.4M86.1 204.2L84.7 205.7M42.7 158.7L43.9 156.8M43.2 102.8L45.8 102.0M105.7 182.3L105.5 184.6M51.4 102.5L53.7 102.0M74.3 198.5L72.4 199.9M73.0 76.9L75.8 78.8M52.4 97.0L51.4 94.0M52.5 88.3L54.0 86.0M57.5 182.8L56.4 180.2M124.5 100.6L127.0 101.5M35.8 141.3L36.2 138.4M47.8 183.3L46.0 182.7M118.5 93.3L121.1 94.2M42.1 113.9L41.5 111.1M42.3 109.0L43.7 107.8M117.7 173.1L116.6 175.8M62.7 191.8L60.3 190.7M123.0 100.3L123.0 102.9M45.4 98.6L44.2 96.0M40.0 165.3L38.1 163.0M129.9 143.8L131.6 145.3M58.1 76.2L59.2 73.8M51.0 171.7L50.2 169.0M108.9 178.3L107.8 180.3M40.0 132.2L38.8 129.7M61.2 92.0L60.7 89.8M45.0 97.0L47.9 95.9M119.3 160.9L118.5 163.3M109.8 94.0L110.2 97.2M56.7 94.8L59.1 93.4M118.2 168.7L115.9 169.2M45.2 110.2L45.6 108.5M119.1 156.5L119.0 158.4M38.4 126.0L40.4 123.2M42.1 139.2L41.4 137.4M85.8 64.8L87.8 63.9M76.2 198.0L74.2 196.6M122.1 163.2L123.8 165.6M119.0 96.1L120.8 96.5M102.4 192.1L100.4 192.9M67.6 205.6L65.5 205.5M100.7 186.6L100.0 189.8M118.4 113.9L121.0 115.4M49.0 172.8L47.7 169.9M124.8 176.0L121.5 177.2M111.5 96.6L113.1 97.8M47.6 112.9L49.2 111.2M51.5 189.4L52.0 186.0M48.4 185.6L47.6 183.2M131.2 148.7L132.3 152.1M124.0 100.9L124.6 104.0M123.9 167.6L125.0 169.8M121.2 118.7L122.7 120.8M65.4 195.2L65.2 192.5M111.6 178.4L109.5 180.7M107.0 180.4L106.4 183.3M60.7 77.1L62.5 74.9M52.9 183.6L50.0 182.1M52.8 105.8L51.5 102.9M40.4 163.3L38.2 162.3M53.7 176.3L52.6 174.6M42.6 109.6L43.7 106.6M43.6 104.1L45.9 102.2M43.0 119.9L45.0 118.0M45.5 153.8L46.1 151.1M121.5 133.9L123.9 136.0M45.2 94.4L45.1 92.3M119.7 184.5L119.9 186.9M40.7 116.9L41.5 115.3M120.4 185.3L119.5 187.2M111.4 176.4L112.7 179.3M78.3 78.9L80.8 79.4M57.8 188.4L55.9 188.5M57.7 83.8L58.8 82.1M43.3 138.3L42.4 136.5M36.7 156.2L36.9 152.9M39.4 147.4L39.2 145.4M37.1 121.2L39.3 119.0M56.3 177.8L54.3 177.0M50.3 165.5L47.8 164.5M58.4 78.6L58.0 76.0M45.5 137.8L43.6 135.2M45.7 103.2L48.0 101.8M102.5 207.0L99.6 206.5M38.9 122.0L37.8 119.0M41.9 132.9L41.7 130.7M52.1 93.7L51.9 90.2M87.5 196.5L85.7 196.8M88.1 66.2L90.5 67.2M94.8 193.1L93.8 196.4M97.1 68.5L99.5 70.1M120.9 146.9L119.5 148.3M117.0 113.2L116.3 115.6M48.3 186.5L45.9 184.4M51.0 84.7L53.8 84.1M40.4 115.1L42.4 112.5M38.3 127.2L35.7 124.7M68.0 190.1L66.0 190.8M46.8 120.5L45.2 118.4M126.1 168.3L124.9 169.9M116.8 109.0L114.8 111.6M107.8 77.3L110.9 76.9M38.5 154.1L40.0 151.6M42.5 159.5L42.2 156.2M40.7 125.3L42.6 124.1M47.7 161.7L45.4 160.7M112.5 173.2L110.8 173.8M88.1 205.9L84.9 206.6M123.1 157.8L122.5 160.3M103.1 86.3L103.9 88.1M73.5 70.3L75.6 68.7M41.6 152.0L42.0 150.1M128.8 132.8L128.0 135.2M62.2 190.3L60.7 188.1M118.4 146.3L119.4 147.8M41.3 128.6L43.1 125.8M38.2 136.0L35.7 133.5M89.1 78.1L91.9 76.2M59.2 83.6L62.1 82.9M46.0 98.9L46.1 97.1M97.4 79.3L98.0 82.6M53.7 176.1L50.6 175.0M78.4 78.0L81.5 77.5M36.7 162.0L38.2 159.5M106.3 89.5L108.4 91.8M91.3 205.0L89.4 204.0M75.8 197.2L74.4 195.6M53.3 97.3L53.2 95.3M69.1 201.4L66.4 202.6M68.3 191.2L64.9 192.2M102.8 91.0L104.5 92.2M65.8 77.5L67.7 77.8M45.1 165.8L43.7 163.9" fill="none" stroke="#e01010" stroke-width="1.25" stroke-linecap="round"/>
<path d="M65.6 213.8L60.8 213.0M99.8 170.4L101.6 173.6M104.0 132.6L104.4 137.5M88.5 206.1L85.3 210.2M40.2 63.7L43.5 61.7M99.1 150.4L95.2 154.5M50.6 61.2L54.5 63.1M87.0 108.8L90.5 109.7M98.1 118.0L101.1 121.4M32.2 193.4L31.5 187.7M83.3 72.3L88.9 72.2M99.6 117.9L97.7 121.0M74.6 73.4L79.6 70.9M103.0 130.3L104.0 133.6M51.6 219.5L48.5 223.3M96.9 157.5L91.1 159.0M48.1 211.8L45.5 214.3M85.9 207.0L85.5 212.8M89.5 87.5L90.8 92.2M52.9 61.5L55.0 65.5M25.5 115.4L26.7 112.6M96.5 164.7L93.8 167.7M52.4 72.9L50.7 68.2M97.0 117.4L96.3 121.3M37.6 196.8L36.8 192.9M101.0 150.0L102.8 153.2M68.7 67.5L73.2 69.8M90.6 181.9L86.4 182.8M81.8 74.7L82.2 80.3M29.7 160.3L29.5 156.8M68.8 69.2L74.2 69.2M40.4 200.7L41.6 197.1M42.2 202.8L37.8 199.1M89.4 211.9L83.7 210.5M100.2 98.4L96.6 101.8M26.7 129.3L24.4 127.0M28.4 93.2L23.3 90.7M89.3 89.1L94.3 87.6M81.6 208.8L78.6 211.8M90.8 107.2L95.3 110.4M37.5 203.0L38.9 199.8M72.4 53.0L72.6 56.0M93.1 158.0L92.1 162.1M90.3 137.2L93.3 138.5M90.6 123.9L90.8 127.9M46.7 214.8L44.4 211.3M73.6 202.1L69.2 204.7M37.9 188.2L34.5 184.8M68.6 52.0L71.7 55.0M34.8 199.4L31.5 195.5M23.3 158.2L24.8 155.3M21.5 178.1L25.2 176.3M86.7 91.2L88.2 94.3M78.7 54.2L78.5 59.2M55.1 66.6L58.1 66.8M77.6 190.3L79.9 192.7M82.9 88.6L80.8 91.2M87.0 63.9L83.7 67.3M71.9 54.9L76.1 57.8M94.8 191.4L98.1 193.6M64.4 211.6L59.3 210.3M33.9 186.3L30.8 183.4M100.7 179.5L100.6 184.8M85.6 208.3L81.4 209.9M86.2 92.1L83.7 97.2M53.1 66.6L54.2 62.0M44.3 215.5L46.4 212.2M48.0 54.5L51.7 53.5M69.6 213.2L67.1 215.7M37.9 202.6L31.9 203.0M76.7 63.5L77.2 69.0M90.5 117.4L94.7 120.5M78.3 78.9L81.7 79.9M48.9 55.8L50.4 50.4M46.9 214.1L44.2 215.8M77.2 69.1L79.3 73.6M97.2 138.8L97.2 142.4M37.5 183.3L33.1 180.8M92.9 192.7L97.2 196.6M60.9 52.9L65.4 55.9M59.4 227.8L55.9 224.7M89.4 185.6L85.0 188.1M23.9 105.4L26.0 102.5M85.9 90.7L83.0 92.6M43.3 210.3L40.7 206.1M31.1 156.4L26.0 155.8M60.8 53.7L64.4 52.3M94.4 155.3L91.1 157.6M41.7 208.8L42.3 204.8M78.1 76.6L81.4 75.8M64.2 67.0L67.8 64.7M58.1 52.5L61.4 53.2M30.7 186.6L30.2 183.0M61.3 208.5L58.0 203.9M97.6 109.7L97.1 114.5M96.4 125.2L92.5 127.5M101.1 136.3L101.2 140.8M26.4 156.9L21.9 156.8M35.0 72.1L40.2 74.4M85.5 197.7L88.7 200.2M65.8 218.7L64.0 215.1M83.4 83.3L80.4 87.1M96.5 98.0L100.1 102.0M95.2 103.0L92.7 106.7M83.0 180.0L84.9 182.9M36.8 74.4L40.9 73.5M79.4 211.6L77.8 215.4M67.0 210.0L64.1 208.3M29.9 156.1L26.1 154.4M74.6 196.7L76.2 200.9M94.6 163.3L95.1 168.4M91.9 160.8L97.6 162.3M68.3 212.0L67.7 216.9M42.0 196.2L42.5 192.4M70.4 51.7L74.1 51.1M58.8 218.5L55.7 219.4M35.7 100.1L32.7 98.2M101.8 155.8L98.2 156.5M105.8 122.4L100.4 124.4M100.9 154.6L97.7 154.8M53.3 205.8L49.4 205.0M82.4 212.9L77.9 211.8M90.4 100.2L95.1 102.7M26.3 147.8L29.1 143.9M51.7 63.2L51.7 58.1M103.4 148.2L101.5 150.9M65.9 221.7L62.9 217.0M56.7 63.3L56.7 59.1M96.5 114.7L99.7 115.5M42.8 83.1L40.3 78.9M29.6 99.2L33.3 99.8M68.1 52.7L71.3 54.4M79.7 213.5L80.9 216.3M102.1 118.7L106.4 119.5M70.5 218.1L65.2 217.6M87.2 77.2L89.1 79.9M80.9 63.5L85.5 63.4M91.7 173.0L95.8 175.1M55.8 55.0L59.4 55.5M45.6 197.6L42.1 197.4M103.2 100.0L98.6 101.4M96.2 103.7L91.0 105.9M99.8 108.2L102.4 113.6M99.0 94.4L102.1 95.5M52.8 58.7L55.9 58.9M57.3 60.8L61.8 58.1M57.6 67.7L60.9 65.0M100.4 175.2L95.8 179.0M94.1 126.6L97.6 128.3M84.6 72.4L81.4 76.7M50.2 218.1L48.3 220.9M79.0 199.8L74.6 200.2M104.6 125.8L108.1 126.0M93.1 142.9L97.7 143.9M90.2 177.5L86.2 178.9M60.5 216.1L56.1 213.5M86.4 98.1L91.6 99.0M70.6 52.6L73.7 54.8M83.2 210.2L77.9 208.1M95.2 100.0L97.4 104.0M82.3 211.9L78.7 209.0M28.6 181.7L31.2 178.2M93.9 116.0L94.1 120.2M87.6 64.7L88.4 67.7M19.3 144.4L22.4 143.3M39.7 66.8L45.2 68.9M35.6 70.1L33.9 66.3M78.2 69.3L74.5 73.9M48.0 204.4L44.5 205.8M92.0 127.1L94.7 128.9M82.4 65.4L85.5 63.1M93.0 117.3L93.6 121.1M26.3 116.1L29.8 116.1M99.8 84.8L98.8 89.6M86.6 201.9L88.2 205.1M74.8 72.8L71.8 76.4M32.4 189.8L35.8 188.1M81.5 186.5L81.6 192.3M103.9 179.4L98.1 178.0M65.6 226.1L60.6 226.6M47.0 209.8L46.7 204.5M77.0 222.6L73.9 220.9M90.4 119.5L93.0 121.9M96.4 162.1L93.2 162.9M105.9 144.9L100.8 144.9M89.6 178.4L93.0 181.7M46.7 206.3L42.8 205.3M98.6 101.7L103.1 105.6M57.3 217.6L55.1 214.2M33.9 68.9L35.7 64.8M97.7 129.1L96.7 132.1M66.1 51.9L72.0 51.8M34.0 198.6L36.8 195.3M82.3 79.7L86.3 81.8M27.5 187.9L30.9 184.6M83.5 196.9L80.8 199.0M88.0 172.9L92.3 174.5M99.5 95.3L95.7 99.3M92.9 93.8L98.5 94.4M32.1 198.9L29.0 197.3M72.1 75.3L75.4 72.9M91.5 138.9L94.1 142.1M37.6 83.0L33.3 78.8M44.5 64.2L50.5 64.8M94.7 166.2L94.9 171.8M76.1 66.0L78.7 71.0M70.7 204.0L67.6 204.5M94.6 105.1L98.3 105.4M17.3 117.6L20.0 113.9M74.4 219.1L75.0 223.7M28.5 78.8L34.0 79.6M55.6 68.2L59.3 66.7M74.4 206.7L68.9 204.8M86.0 188.3L87.7 191.4M97.9 154.2L92.8 156.2M92.8 162.9L95.5 165.4M58.5 211.2L56.6 214.3M63.2 211.3L58.9 209.1M78.6 204.4L74.9 207.5M35.7 87.5L41.1 86.1M58.9 218.4L54.4 221.6M106.7 127.9L107.0 131.4M51.3 55.2L54.6 54.7M84.6 74.7L85.9 80.0M75.3 217.8L71.7 219.3M93.2 85.9L88.1 88.2M57.0 67.0L61.5 69.6M40.7 202.9L35.8 201.8M30.0 111.8L31.3 108.1M54.3 63.2L55.6 59.2M32.1 106.6L32.7 103.1M28.0 137.6L28.7 131.9M83.1 81.0L86.8 80.1M88.7 188.3L87.9 192.0M98.4 116.7L98.7 120.2M71.3 222.7L66.0 220.6M94.0 184.6L96.2 188.4M100.2 122.7L104.7 124.9M56.6 215.7L55.8 210.5M60.8 217.9L57.7 218.7M78.4 200.9L73.9 201.3M99.8 111.6L101.4 114.3M90.9 102.0L86.0 103.7M86.3 203.1L83.5 205.3M89.2 202.5L90.9 205.0M92.1 172.5L91.3 178.4M32.1 84.4L28.6 82.8M48.4 72.5L51.7 70.3M101.8 119.5L104.1 124.4M43.3 208.5L44.1 204.6M65.4 205.3L62.2 208.8M53.9 204.0L50.3 203.9M22.6 103.9L25.2 99.6M56.2 61.0L58.5 58.7M69.3 66.9L67.8 71.4M35.5 86.5L38.8 87.8M86.6 189.2L88.6 194.7M31.4 177.0L26.5 178.2M80.8 84.1L80.4 88.0M28.6 150.8L24.0 149.2M87.5 173.9L84.0 173.5M95.8 176.3L91.8 178.3M32.5 79.2L35.4 74.1M103.5 140.1L99.3 141.1M49.9 64.0L53.8 61.2M100.5 150.9L103.2 154.3M61.5 221.9L57.6 217.5M27.6 148.4L23.9 147.9M62.5 205.5L60.5 209.6M61.7 217.0L57.8 218.8M100.7 155.9L102.2 160.9M57.4 208.4L53.5 211.2M90.3 182.8L90.4 187.3M27.2 171.3L28.4 166.3M100.7 90.8L97.6 94.9M104.4 125.8L101.3 127.1M51.9 222.8L48.6 221.7M69.6 211.1L67.3 214.8M88.7 106.2L85.1 107.7M54.9 222.6L51.5 224.0M100.8 102.4L103.4 105.4M70.8 214.4L67.5 217.5M49.4 224.7L48.2 219.4M87.7 166.5L92.2 170.4M90.6 92.0L94.9 92.3M90.8 160.2L93.5 165.4M72.6 208.6L69.3 208.9M89.1 89.6L88.4 94.3M61.1 215.4L60.5 220.9M42.9 199.5L39.1 200.4" fill="none" stroke="#1010ee" stroke-width="1.5" stroke-linecap="round"/>
<rect x="1.5" y="5.5" width="133.5" height="21.3" fill="#fff"/><text x="9.9" y="20.2" font-size="11.2"><tspan fill="#111">Pitch: </tspan><tspan fill="#dd1111">30 deg.</tspan><tspan fill="#111">, </tspan><tspan fill="#2222ee">150 deg.</tspan></text>
<rect x="111.1" y="35.7" width="22.3" height="24.7" fill="#ffff22"/><text x="122.3" y="54.5" font-size="18" text-anchor="middle" fill="#000">c</text>
<rect x="43.5" y="243.5" width="86" height="30" fill="#fff"/><text x="120.0" y="265.3" font-size="18" font-weight="bold" text-anchor="end" fill="#1010ee">1 MeV T</text>
</g>
<rect x="0" y="0" width="139.5" height="279.4" fill="none" stroke="#000" stroke-width="1.7"/>
<path d="M13.9 0v4M13.9 279.4v-4M27.9 0v4M27.9 279.4v-4M41.9 0v4M41.9 279.4v-4M55.8 0v7M55.8 279.4v-7M69.8 0v4M69.8 279.4v-4M83.7 0v4M83.7 279.4v-4M97.7 0v4M97.7 279.4v-4M111.6 0v7M111.6 279.4v-7M125.5 0v4M125.5 279.4v-4M0 14.0h4M139.5 14.0h-4M0 27.9h4M139.5 27.9h-4M0 41.9h4M139.5 41.9h-4M0 55.9h4M139.5 55.9h-4M0 69.8h7M139.5 69.8h-7M0 83.8h4M139.5 83.8h-4M0 97.8h4M139.5 97.8h-4M0 111.8h4M139.5 111.8h-4M0 125.7h4M139.5 125.7h-4M0 139.7h7M139.5 139.7h-7M0 153.7h4M139.5 153.7h-4M0 167.6h4M139.5 167.6h-4M0 181.6h4M139.5 181.6h-4M0 195.6h4M139.5 195.6h-4M0 209.6h7M139.5 209.6h-7M0 223.5h4M139.5 223.5h-4M0 237.5h4M139.5 237.5h-4M0 251.5h4M139.5 251.5h-4M0 265.4h4M139.5 265.4h-4" stroke="#000" stroke-width="1.5" fill="none"/>
<text x="13.1" y="-10.8" font-size="18.25">Passing transit</text>
<text x="0.0" y="297.3" font-size="14.2" font-weight="bold" text-anchor="middle">3.2</text>
<text x="55.8" y="297.3" font-size="14.2" font-weight="bold" text-anchor="middle">3.6</text>
<text x="111.6" y="297.3" font-size="14.2" font-weight="bold" text-anchor="middle">4.0</text>
<text x="69.8" y="326.8" font-size="14.2" font-weight="bold" text-anchor="middle">R (m)</text>
</g>
<g transform="translate(561.7,52.3)">
<clipPath id="cpd"><rect x="0" y="0" width="139.5" height="279.4"/></clipPath>
<g clip-path="url(#cpd)">
<use href="#bg"/>
<path fill="#4f9a25" d="M85.8 96.0h1.5v1.5h-1.5zM95.6 107.1h1.5v1.5h-1.5zM92.5 106.0h1.5v1.5h-1.5zM104.0 90.9h1.5v1.5h-1.5zM77.0 68.8h1.5v1.5h-1.5zM81.3 86.8h1.5v1.5h-1.5zM62.3 67.1h1.5v1.5h-1.5zM81.0 92.5h1.5v1.5h-1.5zM89.6 108.4h1.5v1.5h-1.5zM70.9 64.4h1.5v1.5h-1.5zM67.5 88.4h1.5v1.5h-1.5zM69.6 72.3h1.5v1.5h-1.5zM96.9 81.7h1.5v1.5h-1.5zM68.3 81.7h1.5v1.5h-1.5zM93.0 101.7h1.5v1.5h-1.5zM71.2 87.1h1.5v1.5h-1.5zM69.9 74.8h1.5v1.5h-1.5zM80.2 97.9h1.5v1.5h-1.5zM95.7 102.5h1.5v1.5h-1.5zM55.5 74.0h1.5v1.5h-1.5zM85.1 105.7h1.5v1.5h-1.5zM81.4 72.4h1.5v1.5h-1.5zM68.4 65.0h1.5v1.5h-1.5zM73.4 68.3h1.5v1.5h-1.5zM84.1 100.7h1.5v1.5h-1.5zM76.3 78.4h1.5v1.5h-1.5zM92.0 107.5h1.5v1.5h-1.5zM86.2 98.6h1.5v1.5h-1.5zM56.4 79.2h1.5v1.5h-1.5zM67.1 80.2h1.5v1.5h-1.5zM78.1 95.4h1.5v1.5h-1.5zM77.6 71.3h1.5v1.5h-1.5zM73.3 63.3h1.5v1.5h-1.5zM105.0 89.7h1.5v1.5h-1.5zM78.8 73.9h1.5v1.5h-1.5zM55.4 70.2h1.5v1.5h-1.5zM94.8 103.0h1.5v1.5h-1.5zM94.4 93.5h1.5v1.5h-1.5zM88.1 97.0h1.5v1.5h-1.5zM71.0 94.0h1.5v1.5h-1.5zM66.3 82.0h1.5v1.5h-1.5zM94.1 93.2h1.5v1.5h-1.5zM87.3 87.2h1.5v1.5h-1.5zM64.6 92.2h1.5v1.5h-1.5zM76.7 100.2h1.5v1.5h-1.5zM87.2 99.1h1.5v1.5h-1.5zM70.1 90.7h1.5v1.5h-1.5zM92.3 100.8h1.5v1.5h-1.5zM99.8 93.1h1.5v1.5h-1.5zM79.8 84.4h1.5v1.5h-1.5zM89.7 94.8h1.5v1.5h-1.5zM94.8 87.2h1.5v1.5h-1.5zM88.2 78.4h1.5v1.5h-1.5zM85.8 97.9h1.5v1.5h-1.5zM86.6 94.9h1.5v1.5h-1.5zM75.4 91.0h1.5v1.5h-1.5zM77.2 67.7h1.5v1.5h-1.5zM68.4 65.2h1.5v1.5h-1.5zM76.8 76.2h1.5v1.5h-1.5zM85.2 87.7h1.5v1.5h-1.5zM66.2 77.8h1.5v1.5h-1.5zM71.6 57.2h1.5v1.5h-1.5zM81.4 73.9h1.5v1.5h-1.5zM96.9 78.3h1.5v1.5h-1.5zM96.6 90.6h1.5v1.5h-1.5zM71.4 63.1h1.5v1.5h-1.5zM84.3 86.3h1.5v1.5h-1.5zM85.0 74.6h1.5v1.5h-1.5zM86.2 104.3h1.5v1.5h-1.5zM71.7 79.0h1.5v1.5h-1.5zM63.2 71.3h1.5v1.5h-1.5zM84.3 69.5h1.5v1.5h-1.5zM74.0 72.8h1.5v1.5h-1.5zM66.6 81.5h1.5v1.5h-1.5zM75.6 71.4h1.5v1.5h-1.5zM94.8 100.7h1.5v1.5h-1.5zM65.6 63.8h1.5v1.5h-1.5zM84.9 81.4h1.5v1.5h-1.5zM87.0 88.5h1.5v1.5h-1.5zM93.6 71.8h1.5v1.5h-1.5zM80.7 73.7h1.5v1.5h-1.5zM67.2 84.4h1.5v1.5h-1.5zM76.8 75.1h1.5v1.5h-1.5zM92.7 87.7h1.5v1.5h-1.5zM52.4 69.1h1.5v1.5h-1.5zM100.9 85.3h1.5v1.5h-1.5zM74.7 86.9h1.5v1.5h-1.5zM90.6 90.0h1.5v1.5h-1.5zM72.3 76.8h1.5v1.5h-1.5zM89.9 79.1h1.5v1.5h-1.5zM77.6 85.5h1.5v1.5h-1.5zM78.7 73.4h1.5v1.5h-1.5zM95.4 91.7h1.5v1.5h-1.5zM87.1 107.6h1.5v1.5h-1.5zM73.9 64.1h1.5v1.5h-1.5zM56.5 76.1h1.5v1.5h-1.5zM83.1 96.1h1.5v1.5h-1.5zM74.9 72.6h1.5v1.5h-1.5zM84.5 82.2h1.5v1.5h-1.5zM79.1 105.3h1.5v1.5h-1.5zM81.9 89.4h1.5v1.5h-1.5zM65.3 85.6h1.5v1.5h-1.5zM79.8 62.6h1.5v1.5h-1.5zM63.7 75.7h1.5v1.5h-1.5zM90.9 91.3h1.5v1.5h-1.5zM84.1 68.4h1.5v1.5h-1.5zM100.2 81.7h1.5v1.5h-1.5zM104.5 92.7h1.5v1.5h-1.5zM63.0 61.6h1.5v1.5h-1.5zM105.7 91.8h1.5v1.5h-1.5zM85.9 74.7h1.5v1.5h-1.5zM63.7 73.6h1.5v1.5h-1.5zM85.3 74.4h1.5v1.5h-1.5zM72.3 62.8h1.5v1.5h-1.5zM97.6 90.9h1.5v1.5h-1.5zM96.1 79.1h1.5v1.5h-1.5zM98.8 83.7h1.5v1.5h-1.5zM84.1 86.8h1.5v1.5h-1.5zM92.5 77.0h1.5v1.5h-1.5zM100.9 81.7h1.5v1.5h-1.5zM85.6 78.8h1.5v1.5h-1.5zM76.8 60.7h1.5v1.5h-1.5zM59.2 64.0h1.5v1.5h-1.5zM71.7 76.5h1.5v1.5h-1.5zM64.8 70.5h1.5v1.5h-1.5zM59.5 71.0h1.5v1.5h-1.5zM63.7 81.8h1.5v1.5h-1.5zM89.5 92.3h1.5v1.5h-1.5zM66.9 92.3h1.5v1.5h-1.5zM63.5 59.6h1.5v1.5h-1.5zM71.1 72.4h1.5v1.5h-1.5zM77.0 70.8h1.5v1.5h-1.5zM92.0 94.7h1.5v1.5h-1.5zM59.6 68.5h1.5v1.5h-1.5zM88.6 107.0h1.5v1.5h-1.5zM87.1 78.9h1.5v1.5h-1.5zM73.7 57.7h1.5v1.5h-1.5zM79.9 74.5h1.5v1.5h-1.5zM101.5 82.3h1.5v1.5h-1.5zM64.2 58.0h1.5v1.5h-1.5zM73.0 58.6h1.5v1.5h-1.5zM64.9 77.7h1.5v1.5h-1.5zM67.8 58.1h1.5v1.5h-1.5zM60.6 83.2h1.5v1.5h-1.5zM73.2 84.5h1.5v1.5h-1.5zM55.2 72.5h1.5v1.5h-1.5zM102.8 88.2h1.5v1.5h-1.5zM78.0 86.7h1.5v1.5h-1.5zM71.8 89.6h1.5v1.5h-1.5zM91.6 105.5h1.5v1.5h-1.5zM67.9 79.9h1.5v1.5h-1.5zM56.9 72.4h1.5v1.5h-1.5zM64.3 59.9h1.5v1.5h-1.5zM74.7 87.0h1.5v1.5h-1.5zM64.3 58.6h1.5v1.5h-1.5zM61.7 71.0h1.5v1.5h-1.5zM71.6 60.7h1.5v1.5h-1.5zM74.3 72.5h1.5v1.5h-1.5zM93.2 85.8h1.5v1.5h-1.5zM101.3 91.2h1.5v1.5h-1.5zM93.6 86.9h1.5v1.5h-1.5zM75.5 100.2h1.5v1.5h-1.5zM87.6 107.8h1.5v1.5h-1.5zM91.8 93.8h1.5v1.5h-1.5zM72.1 62.4h1.5v1.5h-1.5zM65.3 92.4h1.5v1.5h-1.5zM66.6 58.7h1.5v1.5h-1.5zM93.8 85.9h1.5v1.5h-1.5zM57.8 74.9h1.5v1.5h-1.5zM85.2 68.0h1.5v1.5h-1.5zM74.8 75.2h1.5v1.5h-1.5zM69.1 55.9h1.5v1.5h-1.5zM83.6 100.7h1.5v1.5h-1.5zM80.5 64.7h1.5v1.5h-1.5zM90.7 79.8h1.5v1.5h-1.5zM103.8 99.0h1.5v1.5h-1.5zM57.1 72.7h1.5v1.5h-1.5zM102.4 80.6h1.5v1.5h-1.5zM75.1 79.5h1.5v1.5h-1.5zM94.0 106.7h1.5v1.5h-1.5zM96.7 78.3h1.5v1.5h-1.5zM77.8 103.7h1.5v1.5h-1.5zM72.7 67.1h1.5v1.5h-1.5zM66.1 66.3h1.5v1.5h-1.5zM82.4 74.9h1.5v1.5h-1.5zM70.4 68.9h1.5v1.5h-1.5zM98.7 89.2h1.5v1.5h-1.5zM73.2 63.1h1.5v1.5h-1.5zM97.7 82.2h1.5v1.5h-1.5zM95.7 73.1h1.5v1.5h-1.5zM89.2 102.7h1.5v1.5h-1.5zM85.8 99.3h1.5v1.5h-1.5zM79.5 87.5h1.5v1.5h-1.5zM60.9 76.7h1.5v1.5h-1.5zM68.4 56.7h1.5v1.5h-1.5zM68.1 76.3h1.5v1.5h-1.5zM77.4 93.9h1.5v1.5h-1.5zM96.8 106.1h1.5v1.5h-1.5zM89.8 92.1h1.5v1.5h-1.5zM80.9 99.2h1.5v1.5h-1.5zM71.0 87.9h1.5v1.5h-1.5zM89.0 84.0h1.5v1.5h-1.5zM66.5 59.5h1.5v1.5h-1.5zM55.3 74.8h1.5v1.5h-1.5zM83.4 97.0h1.5v1.5h-1.5zM91.0 72.1h1.5v1.5h-1.5zM93.2 92.1h1.5v1.5h-1.5zM89.5 101.4h1.5v1.5h-1.5zM92.4 88.9h1.5v1.5h-1.5zM62.2 83.7h1.5v1.5h-1.5zM72.6 65.0h1.5v1.5h-1.5zM87.5 104.7h1.5v1.5h-1.5zM102.1 89.0h1.5v1.5h-1.5zM72.4 61.2h1.5v1.5h-1.5zM89.5 85.7h1.5v1.5h-1.5zM91.0 75.8h1.5v1.5h-1.5zM67.7 70.0h1.5v1.5h-1.5zM85.8 104.6h1.5v1.5h-1.5zM97.6 103.6h1.5v1.5h-1.5zM91.8 78.2h1.5v1.5h-1.5zM74.6 84.3h1.5v1.5h-1.5zM66.3 88.5h1.5v1.5h-1.5zM82.4 88.4h1.5v1.5h-1.5zM60.8 65.7h1.5v1.5h-1.5zM84.2 90.8h1.5v1.5h-1.5zM89.6 95.3h1.5v1.5h-1.5zM87.1 106.2h1.5v1.5h-1.5zM98.2 81.5h1.5v1.5h-1.5zM56.1 65.9h1.5v1.5h-1.5zM59.3 60.4h1.5v1.5h-1.5zM92.2 100.2h1.5v1.5h-1.5zM96.1 94.5h1.5v1.5h-1.5zM85.9 108.3h1.5v1.5h-1.5zM54.0 66.6h1.5v1.5h-1.5zM71.7 80.5h1.5v1.5h-1.5zM89.1 96.1h1.5v1.5h-1.5zM55.1 77.4h1.5v1.5h-1.5zM81.3 75.9h1.5v1.5h-1.5zM71.7 92.9h1.5v1.5h-1.5zM93.6 94.9h1.5v1.5h-1.5zM67.2 61.7h1.5v1.5h-1.5zM77.6 74.7h1.5v1.5h-1.5zM92.3 105.8h1.5v1.5h-1.5zM72.1 71.2h1.5v1.5h-1.5zM78.7 93.6h1.5v1.5h-1.5zM95.2 86.9h1.5v1.5h-1.5zM67.2 73.8h1.5v1.5h-1.5zM98.6 83.8h1.5v1.5h-1.5zM54.5 70.2h1.5v1.5h-1.5zM55.8 81.5h1.5v1.5h-1.5zM55.6 74.8h1.5v1.5h-1.5zM93.9 75.1h1.5v1.5h-1.5zM76.4 76.3h1.5v1.5h-1.5zM75.5 81.2h1.5v1.5h-1.5zM55.2 70.6h1.5v1.5h-1.5zM104.7 93.0h1.5v1.5h-1.5zM72.7 98.1h1.5v1.5h-1.5zM75.1 87.9h1.5v1.5h-1.5zM101.7 90.7h1.5v1.5h-1.5zM97.3 105.6h1.5v1.5h-1.5zM93.4 104.3h1.5v1.5h-1.5zM74.3 70.1h1.5v1.5h-1.5zM77.1 71.0h1.5v1.5h-1.5zM60.0 80.4h1.5v1.5h-1.5zM54.6 76.2h1.5v1.5h-1.5zM101.4 103.9h1.5v1.5h-1.5zM84.4 62.7h1.5v1.5h-1.5zM60.9 78.8h1.5v1.5h-1.5zM71.6 97.9h1.5v1.5h-1.5zM59.0 83.8h1.5v1.5h-1.5zM105.8 93.9h1.5v1.5h-1.5zM87.0 75.9h1.5v1.5h-1.5zM71.3 81.5h1.5v1.5h-1.5zM64.1 86.5h1.5v1.5h-1.5zM65.3 85.2h1.5v1.5h-1.5zM77.7 94.1h1.5v1.5h-1.5zM74.2 83.0h1.5v1.5h-1.5zM85.1 98.9h1.5v1.5h-1.5zM70.0 56.4h1.5v1.5h-1.5zM67.3 80.0h1.5v1.5h-1.5zM87.6 106.1h1.5v1.5h-1.5zM71.4 84.4h1.5v1.5h-1.5zM90.9 106.8h1.5v1.5h-1.5zM67.5 64.4h1.5v1.5h-1.5zM75.9 95.7h1.5v1.5h-1.5zM80.4 76.6h1.5v1.5h-1.5zM81.7 100.9h1.5v1.5h-1.5zM58.2 74.6h1.5v1.5h-1.5zM78.5 86.4h1.5v1.5h-1.5zM62.1 80.2h1.5v1.5h-1.5zM69.8 63.2h1.5v1.5h-1.5zM92.5 69.7h1.5v1.5h-1.5zM97.5 89.7h1.5v1.5h-1.5zM72.5 89.8h1.5v1.5h-1.5zM64.3 69.7h1.5v1.5h-1.5zM100.2 79.4h1.5v1.5h-1.5zM92.4 86.1h1.5v1.5h-1.5zM97.2 82.4h1.5v1.5h-1.5zM91.4 88.9h1.5v1.5h-1.5zM85.2 67.4h1.5v1.5h-1.5zM76.5 90.9h1.5v1.5h-1.5zM101.1 94.9h1.5v1.5h-1.5zM93.5 83.6h1.5v1.5h-1.5zM101.7 80.9h1.5v1.5h-1.5zM59.2 67.2h1.5v1.5h-1.5zM62.0 60.1h1.5v1.5h-1.5zM70.4 59.6h1.5v1.5h-1.5zM74.5 89.4h1.5v1.5h-1.5zM58.2 82.3h1.5v1.5h-1.5zM89.5 79.8h1.5v1.5h-1.5zM83.0 105.4h1.5v1.5h-1.5zM58.6 70.0h1.5v1.5h-1.5zM78.4 84.7h1.5v1.5h-1.5zM101.6 85.8h1.5v1.5h-1.5zM88.0 78.3h1.5v1.5h-1.5zM95.0 101.2h1.5v1.5h-1.5zM67.1 61.2h1.5v1.5h-1.5zM65.1 74.9h1.5v1.5h-1.5zM86.2 90.5h1.5v1.5h-1.5zM94.2 73.8h1.5v1.5h-1.5zM98.4 87.3h1.5v1.5h-1.5zM72.2 90.2h1.5v1.5h-1.5zM91.5 69.6h1.5v1.5h-1.5zM73.6 73.4h1.5v1.5h-1.5zM91.1 77.8h1.5v1.5h-1.5zM67.5 65.2h1.5v1.5h-1.5zM104.0 98.7h1.5v1.5h-1.5zM101.4 83.1h1.5v1.5h-1.5zM56.3 78.1h1.5v1.5h-1.5zM82.5 71.2h1.5v1.5h-1.5zM56.5 83.4h1.5v1.5h-1.5zM76.9 60.9h1.5v1.5h-1.5zM75.2 70.2h1.5v1.5h-1.5zM74.7 66.8h1.5v1.5h-1.5zM79.6 105.8h1.5v1.5h-1.5zM72.1 90.1h1.5v1.5h-1.5zM96.5 84.3h1.5v1.5h-1.5zM83.0 82.8h1.5v1.5h-1.5zM64.9 81.1h1.5v1.5h-1.5zM93.5 88.5h1.5v1.5h-1.5zM58.0 66.4h1.5v1.5h-1.5zM89.9 95.3h1.5v1.5h-1.5zM57.9 64.5h1.5v1.5h-1.5zM55.5 79.8h1.5v1.5h-1.5zM85.6 102.4h1.5v1.5h-1.5zM64.7 74.8h1.5v1.5h-1.5zM69.5 87.8h1.5v1.5h-1.5zM86.7 82.1h1.5v1.5h-1.5zM100.1 105.8h1.5v1.5h-1.5zM66.4 73.6h1.5v1.5h-1.5zM74.3 78.1h1.5v1.5h-1.5zM87.6 96.9h1.5v1.5h-1.5zM98.9 91.6h1.5v1.5h-1.5zM88.8 73.9h1.5v1.5h-1.5zM92.0 83.0h1.5v1.5h-1.5zM90.8 89.0h1.5v1.5h-1.5zM95.3 97.7h1.5v1.5h-1.5zM80.8 81.6h1.5v1.5h-1.5zM57.1 66.4h1.5v1.5h-1.5zM87.4 76.4h1.5v1.5h-1.5z"/>
<path fill="#4f9a25" d="M78.5 66.3h1.5v1.5h-1.5zM87.0 76.9h1.5v1.5h-1.5zM68.3 63.4h1.5v1.5h-1.5zM82.5 99.5h1.5v1.5h-1.5zM70.5 69.9h1.5v1.5h-1.5zM90.6 105.4h1.5v1.5h-1.5zM88.6 78.4h1.5v1.5h-1.5zM71.3 64.7h1.5v1.5h-1.5zM91.1 77.2h1.5v1.5h-1.5zM67.9 69.0h1.5v1.5h-1.5zM92.8 79.9h1.5v1.5h-1.5zM78.1 87.6h1.5v1.5h-1.5zM83.7 73.6h1.5v1.5h-1.5zM97.3 93.2h1.5v1.5h-1.5zM75.3 87.1h1.5v1.5h-1.5zM86.6 101.8h1.5v1.5h-1.5zM94.7 73.1h1.5v1.5h-1.5zM82.3 96.0h1.5v1.5h-1.5zM71.6 82.9h1.5v1.5h-1.5zM96.1 87.0h1.5v1.5h-1.5zM93.4 88.1h1.5v1.5h-1.5zM88.7 81.3h1.5v1.5h-1.5zM99.1 105.2h1.5v1.5h-1.5zM84.5 91.5h1.5v1.5h-1.5zM81.0 91.7h1.5v1.5h-1.5zM72.3 64.7h1.5v1.5h-1.5zM70.7 71.1h1.5v1.5h-1.5zM87.5 102.2h1.5v1.5h-1.5zM98.3 101.3h1.5v1.5h-1.5zM76.7 79.3h1.5v1.5h-1.5zM72.6 70.3h1.5v1.5h-1.5zM74.9 82.7h1.5v1.5h-1.5zM89.1 71.8h1.5v1.5h-1.5zM80.3 86.7h1.5v1.5h-1.5zM103.7 92.8h1.5v1.5h-1.5zM86.2 89.2h1.5v1.5h-1.5zM101.5 97.2h1.5v1.5h-1.5zM100.5 98.0h1.5v1.5h-1.5zM81.2 78.5h1.5v1.5h-1.5zM68.0 62.3h1.5v1.5h-1.5zM73.9 66.9h1.5v1.5h-1.5zM79.2 61.5h1.5v1.5h-1.5zM69.6 76.8h1.5v1.5h-1.5zM75.6 76.0h1.5v1.5h-1.5zM80.1 65.0h1.5v1.5h-1.5zM84.2 82.7h1.5v1.5h-1.5zM69.0 64.0h1.5v1.5h-1.5zM79.3 71.9h1.5v1.5h-1.5zM86.7 66.1h1.5v1.5h-1.5zM100.1 93.1h1.5v1.5h-1.5zM76.0 76.9h1.5v1.5h-1.5zM86.9 97.1h1.5v1.5h-1.5zM78.7 69.9h1.5v1.5h-1.5zM99.7 98.4h1.5v1.5h-1.5zM98.3 95.2h1.5v1.5h-1.5zM74.6 84.3h1.5v1.5h-1.5zM74.4 70.1h1.5v1.5h-1.5zM73.4 69.0h1.5v1.5h-1.5zM90.5 103.1h1.5v1.5h-1.5zM99.2 82.4h1.5v1.5h-1.5zM91.7 98.1h1.5v1.5h-1.5zM101.9 97.3h1.5v1.5h-1.5zM95.6 82.4h1.5v1.5h-1.5zM70.6 66.4h1.5v1.5h-1.5zM101.7 98.5h1.5v1.5h-1.5zM104.8 91.2h1.5v1.5h-1.5zM79.6 85.8h1.5v1.5h-1.5zM104.4 90.8h1.5v1.5h-1.5zM75.6 73.3h1.5v1.5h-1.5zM75.2 87.7h1.5v1.5h-1.5zM75.9 79.5h1.5v1.5h-1.5zM79.7 81.4h1.5v1.5h-1.5zM88.9 103.3h1.5v1.5h-1.5zM85.6 85.0h1.5v1.5h-1.5zM83.2 67.9h1.5v1.5h-1.5zM72.4 82.2h1.5v1.5h-1.5zM94.6 86.2h1.5v1.5h-1.5zM78.6 84.3h1.5v1.5h-1.5zM87.8 97.4h1.5v1.5h-1.5zM75.5 72.5h1.5v1.5h-1.5zM96.4 83.8h1.5v1.5h-1.5zM88.0 96.2h1.5v1.5h-1.5zM90.1 83.7h1.5v1.5h-1.5zM86.0 92.9h1.5v1.5h-1.5zM83.6 85.1h1.5v1.5h-1.5zM93.5 101.9h1.5v1.5h-1.5zM70.4 80.6h1.5v1.5h-1.5zM68.5 70.7h1.5v1.5h-1.5zM96.9 102.9h1.5v1.5h-1.5zM81.5 82.8h1.5v1.5h-1.5zM72.0 80.1h1.5v1.5h-1.5zM86.2 75.6h1.5v1.5h-1.5zM73.4 74.6h1.5v1.5h-1.5zM87.7 80.5h1.5v1.5h-1.5zM90.5 84.1h1.5v1.5h-1.5zM97.1 106.6h1.5v1.5h-1.5zM69.7 72.0h1.5v1.5h-1.5zM76.4 65.3h1.5v1.5h-1.5zM88.4 93.3h1.5v1.5h-1.5zM69.1 61.8h1.5v1.5h-1.5zM93.1 79.8h1.5v1.5h-1.5zM90.9 98.2h1.5v1.5h-1.5zM83.7 75.6h1.5v1.5h-1.5zM76.3 65.3h1.5v1.5h-1.5zM86.6 70.6h1.5v1.5h-1.5zM69.9 66.9h1.5v1.5h-1.5zM67.6 68.8h1.5v1.5h-1.5zM78.0 73.9h1.5v1.5h-1.5zM85.6 67.7h1.5v1.5h-1.5zM94.9 86.0h1.5v1.5h-1.5zM73.1 82.2h1.5v1.5h-1.5zM98.3 80.1h1.5v1.5h-1.5zM85.4 99.8h1.5v1.5h-1.5zM81.3 83.8h1.5v1.5h-1.5zM93.1 107.1h1.5v1.5h-1.5zM93.8 90.1h1.5v1.5h-1.5zM81.7 76.0h1.5v1.5h-1.5zM67.7 65.3h1.5v1.5h-1.5zM75.8 66.9h1.5v1.5h-1.5zM100.4 91.8h1.5v1.5h-1.5zM76.8 70.8h1.5v1.5h-1.5zM77.3 81.5h1.5v1.5h-1.5zM71.9 80.8h1.5v1.5h-1.5zM77.9 76.4h1.5v1.5h-1.5zM84.5 83.6h1.5v1.5h-1.5zM73.6 83.7h1.5v1.5h-1.5zM69.1 78.5h1.5v1.5h-1.5zM67.2 60.1h1.5v1.5h-1.5zM77.7 70.4h1.5v1.5h-1.5zM89.0 84.9h1.5v1.5h-1.5zM95.6 91.2h1.5v1.5h-1.5zM94.2 102.0h1.5v1.5h-1.5zM81.1 74.9h1.5v1.5h-1.5zM94.5 90.5h1.5v1.5h-1.5zM101.2 89.7h1.5v1.5h-1.5zM94.9 98.7h1.5v1.5h-1.5zM85.7 99.9h1.5v1.5h-1.5zM97.7 99.4h1.5v1.5h-1.5zM88.9 102.7h1.5v1.5h-1.5zM92.9 92.9h1.5v1.5h-1.5zM70.9 76.6h1.5v1.5h-1.5zM87.9 89.7h1.5v1.5h-1.5zM90.6 92.3h1.5v1.5h-1.5zM97.5 95.6h1.5v1.5h-1.5zM85.7 85.2h1.5v1.5h-1.5zM68.5 72.0h1.5v1.5h-1.5zM95.1 106.8h1.5v1.5h-1.5zM85.3 77.7h1.5v1.5h-1.5zM84.7 92.5h1.5v1.5h-1.5zM96.2 89.2h1.5v1.5h-1.5zM71.4 71.4h1.5v1.5h-1.5zM95.3 73.9h1.5v1.5h-1.5zM68.0 72.1h1.5v1.5h-1.5zM92.4 92.9h1.5v1.5h-1.5zM92.6 73.2h1.5v1.5h-1.5zM86.2 81.7h1.5v1.5h-1.5zM84.2 64.8h1.5v1.5h-1.5zM83.5 72.1h1.5v1.5h-1.5zM74.0 87.4h1.5v1.5h-1.5zM98.4 83.9h1.5v1.5h-1.5zM101.0 93.4h1.5v1.5h-1.5zM83.6 73.7h1.5v1.5h-1.5zM71.2 75.8h1.5v1.5h-1.5zM102.6 93.9h1.5v1.5h-1.5zM80.4 78.2h1.5v1.5h-1.5zM80.0 79.9h1.5v1.5h-1.5zM76.6 61.3h1.5v1.5h-1.5zM75.5 72.0h1.5v1.5h-1.5zM86.0 68.3h1.5v1.5h-1.5zM100.9 98.7h1.5v1.5h-1.5zM90.8 103.7h1.5v1.5h-1.5zM94.8 81.0h1.5v1.5h-1.5zM95.7 90.5h1.5v1.5h-1.5zM77.0 61.3h1.5v1.5h-1.5zM84.4 75.8h1.5v1.5h-1.5zM91.8 73.7h1.5v1.5h-1.5zM87.8 78.3h1.5v1.5h-1.5zM72.2 66.9h1.5v1.5h-1.5zM85.4 69.7h1.5v1.5h-1.5zM83.5 65.8h1.5v1.5h-1.5z"/>
<path fill="#4f9a25" d="M96.4 208.5h1.5v1.5h-1.5zM78.9 180.2h1.5v1.5h-1.5zM78.1 205.3h1.5v1.5h-1.5zM72.5 205.9h1.5v1.5h-1.5zM66.8 207.5h1.5v1.5h-1.5zM92.8 187.9h1.5v1.5h-1.5zM81.9 201.4h1.5v1.5h-1.5zM62.3 195.0h1.5v1.5h-1.5zM97.1 180.4h1.5v1.5h-1.5zM97.0 201.6h1.5v1.5h-1.5zM99.3 184.0h1.5v1.5h-1.5zM56.6 207.4h1.5v1.5h-1.5zM97.1 189.5h1.5v1.5h-1.5zM87.4 181.7h1.5v1.5h-1.5zM105.4 196.7h1.5v1.5h-1.5zM62.8 200.1h1.5v1.5h-1.5zM71.8 214.1h1.5v1.5h-1.5zM103.0 193.0h1.5v1.5h-1.5zM88.0 202.2h1.5v1.5h-1.5zM85.5 182.4h1.5v1.5h-1.5zM84.8 171.6h1.5v1.5h-1.5zM101.3 193.5h1.5v1.5h-1.5zM58.0 200.5h1.5v1.5h-1.5zM78.8 174.0h1.5v1.5h-1.5zM63.3 210.7h1.5v1.5h-1.5zM91.0 167.7h1.5v1.5h-1.5zM95.5 167.9h1.5v1.5h-1.5zM70.3 212.6h1.5v1.5h-1.5zM86.6 182.5h1.5v1.5h-1.5zM72.8 186.7h1.5v1.5h-1.5zM93.7 187.1h1.5v1.5h-1.5zM107.1 179.4h1.5v1.5h-1.5zM89.4 211.9h1.5v1.5h-1.5zM76.8 208.9h1.5v1.5h-1.5zM96.6 193.1h1.5v1.5h-1.5zM78.1 202.6h1.5v1.5h-1.5zM93.8 180.4h1.5v1.5h-1.5zM79.0 206.6h1.5v1.5h-1.5zM58.4 196.8h1.5v1.5h-1.5zM71.9 180.0h1.5v1.5h-1.5zM77.0 213.8h1.5v1.5h-1.5zM65.8 187.7h1.5v1.5h-1.5zM101.3 197.9h1.5v1.5h-1.5zM66.6 191.0h1.5v1.5h-1.5zM78.5 174.2h1.5v1.5h-1.5zM72.8 182.5h1.5v1.5h-1.5zM97.1 183.3h1.5v1.5h-1.5zM103.8 186.0h1.5v1.5h-1.5zM85.6 183.2h1.5v1.5h-1.5zM74.0 191.6h1.5v1.5h-1.5zM57.7 203.3h1.5v1.5h-1.5zM71.9 214.3h1.5v1.5h-1.5zM99.8 170.2h1.5v1.5h-1.5zM86.2 188.3h1.5v1.5h-1.5zM95.8 208.1h1.5v1.5h-1.5zM79.3 190.7h1.5v1.5h-1.5zM59.6 198.6h1.5v1.5h-1.5zM85.8 174.3h1.5v1.5h-1.5zM87.0 172.0h1.5v1.5h-1.5zM57.3 199.6h1.5v1.5h-1.5zM77.6 212.4h1.5v1.5h-1.5zM87.1 202.4h1.5v1.5h-1.5zM58.6 209.0h1.5v1.5h-1.5zM56.1 198.2h1.5v1.5h-1.5zM102.1 189.8h1.5v1.5h-1.5zM90.8 206.9h1.5v1.5h-1.5zM103.0 189.3h1.5v1.5h-1.5zM95.6 189.6h1.5v1.5h-1.5zM67.0 203.0h1.5v1.5h-1.5zM55.0 207.4h1.5v1.5h-1.5zM106.9 181.5h1.5v1.5h-1.5zM100.1 181.2h1.5v1.5h-1.5zM106.2 188.8h1.5v1.5h-1.5zM56.2 208.2h1.5v1.5h-1.5zM87.6 194.0h1.5v1.5h-1.5zM92.9 172.8h1.5v1.5h-1.5zM82.4 190.4h1.5v1.5h-1.5zM59.9 195.7h1.5v1.5h-1.5zM73.4 178.3h1.5v1.5h-1.5zM63.9 195.5h1.5v1.5h-1.5zM103.1 188.2h1.5v1.5h-1.5zM65.0 195.9h1.5v1.5h-1.5zM96.0 195.7h1.5v1.5h-1.5zM73.0 189.3h1.5v1.5h-1.5zM82.7 200.4h1.5v1.5h-1.5zM92.0 199.6h1.5v1.5h-1.5zM97.1 185.8h1.5v1.5h-1.5zM60.7 198.6h1.5v1.5h-1.5zM53.6 205.3h1.5v1.5h-1.5zM57.9 202.9h1.5v1.5h-1.5zM96.0 178.4h1.5v1.5h-1.5zM83.5 213.5h1.5v1.5h-1.5zM68.0 190.8h1.5v1.5h-1.5zM92.5 210.6h1.5v1.5h-1.5zM60.9 200.4h1.5v1.5h-1.5zM89.7 203.8h1.5v1.5h-1.5zM88.3 181.5h1.5v1.5h-1.5zM76.5 177.2h1.5v1.5h-1.5zM96.1 177.8h1.5v1.5h-1.5zM85.0 179.9h1.5v1.5h-1.5zM96.3 204.6h1.5v1.5h-1.5zM90.2 206.2h1.5v1.5h-1.5zM56.7 197.1h1.5v1.5h-1.5zM105.2 189.0h1.5v1.5h-1.5zM98.6 169.7h1.5v1.5h-1.5zM98.4 171.5h1.5v1.5h-1.5zM84.9 180.8h1.5v1.5h-1.5zM73.2 197.0h1.5v1.5h-1.5zM83.4 198.6h1.5v1.5h-1.5zM78.6 180.7h1.5v1.5h-1.5zM59.1 211.8h1.5v1.5h-1.5zM62.3 189.7h1.5v1.5h-1.5zM97.3 196.1h1.5v1.5h-1.5zM80.5 173.1h1.5v1.5h-1.5zM85.0 190.9h1.5v1.5h-1.5zM100.3 193.8h1.5v1.5h-1.5zM90.8 208.0h1.5v1.5h-1.5zM78.1 209.5h1.5v1.5h-1.5zM102.4 174.8h1.5v1.5h-1.5zM99.9 184.1h1.5v1.5h-1.5zM72.4 210.1h1.5v1.5h-1.5zM86.7 205.8h1.5v1.5h-1.5zM80.9 215.1h1.5v1.5h-1.5zM80.9 206.2h1.5v1.5h-1.5zM79.1 185.4h1.5v1.5h-1.5zM85.0 210.8h1.5v1.5h-1.5zM88.2 207.3h1.5v1.5h-1.5zM57.6 197.4h1.5v1.5h-1.5zM92.2 174.9h1.5v1.5h-1.5zM80.0 172.8h1.5v1.5h-1.5zM90.4 206.3h1.5v1.5h-1.5zM89.1 173.3h1.5v1.5h-1.5zM87.1 210.4h1.5v1.5h-1.5zM93.3 190.1h1.5v1.5h-1.5zM57.6 198.0h1.5v1.5h-1.5zM77.2 207.6h1.5v1.5h-1.5zM83.8 204.0h1.5v1.5h-1.5zM103.1 180.9h1.5v1.5h-1.5zM67.0 203.4h1.5v1.5h-1.5zM73.2 198.5h1.5v1.5h-1.5zM57.1 209.2h1.5v1.5h-1.5zM72.5 209.0h1.5v1.5h-1.5zM59.7 200.7h1.5v1.5h-1.5zM78.0 187.4h1.5v1.5h-1.5zM99.0 172.3h1.5v1.5h-1.5zM89.9 191.2h1.5v1.5h-1.5zM91.4 207.1h1.5v1.5h-1.5zM76.2 179.9h1.5v1.5h-1.5zM82.1 184.5h1.5v1.5h-1.5zM82.3 211.6h1.5v1.5h-1.5zM77.1 216.5h1.5v1.5h-1.5zM92.2 169.4h1.5v1.5h-1.5zM93.8 200.4h1.5v1.5h-1.5zM101.3 192.0h1.5v1.5h-1.5zM81.8 175.6h1.5v1.5h-1.5zM92.7 202.5h1.5v1.5h-1.5zM101.5 178.0h1.5v1.5h-1.5zM92.7 197.0h1.5v1.5h-1.5zM63.9 186.4h1.5v1.5h-1.5zM82.4 185.2h1.5v1.5h-1.5zM88.6 171.5h1.5v1.5h-1.5zM75.8 196.5h1.5v1.5h-1.5zM86.5 197.7h1.5v1.5h-1.5zM66.6 199.2h1.5v1.5h-1.5zM106.6 191.4h1.5v1.5h-1.5zM87.9 209.2h1.5v1.5h-1.5zM106.5 182.2h1.5v1.5h-1.5zM75.6 185.7h1.5v1.5h-1.5zM102.3 175.2h1.5v1.5h-1.5zM67.1 199.8h1.5v1.5h-1.5zM69.4 200.5h1.5v1.5h-1.5zM80.2 171.0h1.5v1.5h-1.5zM81.7 175.9h1.5v1.5h-1.5zM66.5 182.6h1.5v1.5h-1.5zM73.4 196.9h1.5v1.5h-1.5zM99.8 203.2h1.5v1.5h-1.5zM93.4 181.3h1.5v1.5h-1.5zM79.5 203.7h1.5v1.5h-1.5zM102.1 179.2h1.5v1.5h-1.5zM80.6 211.0h1.5v1.5h-1.5zM60.1 206.6h1.5v1.5h-1.5zM87.8 210.6h1.5v1.5h-1.5zM102.5 172.5h1.5v1.5h-1.5zM96.4 173.9h1.5v1.5h-1.5zM69.9 188.2h1.5v1.5h-1.5zM90.8 197.9h1.5v1.5h-1.5zM79.1 183.3h1.5v1.5h-1.5zM86.3 176.8h1.5v1.5h-1.5zM89.4 174.1h1.5v1.5h-1.5zM64.0 184.8h1.5v1.5h-1.5zM83.4 199.7h1.5v1.5h-1.5zM85.0 197.1h1.5v1.5h-1.5zM62.3 213.0h1.5v1.5h-1.5zM93.2 187.6h1.5v1.5h-1.5zM73.9 196.1h1.5v1.5h-1.5zM58.1 199.5h1.5v1.5h-1.5zM102.6 185.4h1.5v1.5h-1.5zM79.7 179.8h1.5v1.5h-1.5zM103.0 186.0h1.5v1.5h-1.5zM71.8 203.0h1.5v1.5h-1.5zM72.5 212.7h1.5v1.5h-1.5zM74.7 196.7h1.5v1.5h-1.5zM68.7 196.8h1.5v1.5h-1.5zM78.2 172.3h1.5v1.5h-1.5zM101.8 175.1h1.5v1.5h-1.5zM84.1 201.2h1.5v1.5h-1.5zM78.0 183.6h1.5v1.5h-1.5zM85.8 191.3h1.5v1.5h-1.5zM87.6 199.3h1.5v1.5h-1.5zM80.6 184.8h1.5v1.5h-1.5zM71.9 212.9h1.5v1.5h-1.5zM84.7 172.8h1.5v1.5h-1.5zM71.0 199.9h1.5v1.5h-1.5zM86.1 194.1h1.5v1.5h-1.5zM98.5 197.7h1.5v1.5h-1.5zM66.4 206.4h1.5v1.5h-1.5zM71.9 214.7h1.5v1.5h-1.5zM86.5 188.1h1.5v1.5h-1.5zM61.3 209.8h1.5v1.5h-1.5zM88.0 195.4h1.5v1.5h-1.5zM78.8 214.2h1.5v1.5h-1.5zM78.1 177.4h1.5v1.5h-1.5zM106.8 188.1h1.5v1.5h-1.5zM71.6 185.7h1.5v1.5h-1.5zM72.4 205.1h1.5v1.5h-1.5zM87.6 181.1h1.5v1.5h-1.5zM62.2 208.2h1.5v1.5h-1.5zM83.2 192.3h1.5v1.5h-1.5zM81.4 213.3h1.5v1.5h-1.5zM89.6 199.2h1.5v1.5h-1.5zM99.9 170.9h1.5v1.5h-1.5zM56.0 201.1h1.5v1.5h-1.5zM89.3 176.8h1.5v1.5h-1.5zM83.7 191.3h1.5v1.5h-1.5zM70.1 200.8h1.5v1.5h-1.5zM76.4 205.7h1.5v1.5h-1.5zM95.1 167.5h1.5v1.5h-1.5zM69.9 194.4h1.5v1.5h-1.5zM68.2 197.3h1.5v1.5h-1.5zM80.4 177.9h1.5v1.5h-1.5zM63.1 187.9h1.5v1.5h-1.5zM85.1 200.0h1.5v1.5h-1.5zM85.3 192.2h1.5v1.5h-1.5zM76.0 210.9h1.5v1.5h-1.5zM62.7 202.4h1.5v1.5h-1.5zM67.4 182.2h1.5v1.5h-1.5zM76.2 176.9h1.5v1.5h-1.5zM64.6 188.8h1.5v1.5h-1.5zM94.3 199.9h1.5v1.5h-1.5zM69.2 203.5h1.5v1.5h-1.5zM74.4 185.1h1.5v1.5h-1.5zM74.6 181.5h1.5v1.5h-1.5zM85.2 200.1h1.5v1.5h-1.5zM86.0 192.3h1.5v1.5h-1.5zM103.4 180.7h1.5v1.5h-1.5zM95.7 173.6h1.5v1.5h-1.5zM87.3 171.4h1.5v1.5h-1.5zM87.8 197.2h1.5v1.5h-1.5zM103.1 179.3h1.5v1.5h-1.5zM86.8 177.6h1.5v1.5h-1.5zM100.0 205.1h1.5v1.5h-1.5zM73.1 195.4h1.5v1.5h-1.5zM98.5 170.0h1.5v1.5h-1.5zM88.6 210.0h1.5v1.5h-1.5zM85.8 193.5h1.5v1.5h-1.5zM67.6 206.4h1.5v1.5h-1.5zM96.7 189.9h1.5v1.5h-1.5zM57.9 208.2h1.5v1.5h-1.5zM74.4 193.2h1.5v1.5h-1.5zM64.9 213.8h1.5v1.5h-1.5zM84.3 183.5h1.5v1.5h-1.5zM87.6 186.2h1.5v1.5h-1.5zM83.2 197.1h1.5v1.5h-1.5zM65.4 210.9h1.5v1.5h-1.5zM75.4 192.7h1.5v1.5h-1.5zM57.4 192.8h1.5v1.5h-1.5zM70.2 197.9h1.5v1.5h-1.5zM90.3 172.1h1.5v1.5h-1.5zM63.0 201.2h1.5v1.5h-1.5zM92.8 206.5h1.5v1.5h-1.5zM90.8 202.6h1.5v1.5h-1.5zM95.0 197.8h1.5v1.5h-1.5zM52.2 200.3h1.5v1.5h-1.5zM72.8 214.5h1.5v1.5h-1.5zM64.8 211.4h1.5v1.5h-1.5zM87.6 205.8h1.5v1.5h-1.5zM57.9 207.6h1.5v1.5h-1.5zM74.1 204.4h1.5v1.5h-1.5zM83.5 180.8h1.5v1.5h-1.5zM81.9 172.4h1.5v1.5h-1.5zM65.9 199.0h1.5v1.5h-1.5zM70.0 216.3h1.5v1.5h-1.5zM72.1 182.4h1.5v1.5h-1.5zM74.1 199.2h1.5v1.5h-1.5zM69.3 216.4h1.5v1.5h-1.5zM62.7 196.6h1.5v1.5h-1.5zM100.9 180.6h1.5v1.5h-1.5zM64.6 192.8h1.5v1.5h-1.5zM100.0 203.0h1.5v1.5h-1.5zM107.2 180.9h1.5v1.5h-1.5zM63.6 199.3h1.5v1.5h-1.5zM90.6 183.4h1.5v1.5h-1.5zM95.7 170.6h1.5v1.5h-1.5zM88.8 209.7h1.5v1.5h-1.5zM83.7 213.2h1.5v1.5h-1.5zM96.1 190.7h1.5v1.5h-1.5zM87.8 205.9h1.5v1.5h-1.5zM106.1 181.8h1.5v1.5h-1.5zM97.0 185.8h1.5v1.5h-1.5zM57.8 203.5h1.5v1.5h-1.5zM74.5 183.3h1.5v1.5h-1.5zM93.0 176.7h1.5v1.5h-1.5zM97.5 190.2h1.5v1.5h-1.5zM75.8 183.7h1.5v1.5h-1.5zM103.5 179.2h1.5v1.5h-1.5zM74.9 180.2h1.5v1.5h-1.5zM90.0 208.1h1.5v1.5h-1.5zM69.4 189.2h1.5v1.5h-1.5zM97.7 169.8h1.5v1.5h-1.5zM66.9 204.1h1.5v1.5h-1.5zM81.4 180.8h1.5v1.5h-1.5zM80.9 194.2h1.5v1.5h-1.5zM104.5 186.4h1.5v1.5h-1.5zM58.8 209.7h1.5v1.5h-1.5zM63.8 210.9h1.5v1.5h-1.5zM106.1 186.3h1.5v1.5h-1.5zM87.2 202.5h1.5v1.5h-1.5zM77.1 207.8h1.5v1.5h-1.5zM69.2 204.1h1.5v1.5h-1.5zM106.0 179.4h1.5v1.5h-1.5zM88.5 167.7h1.5v1.5h-1.5zM100.7 204.6h1.5v1.5h-1.5zM82.6 190.8h1.5v1.5h-1.5zM96.7 170.5h1.5v1.5h-1.5zM81.1 191.9h1.5v1.5h-1.5zM85.1 192.8h1.5v1.5h-1.5zM98.5 198.2h1.5v1.5h-1.5zM71.7 211.2h1.5v1.5h-1.5zM86.7 168.1h1.5v1.5h-1.5zM70.2 201.6h1.5v1.5h-1.5zM91.0 202.4h1.5v1.5h-1.5zM95.2 203.7h1.5v1.5h-1.5zM102.9 180.0h1.5v1.5h-1.5zM97.4 178.6h1.5v1.5h-1.5zM85.6 210.4h1.5v1.5h-1.5zM99.5 177.8h1.5v1.5h-1.5zM101.2 198.3h1.5v1.5h-1.5zM68.0 189.8h1.5v1.5h-1.5zM103.5 174.0h1.5v1.5h-1.5zM98.5 199.0h1.5v1.5h-1.5zM84.4 199.0h1.5v1.5h-1.5zM74.4 209.5h1.5v1.5h-1.5zM105.8 181.2h1.5v1.5h-1.5zM65.0 188.5h1.5v1.5h-1.5zM72.5 194.9h1.5v1.5h-1.5zM104.7 183.4h1.5v1.5h-1.5zM104.3 180.9h1.5v1.5h-1.5zM72.4 204.8h1.5v1.5h-1.5zM89.9 212.6h1.5v1.5h-1.5zM86.3 182.0h1.5v1.5h-1.5zM97.1 179.7h1.5v1.5h-1.5zM100.1 202.3h1.5v1.5h-1.5zM89.0 197.9h1.5v1.5h-1.5zM62.8 191.2h1.5v1.5h-1.5zM75.4 189.5h1.5v1.5h-1.5zM75.4 185.4h1.5v1.5h-1.5zM72.4 177.6h1.5v1.5h-1.5zM59.8 197.7h1.5v1.5h-1.5zM99.5 201.6h1.5v1.5h-1.5zM59.3 191.9h1.5v1.5h-1.5zM99.9 177.0h1.5v1.5h-1.5zM61.7 209.9h1.5v1.5h-1.5zM68.6 206.7h1.5v1.5h-1.5zM82.2 200.1h1.5v1.5h-1.5zM79.6 199.3h1.5v1.5h-1.5zM85.5 213.6h1.5v1.5h-1.5zM79.5 209.7h1.5v1.5h-1.5zM80.5 171.5h1.5v1.5h-1.5zM86.2 211.1h1.5v1.5h-1.5zM75.6 188.4h1.5v1.5h-1.5zM86.9 180.1h1.5v1.5h-1.5zM64.0 192.3h1.5v1.5h-1.5zM76.6 190.8h1.5v1.5h-1.5zM77.0 195.2h1.5v1.5h-1.5zM75.9 201.2h1.5v1.5h-1.5zM78.7 181.4h1.5v1.5h-1.5zM68.9 200.2h1.5v1.5h-1.5zM82.6 175.6h1.5v1.5h-1.5zM65.5 203.4h1.5v1.5h-1.5zM70.3 203.0h1.5v1.5h-1.5zM99.5 181.2h1.5v1.5h-1.5zM99.5 173.1h1.5v1.5h-1.5zM97.6 200.7h1.5v1.5h-1.5zM106.6 186.6h1.5v1.5h-1.5zM102.0 191.3h1.5v1.5h-1.5zM60.4 199.5h1.5v1.5h-1.5zM90.4 200.8h1.5v1.5h-1.5zM90.1 169.8h1.5v1.5h-1.5zM83.5 214.8h1.5v1.5h-1.5zM97.0 189.3h1.5v1.5h-1.5zM81.9 205.0h1.5v1.5h-1.5zM96.1 169.3h1.5v1.5h-1.5zM67.3 186.8h1.5v1.5h-1.5zM52.2 199.8h1.5v1.5h-1.5zM86.2 181.0h1.5v1.5h-1.5zM77.7 176.8h1.5v1.5h-1.5zM77.2 201.1h1.5v1.5h-1.5zM61.1 200.0h1.5v1.5h-1.5zM83.4 178.8h1.5v1.5h-1.5zM88.1 169.2h1.5v1.5h-1.5zM95.8 186.8h1.5v1.5h-1.5zM83.3 195.0h1.5v1.5h-1.5zM79.2 172.3h1.5v1.5h-1.5zM56.2 197.1h1.5v1.5h-1.5zM80.7 178.7h1.5v1.5h-1.5zM68.4 192.2h1.5v1.5h-1.5zM62.3 206.2h1.5v1.5h-1.5zM103.0 203.0h1.5v1.5h-1.5zM70.8 206.0h1.5v1.5h-1.5zM73.7 176.3h1.5v1.5h-1.5zM75.8 179.6h1.5v1.5h-1.5zM98.8 188.4h1.5v1.5h-1.5zM88.7 191.0h1.5v1.5h-1.5zM76.9 184.0h1.5v1.5h-1.5zM61.0 211.7h1.5v1.5h-1.5zM78.0 201.9h1.5v1.5h-1.5zM71.6 214.6h1.5v1.5h-1.5zM100.3 195.6h1.5v1.5h-1.5zM104.9 184.1h1.5v1.5h-1.5zM88.5 200.5h1.5v1.5h-1.5zM91.3 209.6h1.5v1.5h-1.5zM86.8 172.9h1.5v1.5h-1.5zM94.5 174.8h1.5v1.5h-1.5zM66.5 208.5h1.5v1.5h-1.5zM95.2 167.1h1.5v1.5h-1.5zM72.8 198.0h1.5v1.5h-1.5zM68.6 215.2h1.5v1.5h-1.5zM98.5 170.6h1.5v1.5h-1.5zM68.5 214.0h1.5v1.5h-1.5zM63.6 203.7h1.5v1.5h-1.5zM74.8 177.5h1.5v1.5h-1.5zM89.8 201.0h1.5v1.5h-1.5zM82.4 182.5h1.5v1.5h-1.5zM66.0 212.2h1.5v1.5h-1.5zM80.4 212.1h1.5v1.5h-1.5zM83.5 188.8h1.5v1.5h-1.5zM89.6 201.3h1.5v1.5h-1.5zM101.6 203.6h1.5v1.5h-1.5zM98.2 204.9h1.5v1.5h-1.5zM104.4 187.9h1.5v1.5h-1.5zM97.5 182.8h1.5v1.5h-1.5zM59.6 198.3h1.5v1.5h-1.5zM60.8 210.8h1.5v1.5h-1.5zM80.2 185.9h1.5v1.5h-1.5zM70.7 201.3h1.5v1.5h-1.5zM69.5 181.9h1.5v1.5h-1.5zM99.9 197.4h1.5v1.5h-1.5zM56.8 206.6h1.5v1.5h-1.5zM76.2 178.6h1.5v1.5h-1.5zM65.0 206.5h1.5v1.5h-1.5zM62.8 199.4h1.5v1.5h-1.5zM61.1 186.7h1.5v1.5h-1.5zM84.7 177.9h1.5v1.5h-1.5zM87.1 170.0h1.5v1.5h-1.5zM76.7 183.2h1.5v1.5h-1.5zM91.1 170.6h1.5v1.5h-1.5zM96.9 199.6h1.5v1.5h-1.5zM95.0 199.7h1.5v1.5h-1.5zM106.4 182.0h1.5v1.5h-1.5zM56.5 201.2h1.5v1.5h-1.5zM99.5 175.3h1.5v1.5h-1.5zM70.4 213.7h1.5v1.5h-1.5zM65.4 199.8h1.5v1.5h-1.5zM77.3 178.9h1.5v1.5h-1.5zM100.4 173.2h1.5v1.5h-1.5zM76.3 177.1h1.5v1.5h-1.5zM80.1 185.1h1.5v1.5h-1.5zM98.9 201.7h1.5v1.5h-1.5zM102.1 195.8h1.5v1.5h-1.5zM65.1 207.8h1.5v1.5h-1.5zM90.0 178.9h1.5v1.5h-1.5zM79.2 180.5h1.5v1.5h-1.5zM64.1 212.3h1.5v1.5h-1.5zM69.1 216.1h1.5v1.5h-1.5zM79.4 174.9h1.5v1.5h-1.5zM59.2 195.7h1.5v1.5h-1.5zM88.8 184.0h1.5v1.5h-1.5zM60.4 194.3h1.5v1.5h-1.5zM78.5 190.1h1.5v1.5h-1.5zM74.9 179.3h1.5v1.5h-1.5zM91.8 195.3h1.5v1.5h-1.5zM74.0 192.8h1.5v1.5h-1.5zM91.4 208.9h1.5v1.5h-1.5zM105.0 192.6h1.5v1.5h-1.5zM76.6 183.5h1.5v1.5h-1.5zM80.4 182.1h1.5v1.5h-1.5zM79.4 203.4h1.5v1.5h-1.5zM94.5 181.7h1.5v1.5h-1.5zM91.0 205.2h1.5v1.5h-1.5zM70.6 195.6h1.5v1.5h-1.5zM89.9 169.4h1.5v1.5h-1.5zM92.8 185.6h1.5v1.5h-1.5zM71.5 206.5h1.5v1.5h-1.5zM81.4 179.4h1.5v1.5h-1.5zM103.9 180.8h1.5v1.5h-1.5zM98.3 186.6h1.5v1.5h-1.5zM98.1 206.8h1.5v1.5h-1.5zM96.5 204.0h1.5v1.5h-1.5zM87.4 212.6h1.5v1.5h-1.5zM97.9 194.3h1.5v1.5h-1.5zM62.1 206.2h1.5v1.5h-1.5zM60.5 210.1h1.5v1.5h-1.5zM58.2 201.4h1.5v1.5h-1.5zM103.1 174.9h1.5v1.5h-1.5zM99.0 171.7h1.5v1.5h-1.5zM95.6 183.9h1.5v1.5h-1.5zM106.4 184.0h1.5v1.5h-1.5zM66.8 192.8h1.5v1.5h-1.5zM74.7 199.2h1.5v1.5h-1.5zM76.5 188.6h1.5v1.5h-1.5zM76.5 207.5h1.5v1.5h-1.5zM91.5 183.8h1.5v1.5h-1.5zM61.1 195.0h1.5v1.5h-1.5zM78.1 182.5h1.5v1.5h-1.5zM79.8 187.7h1.5v1.5h-1.5zM76.2 192.1h1.5v1.5h-1.5zM103.4 200.9h1.5v1.5h-1.5zM78.2 179.9h1.5v1.5h-1.5zM90.7 200.5h1.5v1.5h-1.5zM105.6 181.2h1.5v1.5h-1.5zM96.4 182.6h1.5v1.5h-1.5zM71.9 195.3h1.5v1.5h-1.5zM86.8 186.1h1.5v1.5h-1.5zM71.0 195.2h1.5v1.5h-1.5zM94.3 183.5h1.5v1.5h-1.5zM76.6 173.4h1.5v1.5h-1.5zM65.6 211.9h1.5v1.5h-1.5zM81.1 177.5h1.5v1.5h-1.5zM84.3 178.9h1.5v1.5h-1.5zM68.4 183.4h1.5v1.5h-1.5zM91.9 203.8h1.5v1.5h-1.5zM66.4 209.5h1.5v1.5h-1.5zM99.4 174.9h1.5v1.5h-1.5zM62.1 200.1h1.5v1.5h-1.5zM56.3 198.2h1.5v1.5h-1.5zM68.8 179.6h1.5v1.5h-1.5zM78.1 179.9h1.5v1.5h-1.5zM90.4 211.0h1.5v1.5h-1.5zM66.9 186.1h1.5v1.5h-1.5zM79.3 211.8h1.5v1.5h-1.5zM61.1 212.6h1.5v1.5h-1.5zM68.9 207.6h1.5v1.5h-1.5zM76.5 184.8h1.5v1.5h-1.5zM68.6 190.8h1.5v1.5h-1.5zM100.0 181.3h1.5v1.5h-1.5zM89.1 176.3h1.5v1.5h-1.5zM76.1 182.7h1.5v1.5h-1.5zM85.2 201.8h1.5v1.5h-1.5zM103.7 200.3h1.5v1.5h-1.5zM96.0 169.8h1.5v1.5h-1.5zM89.2 191.3h1.5v1.5h-1.5zM105.7 174.6h1.5v1.5h-1.5zM61.8 196.9h1.5v1.5h-1.5zM78.9 179.2h1.5v1.5h-1.5zM78.9 208.3h1.5v1.5h-1.5zM79.8 215.1h1.5v1.5h-1.5zM94.4 180.1h1.5v1.5h-1.5zM80.7 178.2h1.5v1.5h-1.5zM94.7 177.8h1.5v1.5h-1.5zM90.6 182.0h1.5v1.5h-1.5zM59.5 197.3h1.5v1.5h-1.5zM91.2 183.8h1.5v1.5h-1.5zM88.0 188.3h1.5v1.5h-1.5zM87.5 209.1h1.5v1.5h-1.5zM105.5 191.5h1.5v1.5h-1.5zM82.1 173.1h1.5v1.5h-1.5zM79.4 183.6h1.5v1.5h-1.5zM66.3 210.9h1.5v1.5h-1.5zM66.3 215.3h1.5v1.5h-1.5zM87.0 187.6h1.5v1.5h-1.5zM72.4 192.4h1.5v1.5h-1.5zM93.2 202.9h1.5v1.5h-1.5zM59.0 190.5h1.5v1.5h-1.5zM88.4 176.6h1.5v1.5h-1.5zM67.2 214.8h1.5v1.5h-1.5zM70.3 195.9h1.5v1.5h-1.5zM93.9 182.9h1.5v1.5h-1.5zM67.2 209.6h1.5v1.5h-1.5zM84.9 197.1h1.5v1.5h-1.5zM106.2 179.0h1.5v1.5h-1.5zM76.1 196.4h1.5v1.5h-1.5zM67.7 184.4h1.5v1.5h-1.5zM73.5 186.2h1.5v1.5h-1.5zM81.1 211.3h1.5v1.5h-1.5zM93.5 171.8h1.5v1.5h-1.5zM94.8 191.4h1.5v1.5h-1.5zM69.6 200.4h1.5v1.5h-1.5zM62.3 197.9h1.5v1.5h-1.5zM84.7 214.0h1.5v1.5h-1.5zM85.6 184.4h1.5v1.5h-1.5zM82.1 198.1h1.5v1.5h-1.5zM88.4 167.7h1.5v1.5h-1.5zM97.4 169.9h1.5v1.5h-1.5zM67.2 214.2h1.5v1.5h-1.5zM102.7 196.2h1.5v1.5h-1.5zM79.3 178.1h1.5v1.5h-1.5zM85.7 169.3h1.5v1.5h-1.5zM102.0 200.2h1.5v1.5h-1.5zM85.1 204.3h1.5v1.5h-1.5zM66.8 198.2h1.5v1.5h-1.5zM88.3 208.7h1.5v1.5h-1.5zM106.6 179.3h1.5v1.5h-1.5zM55.5 201.3h1.5v1.5h-1.5zM69.7 201.4h1.5v1.5h-1.5zM105.1 178.5h1.5v1.5h-1.5zM67.0 197.4h1.5v1.5h-1.5zM98.9 188.3h1.5v1.5h-1.5zM70.0 186.0h1.5v1.5h-1.5zM96.1 180.2h1.5v1.5h-1.5zM95.8 172.8h1.5v1.5h-1.5z"/>
<path fill="#4f9a25" d="M70.7 202.3h1.5v1.5h-1.5zM91.9 191.7h1.5v1.5h-1.5zM84.1 193.2h1.5v1.5h-1.5zM73.4 207.7h1.5v1.5h-1.5zM82.3 210.7h1.5v1.5h-1.5zM68.1 198.6h1.5v1.5h-1.5zM81.0 200.4h1.5v1.5h-1.5zM79.4 201.7h1.5v1.5h-1.5zM86.0 199.9h1.5v1.5h-1.5zM102.5 197.0h1.5v1.5h-1.5zM104.3 193.0h1.5v1.5h-1.5zM89.3 203.3h1.5v1.5h-1.5zM101.7 184.2h1.5v1.5h-1.5zM80.2 209.7h1.5v1.5h-1.5zM71.1 204.8h1.5v1.5h-1.5zM69.6 201.6h1.5v1.5h-1.5zM100.1 193.6h1.5v1.5h-1.5zM87.2 193.9h1.5v1.5h-1.5zM86.4 202.1h1.5v1.5h-1.5zM76.5 190.2h1.5v1.5h-1.5zM81.0 207.8h1.5v1.5h-1.5zM102.1 179.5h1.5v1.5h-1.5zM73.8 204.9h1.5v1.5h-1.5zM96.9 186.6h1.5v1.5h-1.5zM72.5 190.7h1.5v1.5h-1.5zM75.1 189.6h1.5v1.5h-1.5zM83.8 189.9h1.5v1.5h-1.5zM89.7 184.4h1.5v1.5h-1.5zM69.9 194.4h1.5v1.5h-1.5zM80.3 206.7h1.5v1.5h-1.5zM86.3 202.4h1.5v1.5h-1.5zM81.4 196.6h1.5v1.5h-1.5zM96.0 187.1h1.5v1.5h-1.5zM99.8 181.0h1.5v1.5h-1.5zM90.4 193.3h1.5v1.5h-1.5zM85.0 178.6h1.5v1.5h-1.5zM70.6 196.9h1.5v1.5h-1.5zM83.6 203.1h1.5v1.5h-1.5zM94.9 192.2h1.5v1.5h-1.5zM81.7 187.5h1.5v1.5h-1.5zM95.3 202.4h1.5v1.5h-1.5zM80.5 190.5h1.5v1.5h-1.5zM96.5 193.6h1.5v1.5h-1.5zM94.5 180.6h1.5v1.5h-1.5zM75.0 194.6h1.5v1.5h-1.5zM96.1 199.8h1.5v1.5h-1.5zM65.8 198.3h1.5v1.5h-1.5zM80.7 212.4h1.5v1.5h-1.5zM100.4 194.1h1.5v1.5h-1.5zM97.7 184.7h1.5v1.5h-1.5zM100.2 180.4h1.5v1.5h-1.5zM80.7 213.2h1.5v1.5h-1.5zM100.3 185.4h1.5v1.5h-1.5zM77.5 198.3h1.5v1.5h-1.5zM100.1 201.4h1.5v1.5h-1.5zM99.2 198.0h1.5v1.5h-1.5zM80.4 190.3h1.5v1.5h-1.5zM85.6 194.7h1.5v1.5h-1.5zM99.9 183.5h1.5v1.5h-1.5zM68.4 203.5h1.5v1.5h-1.5zM76.7 190.0h1.5v1.5h-1.5zM70.3 207.6h1.5v1.5h-1.5zM76.8 184.5h1.5v1.5h-1.5zM98.5 193.6h1.5v1.5h-1.5zM76.9 210.2h1.5v1.5h-1.5zM82.4 187.5h1.5v1.5h-1.5zM96.2 182.7h1.5v1.5h-1.5zM98.9 197.6h1.5v1.5h-1.5zM99.6 187.8h1.5v1.5h-1.5zM97.6 206.1h1.5v1.5h-1.5zM81.5 200.1h1.5v1.5h-1.5zM71.2 198.2h1.5v1.5h-1.5zM93.6 175.7h1.5v1.5h-1.5zM84.5 209.3h1.5v1.5h-1.5zM69.4 198.1h1.5v1.5h-1.5zM101.0 200.0h1.5v1.5h-1.5zM92.3 187.7h1.5v1.5h-1.5zM95.3 197.7h1.5v1.5h-1.5zM78.6 184.7h1.5v1.5h-1.5zM80.2 186.0h1.5v1.5h-1.5zM86.9 176.9h1.5v1.5h-1.5zM95.1 186.9h1.5v1.5h-1.5zM81.5 190.5h1.5v1.5h-1.5zM97.6 176.2h1.5v1.5h-1.5zM72.8 204.2h1.5v1.5h-1.5zM88.3 203.6h1.5v1.5h-1.5zM99.4 196.0h1.5v1.5h-1.5zM78.9 209.9h1.5v1.5h-1.5zM95.7 192.5h1.5v1.5h-1.5zM96.8 174.6h1.5v1.5h-1.5zM101.9 197.1h1.5v1.5h-1.5zM90.7 189.8h1.5v1.5h-1.5zM103.9 196.8h1.5v1.5h-1.5zM85.6 187.7h1.5v1.5h-1.5zM100.2 194.7h1.5v1.5h-1.5zM78.2 201.2h1.5v1.5h-1.5zM85.1 177.4h1.5v1.5h-1.5zM99.9 193.4h1.5v1.5h-1.5zM105.4 194.9h1.5v1.5h-1.5zM104.0 184.4h1.5v1.5h-1.5zM74.5 194.6h1.5v1.5h-1.5zM92.1 177.3h1.5v1.5h-1.5zM80.8 212.6h1.5v1.5h-1.5zM79.8 202.0h1.5v1.5h-1.5zM91.0 178.1h1.5v1.5h-1.5zM93.8 175.4h1.5v1.5h-1.5zM73.1 196.9h1.5v1.5h-1.5zM83.0 199.1h1.5v1.5h-1.5zM90.2 200.2h1.5v1.5h-1.5zM85.1 179.2h1.5v1.5h-1.5zM75.2 187.7h1.5v1.5h-1.5zM79.7 187.9h1.5v1.5h-1.5zM98.7 188.1h1.5v1.5h-1.5zM91.3 173.6h1.5v1.5h-1.5zM71.3 202.5h1.5v1.5h-1.5zM102.1 185.4h1.5v1.5h-1.5zM80.3 187.7h1.5v1.5h-1.5zM88.6 184.9h1.5v1.5h-1.5zM92.1 205.7h1.5v1.5h-1.5zM97.7 203.8h1.5v1.5h-1.5zM89.5 183.2h1.5v1.5h-1.5zM100.0 184.4h1.5v1.5h-1.5zM100.8 191.2h1.5v1.5h-1.5zM91.3 193.4h1.5v1.5h-1.5zM92.4 186.6h1.5v1.5h-1.5zM89.3 203.6h1.5v1.5h-1.5zM80.4 197.8h1.5v1.5h-1.5zM84.3 192.2h1.5v1.5h-1.5zM81.3 195.5h1.5v1.5h-1.5zM94.6 179.4h1.5v1.5h-1.5zM71.5 207.3h1.5v1.5h-1.5zM69.2 206.1h1.5v1.5h-1.5zM96.7 181.3h1.5v1.5h-1.5zM91.6 182.8h1.5v1.5h-1.5zM101.7 180.4h1.5v1.5h-1.5zM95.0 181.1h1.5v1.5h-1.5zM78.4 214.0h1.5v1.5h-1.5zM95.7 203.7h1.5v1.5h-1.5zM89.2 199.5h1.5v1.5h-1.5zM79.0 208.7h1.5v1.5h-1.5zM82.5 211.1h1.5v1.5h-1.5zM69.5 193.9h1.5v1.5h-1.5zM102.7 190.2h1.5v1.5h-1.5zM92.8 186.8h1.5v1.5h-1.5zM90.0 200.2h1.5v1.5h-1.5zM75.9 201.8h1.5v1.5h-1.5zM94.1 181.6h1.5v1.5h-1.5zM81.8 201.8h1.5v1.5h-1.5zM76.3 194.4h1.5v1.5h-1.5zM90.3 189.4h1.5v1.5h-1.5zM74.1 201.7h1.5v1.5h-1.5zM94.3 180.1h1.5v1.5h-1.5zM98.7 200.1h1.5v1.5h-1.5zM85.8 202.7h1.5v1.5h-1.5zM78.4 200.1h1.5v1.5h-1.5zM86.3 210.0h1.5v1.5h-1.5zM90.9 198.5h1.5v1.5h-1.5zM84.8 181.5h1.5v1.5h-1.5zM98.2 198.2h1.5v1.5h-1.5zM74.6 203.0h1.5v1.5h-1.5zM90.0 180.6h1.5v1.5h-1.5zM93.7 196.2h1.5v1.5h-1.5zM76.5 191.1h1.5v1.5h-1.5zM75.3 197.5h1.5v1.5h-1.5zM81.9 205.0h1.5v1.5h-1.5zM100.7 200.5h1.5v1.5h-1.5zM83.9 197.7h1.5v1.5h-1.5zM85.5 195.5h1.5v1.5h-1.5zM73.8 204.4h1.5v1.5h-1.5zM86.1 188.0h1.5v1.5h-1.5zM85.4 196.9h1.5v1.5h-1.5zM90.6 176.9h1.5v1.5h-1.5zM88.0 180.5h1.5v1.5h-1.5zM91.4 175.2h1.5v1.5h-1.5zM79.3 188.5h1.5v1.5h-1.5zM78.4 192.9h1.5v1.5h-1.5zM72.0 193.0h1.5v1.5h-1.5zM98.2 199.0h1.5v1.5h-1.5zM85.1 192.1h1.5v1.5h-1.5zM87.7 200.6h1.5v1.5h-1.5zM93.9 194.0h1.5v1.5h-1.5zM86.4 189.2h1.5v1.5h-1.5zM83.9 192.3h1.5v1.5h-1.5zM98.5 178.8h1.5v1.5h-1.5zM86.5 201.9h1.5v1.5h-1.5zM91.1 191.2h1.5v1.5h-1.5zM80.2 194.7h1.5v1.5h-1.5zM93.4 198.0h1.5v1.5h-1.5zM76.8 211.1h1.5v1.5h-1.5zM88.2 202.7h1.5v1.5h-1.5zM93.8 190.8h1.5v1.5h-1.5zM94.3 180.1h1.5v1.5h-1.5zM88.0 200.0h1.5v1.5h-1.5zM91.4 184.5h1.5v1.5h-1.5zM85.5 196.4h1.5v1.5h-1.5zM94.5 190.8h1.5v1.5h-1.5zM86.7 196.6h1.5v1.5h-1.5zM89.5 191.0h1.5v1.5h-1.5zM80.6 186.1h1.5v1.5h-1.5zM85.5 196.4h1.5v1.5h-1.5zM69.7 208.3h1.5v1.5h-1.5zM83.9 186.3h1.5v1.5h-1.5zM86.9 201.6h1.5v1.5h-1.5zM89.9 205.7h1.5v1.5h-1.5zM84.8 201.0h1.5v1.5h-1.5zM83.7 183.8h1.5v1.5h-1.5zM88.5 200.6h1.5v1.5h-1.5zM103.2 178.4h1.5v1.5h-1.5zM80.5 206.3h1.5v1.5h-1.5zM86.3 196.1h1.5v1.5h-1.5zM103.1 197.4h1.5v1.5h-1.5zM102.5 181.5h1.5v1.5h-1.5zM100.4 178.8h1.5v1.5h-1.5zM103.6 188.6h1.5v1.5h-1.5zM83.6 184.4h1.5v1.5h-1.5zM85.9 186.3h1.5v1.5h-1.5zM95.5 185.3h1.5v1.5h-1.5zM89.3 176.3h1.5v1.5h-1.5zM88.5 198.7h1.5v1.5h-1.5zM92.2 190.2h1.5v1.5h-1.5zM94.3 173.7h1.5v1.5h-1.5zM91.3 198.7h1.5v1.5h-1.5zM95.2 176.3h1.5v1.5h-1.5zM71.2 207.1h1.5v1.5h-1.5zM80.4 209.9h1.5v1.5h-1.5zM98.4 200.4h1.5v1.5h-1.5zM103.2 193.8h1.5v1.5h-1.5zM77.1 198.9h1.5v1.5h-1.5zM82.7 180.2h1.5v1.5h-1.5zM101.9 194.0h1.5v1.5h-1.5zM96.8 179.0h1.5v1.5h-1.5zM91.3 185.0h1.5v1.5h-1.5zM99.5 194.6h1.5v1.5h-1.5zM91.1 206.5h1.5v1.5h-1.5zM101.9 197.8h1.5v1.5h-1.5zM66.7 201.9h1.5v1.5h-1.5zM95.1 204.7h1.5v1.5h-1.5zM95.2 200.7h1.5v1.5h-1.5zM79.7 213.6h1.5v1.5h-1.5zM77.9 210.3h1.5v1.5h-1.5zM71.1 191.6h1.5v1.5h-1.5zM91.3 195.4h1.5v1.5h-1.5zM99.4 194.8h1.5v1.5h-1.5zM101.8 177.0h1.5v1.5h-1.5zM66.2 197.0h1.5v1.5h-1.5zM94.2 194.8h1.5v1.5h-1.5zM100.4 201.7h1.5v1.5h-1.5zM70.8 198.9h1.5v1.5h-1.5zM79.2 211.5h1.5v1.5h-1.5zM74.6 188.1h1.5v1.5h-1.5zM88.7 180.8h1.5v1.5h-1.5zM84.1 184.7h1.5v1.5h-1.5zM95.1 206.1h1.5v1.5h-1.5zM89.4 209.3h1.5v1.5h-1.5zM85.7 204.1h1.5v1.5h-1.5zM78.8 210.1h1.5v1.5h-1.5zM86.0 188.1h1.5v1.5h-1.5zM92.9 206.5h1.5v1.5h-1.5zM88.6 188.7h1.5v1.5h-1.5zM78.5 183.3h1.5v1.5h-1.5zM79.4 193.5h1.5v1.5h-1.5zM100.9 182.1h1.5v1.5h-1.5zM81.6 183.2h1.5v1.5h-1.5zM91.1 208.9h1.5v1.5h-1.5zM102.9 187.4h1.5v1.5h-1.5zM72.5 203.4h1.5v1.5h-1.5zM96.5 180.1h1.5v1.5h-1.5zM68.0 200.8h1.5v1.5h-1.5zM81.1 194.4h1.5v1.5h-1.5zM88.7 210.0h1.5v1.5h-1.5zM67.0 201.6h1.5v1.5h-1.5zM68.8 208.6h1.5v1.5h-1.5zM90.6 194.0h1.5v1.5h-1.5zM76.5 209.3h1.5v1.5h-1.5zM70.2 196.9h1.5v1.5h-1.5zM99.6 200.2h1.5v1.5h-1.5zM77.3 203.4h1.5v1.5h-1.5zM101.9 196.5h1.5v1.5h-1.5zM101.5 199.3h1.5v1.5h-1.5zM72.1 189.3h1.5v1.5h-1.5zM92.8 187.4h1.5v1.5h-1.5zM93.2 186.4h1.5v1.5h-1.5zM103.0 189.6h1.5v1.5h-1.5zM76.6 190.4h1.5v1.5h-1.5zM95.8 189.3h1.5v1.5h-1.5zM83.9 182.0h1.5v1.5h-1.5zM83.1 209.6h1.5v1.5h-1.5zM92.3 181.8h1.5v1.5h-1.5zM69.9 210.1h1.5v1.5h-1.5zM68.8 198.4h1.5v1.5h-1.5zM90.0 179.8h1.5v1.5h-1.5zM83.7 209.0h1.5v1.5h-1.5zM100.7 191.9h1.5v1.5h-1.5zM100.3 190.6h1.5v1.5h-1.5zM88.2 183.2h1.5v1.5h-1.5zM82.3 211.8h1.5v1.5h-1.5zM70.2 202.1h1.5v1.5h-1.5zM78.4 189.9h1.5v1.5h-1.5zM95.1 187.0h1.5v1.5h-1.5zM85.6 192.9h1.5v1.5h-1.5zM81.6 188.3h1.5v1.5h-1.5zM82.8 184.3h1.5v1.5h-1.5zM83.9 203.8h1.5v1.5h-1.5zM87.5 196.8h1.5v1.5h-1.5zM65.9 198.1h1.5v1.5h-1.5zM74.4 193.2h1.5v1.5h-1.5zM88.5 185.5h1.5v1.5h-1.5zM85.5 209.3h1.5v1.5h-1.5zM84.0 208.2h1.5v1.5h-1.5zM82.1 184.7h1.5v1.5h-1.5zM95.4 177.1h1.5v1.5h-1.5zM95.2 181.4h1.5v1.5h-1.5zM82.3 181.2h1.5v1.5h-1.5zM103.5 191.7h1.5v1.5h-1.5zM101.7 179.7h1.5v1.5h-1.5zM89.5 201.3h1.5v1.5h-1.5zM78.1 198.3h1.5v1.5h-1.5zM102.6 189.8h1.5v1.5h-1.5zM66.7 198.2h1.5v1.5h-1.5zM97.6 191.5h1.5v1.5h-1.5zM100.0 187.2h1.5v1.5h-1.5zM84.1 190.5h1.5v1.5h-1.5zM73.1 210.9h1.5v1.5h-1.5zM78.9 189.9h1.5v1.5h-1.5zM89.2 210.0h1.5v1.5h-1.5zM91.6 177.5h1.5v1.5h-1.5zM92.7 177.5h1.5v1.5h-1.5zM84.8 204.2h1.5v1.5h-1.5zM81.4 185.6h1.5v1.5h-1.5zM78.7 184.5h1.5v1.5h-1.5zM81.6 180.0h1.5v1.5h-1.5zM84.8 197.0h1.5v1.5h-1.5zM91.0 191.1h1.5v1.5h-1.5zM73.6 196.1h1.5v1.5h-1.5zM82.5 185.0h1.5v1.5h-1.5zM95.3 194.1h1.5v1.5h-1.5zM88.8 201.7h1.5v1.5h-1.5zM82.8 194.0h1.5v1.5h-1.5zM84.6 198.3h1.5v1.5h-1.5zM96.9 175.8h1.5v1.5h-1.5zM92.9 181.0h1.5v1.5h-1.5zM71.9 201.5h1.5v1.5h-1.5zM88.9 189.4h1.5v1.5h-1.5zM86.9 184.9h1.5v1.5h-1.5zM82.3 212.5h1.5v1.5h-1.5zM80.8 183.2h1.5v1.5h-1.5zM83.6 212.2h1.5v1.5h-1.5zM78.6 186.2h1.5v1.5h-1.5zM93.9 177.6h1.5v1.5h-1.5zM102.9 178.9h1.5v1.5h-1.5zM84.7 194.7h1.5v1.5h-1.5zM91.1 173.5h1.5v1.5h-1.5zM103.9 178.5h1.5v1.5h-1.5zM94.8 187.1h1.5v1.5h-1.5zM99.3 195.5h1.5v1.5h-1.5zM68.3 197.2h1.5v1.5h-1.5zM85.7 194.3h1.5v1.5h-1.5zM96.3 178.2h1.5v1.5h-1.5zM94.2 205.1h1.5v1.5h-1.5zM103.1 188.5h1.5v1.5h-1.5zM74.7 202.5h1.5v1.5h-1.5zM89.9 185.7h1.5v1.5h-1.5zM103.4 178.5h1.5v1.5h-1.5zM91.9 208.8h1.5v1.5h-1.5zM88.6 203.9h1.5v1.5h-1.5zM83.1 202.2h1.5v1.5h-1.5zM74.3 201.2h1.5v1.5h-1.5zM71.0 196.6h1.5v1.5h-1.5zM84.2 179.5h1.5v1.5h-1.5zM82.6 185.3h1.5v1.5h-1.5zM85.4 189.7h1.5v1.5h-1.5zM105.2 185.5h1.5v1.5h-1.5zM68.2 195.7h1.5v1.5h-1.5zM85.1 187.3h1.5v1.5h-1.5zM103.5 189.2h1.5v1.5h-1.5zM75.1 194.4h1.5v1.5h-1.5zM87.2 203.5h1.5v1.5h-1.5zM87.6 184.4h1.5v1.5h-1.5zM90.2 174.8h1.5v1.5h-1.5zM99.5 195.1h1.5v1.5h-1.5z"/>
<rect x="3.0" y="6.3" width="85.5" height="21.5" fill="#fff"/><text x="11.6" y="20.8" font-size="11.2"><tspan fill="#111">Pitch: </tspan><tspan fill="#4a9a2a">91 deg.</tspan></text>
<rect x="111.1" y="34.9" width="22.3" height="24.7" fill="#ffff22"/><text x="122.3" y="53.7" font-size="18" text-anchor="middle" fill="#000">d</text>
<rect x="52.5" y="239.2" width="87" height="30.2" fill="#fff"/><text x="129.4" y="260.6" font-size="18" font-weight="bold" text-anchor="end" fill="#1010ee">1 MeV T</text>
</g>
<rect x="0" y="0" width="139.5" height="279.4" fill="none" stroke="#000" stroke-width="1.7"/>
<path d="M13.9 0v4M13.9 279.4v-4M27.9 0v4M27.9 279.4v-4M41.9 0v4M41.9 279.4v-4M55.8 0v7M55.8 279.4v-7M69.8 0v4M69.8 279.4v-4M83.7 0v4M83.7 279.4v-4M97.7 0v4M97.7 279.4v-4M111.6 0v7M111.6 279.4v-7M125.5 0v4M125.5 279.4v-4M0 14.0h4M139.5 14.0h-4M0 27.9h4M139.5 27.9h-4M0 41.9h4M139.5 41.9h-4M0 55.9h4M139.5 55.9h-4M0 69.8h7M139.5 69.8h-7M0 83.8h4M139.5 83.8h-4M0 97.8h4M139.5 97.8h-4M0 111.8h4M139.5 111.8h-4M0 125.7h4M139.5 125.7h-4M0 139.7h7M139.5 139.7h-7M0 153.7h4M139.5 153.7h-4M0 167.6h4M139.5 167.6h-4M0 181.6h4M139.5 181.6h-4M0 195.6h4M139.5 195.6h-4M0 209.6h7M139.5 209.6h-7M0 223.5h4M139.5 223.5h-4M0 237.5h4M139.5 237.5h-4M0 251.5h4M139.5 251.5h-4M0 265.4h4M139.5 265.4h-4" stroke="#000" stroke-width="1.5" fill="none"/>
<text x="1.8" y="-12.6" font-size="18.25">Helically trapped</text>
<text x="0.0" y="297.3" font-size="14.2" font-weight="bold" text-anchor="middle">3.2</text>
<text x="55.8" y="297.3" font-size="14.2" font-weight="bold" text-anchor="middle">3.6</text>
<text x="111.6" y="297.3" font-size="14.2" font-weight="bold" text-anchor="middle">4.0</text>
<text x="69.8" y="326.8" font-size="14.2" font-weight="bold" text-anchor="middle">R (m)</text>
</g>
<text x="43.5" y="57.7" font-size="14.3" font-weight="bold" text-anchor="end">1.0</text>
<text x="43.5" y="127.5" font-size="14.3" font-weight="bold" text-anchor="end">0.5</text>
<text x="43.5" y="197.4" font-size="14.3" font-weight="bold" text-anchor="end">0.0</text>
<text x="43.5" y="267.3" font-size="14.3" font-weight="bold" text-anchor="end">-0.5</text>
<text x="43.5" y="337.1" font-size="14.3" font-weight="bold" text-anchor="end">-1.0</text>
<text transform="translate(11.3,192.4) rotate(-90)" font-size="14" font-weight="bold" text-anchor="middle">Z (m)</text>
<text x="554.3" y="10" font-size="14.3" font-style="italic">R</text><text x="564.4" y="13.5" font-size="10">ax</text><text x="574.2" y="10" font-size="14.3">=3.60 m,</text><text x="634.3" y="10" font-size="14.3" font-style="italic">B</text><text x="643.3" y="13.8" font-size="10">t</text><text x="650.1" y="10" font-size="14.3">= 2.75 T</text>
</svg>
</body></html>
